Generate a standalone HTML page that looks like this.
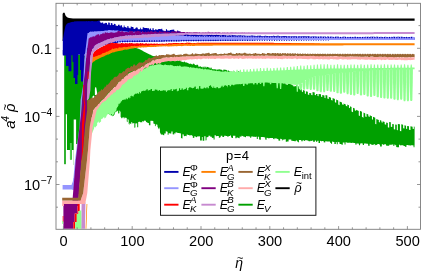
<!DOCTYPE html>
<html><head><meta charset="utf-8"><title>plot</title>
<style>
html,body{margin:0;padding:0;background:#ffffff;}
body{width:425px;height:273px;overflow:hidden;}
svg{display:block;will-change:transform;}
text{font-family:"Liberation Sans",sans-serif;fill:#000000;}
</style></head><body>
<svg width="425" height="273" viewBox="0 0 425 273">
<rect x="0" y="0" width="425" height="273" fill="#ffffff"/>
<g id="plot">
<polygon points="62.6,41 62.6,14 63.2,12.8 64.6,12.8 65.5,15.5 67,17.2 69,18 73,18.5 80,18.6 414.6,18.6 414.6,20.7 100,20.7 97,22.2 90,23 70,26 66,41" fill="#000000" />
<polygon points="64.2,55 65.7,55 65.7,55 67.2,55 67.2,55 68.7,55 68.7,55 70.2,55 70.2,55 71.7,55 71.7,55 73.2,55 73.2,55 74.7,55 74.7,55 76.2,55 76.2,55 77.7,55 77.7,55 79.2,55 79.2,55 80.7,55 80.7,55 82.2,55 82.2,55 83.7,55 83.7,55 85.2,56.5 85.2,56.5 86.7,58.38 86.7,58.38 88.2,60.2 88.2,60.2 89.7,61.7 89.7,61.7 91.2,62.65 91.2,62.65 92.7,60.02 92.7,60.02 94.2,57.4 94.2,57.4 95.7,55.65 95.7,55.65 97.2,54.9 97.2,54.9 98.7,54.15 98.7,54.15 100.2,53.4 100.2,53.4 101.7,52.65 101.7,52.65 103.2,51.9 103.2,51.9 104.7,51.15 104.7,51.15 106.2,50.88 106.2,50.88 107.7,50.73 107.7,50.73 109.2,50.58 109.2,50.58 110.7,50.43 110.7,50.43 112.2,50.28 112.2,50.28 113.7,50.13 113.7,50.13 115.2,49.98 115.2,49.98 116.7,49.83 116.7,49.83 118.2,49.68 118.2,49.68 119.7,49.53 119.7,49.53 121.2,49.32 121.2,49.32 122.7,49.09 122.7,49.09 124.2,48.87 124.2,48.87 125.7,48.65 125.7,48.65 127.2,48.49 127.2,48.49 128.7,48.35 128.7,48.35 130.2,48.21 130.2,48.21 131.7,48.07 131.7,48.07 133.2,47.98 133.2,47.98 134.7,47.94 134.7,47.94 136.2,47.97 136.2,47.97 137.7,48.54 137.7,48.54 139.2,49.1 139.2,49.1 140.7,49.79 140.7,49.79 142.2,50.62 142.2,50.62 143.7,51.45 143.7,51.45 145.2,52.26 145.2,52.26 146.7,53.03 146.7,53.03 148.2,53.79 148.2,53.79 149.7,54.42 149.7,54.42 151.2,55 151.2,55.28 152.32,55.71 152.32,55.73 153.77,56.17 153.77,56 155.11,56.29 155.11,56.1 155.95,56.29 155.95,56.39 156.77,56.57 156.77,56.82 157.62,57.01 157.62,55.96 158.84,56.43 158.84,57.43 159.75,57.85 159.75,56.48 161.19,57.14 161.19,58.35 162.57,58.99 162.57,59.19 164.36,60.02 164.36,59.91 166.03,60.68 166.03,60.77 166.96,60.99 166.96,59.98 168.06,60 168.06,60.54 169.03,60.55 169.03,60.86 170.48,60.88 170.48,61.06 171.83,61.08 171.83,61.03 172.67,61.04 172.67,60.84 174.16,60.87 174.16,60.62 175.26,60.64 175.26,61.02 176.51,61.04 176.51,60.42 178.12,60.44 178.12,60.7 179.15,60.71 179.15,59.99 180.48,60.14 180.48,61.23 182.02,61.67 182.02,61.75 183.82,62.26 183.82,61.41 185.03,61.75 185.03,62.29 185.97,62.55 185.97,62.22 186.79,62.46 186.79,62.64 188.37,63.09 188.37,63.43 190.06,63.91 190.06,63.53 191.56,63.97 191.56,64.19 192.94,64.62 192.94,63.5 194.6,64.01 194.6,64.77 195.87,65.17 195.87,65.09 196.71,65.35 196.71,64.51 198.17,64.96 198.17,66.44 199.8,66.84 199.8,66.28 200.98,66.48 200.98,66.85 201.79,66.98 201.79,67.26 202.74,67.42 202.74,66.54 203.58,66.69 203.58,67.51 204.5,67.66 204.5,66.56 205.68,66.76 205.68,67.67 206.55,67.81 206.55,66.87 207.9,67.1 207.9,67.16 209.53,67.44 209.53,68.37 210.6,68.55 210.6,67.56 211.75,67.76 211.75,68.95 213.53,69.25 213.53,69.21 214.49,69.38 214.49,69.12 215.52,69.29 215.52,69.53 216.91,69.72 216.91,69.57 217.69,69.66 217.69,69.44 218.86,69.57 218.86,69.32 220.63,69.52 220.63,69.67 221.94,69.83 221.94,70.38 223.43,70.55 223.43,69.62 225.14,69.82 225.14,69.77 226.83,69.96 226.83,70.73 228.02,70.86 228.02,70.49 228.91,70.59 228.91,71.17 229.75,71.27 229.75,71.24 230.75,71.42 230.75,71.45 231.88,71.67 231.88,71.65 232.66,71.81 232.66,71.66 233.55,71.84 233.55,70.82 234.36,70.98 234.36,72.15 235.77,72.43 235.77,72.3 236.82,72.51 236.82,72.65 237.98,72.88 237.98,71.32 239.64,71.65 239.64,72.9 240.9,73.16 240.9,73.47 241.77,73.64 241.77,73.57 242.91,73.8 242.91,73.85 244.55,74.18 244.55,72.78 245.35,72.94 245.35,74.35 246.68,74.61 246.68,74.64 248.03,74.91 248.03,73.38 249.36,73.65 249.36,74.45 251.04,74.84 251.04,75.38 252.09,75.65 252.09,74.92 253.04,75.16 253.04,75.14 254.38,75.47 254.38,76.33 255.5,76.62 255.5,75.13 257.12,75.53 257.12,76.08 258.79,76.5 258.79,76.67 260.42,77.08 260.42,77.53 261.44,77.78 261.44,78.16 262.59,78.45 262.59,78.35 263.39,78.55 263.39,77.94 264.44,78.2 264.44,78.64 266.22,79.08 266.22,77.8 267.97,78.24 267.97,79.62 269.75,80.06 269.75,80.18 270.76,80.42 270.76,80.43 271.74,80.67 271.74,79.45 273.17,79.79 273.17,80.74 274.82,81.14 274.82,80.48 276.28,80.83 276.28,81.17 277.15,81.37 277.15,81.08 278.88,81.5 278.88,82.12 280.44,82.49 280.44,81.85 281.4,82.09 281.4,82.06 282.53,82.33 282.53,83.1 284.32,83.53 284.32,82.32 285.52,82.6 285.52,84.2 287.05,84.55 287.05,84.56 287.96,84.77 287.96,83.02 289.68,83.42 289.68,83.32 290.62,83.53 290.62,84.28 292.42,84.77 292.42,85.15 293.56,85.63 293.56,86.4 294.48,86.79 294.48,85.68 296.27,86.44 296.27,85.08 297.59,85.64 297.59,85.99 298.82,86.51 298.82,88.55 300,89.05 300,88.27 301.83,89.15 301.83,91.62 302.97,92.17 302.97,89.9 304.81,90.78 304.81,93.54 305.89,93.9 305.89,91.2 307.85,91.79 307.85,94.61 309.2,95.02 309.2,92.93 311.24,93.35 311.24,95.02 312.55,95.21 312.55,92.11 314.73,92.44 314.73,95.03 315.99,95.22 315.99,93.88 317.5,94.1 317.5,96.01 318.6,96.18 318.6,93.88 321.04,94.35 321.04,96.82 322.24,97.12 322.24,95.01 324.46,95.57 324.46,97.86 325.52,98.13 325.52,95.02 327.35,95.48 327.35,98.54 328.81,99.04 328.81,96.76 331.04,97.7 331.04,99.91 332.59,100.56 332.59,97.94 334.88,98.91 334.88,102.3 336.19,102.85 336.19,99.5 338.28,100.39 338.28,104.58 339.57,105.14 339.57,101.5 341.97,102.55 341.97,104.26 343.54,104.98 343.54,103.39 345.77,104.53 345.77,105.77 347.27,106.54 347.27,104.5 348.93,105.35 348.93,107.77 349.97,108.3 349.97,106.24 351.57,107.04 351.57,111.47 353.04,112.16 353.04,107.8 354.74,108.59 354.74,110.28 356.13,110.93 356.13,109.64 358.78,110.98 358.78,115.49 359.91,116.08 359.91,110.81 361.93,111.87 361.93,116.8 363.53,117.64 363.53,112.62 365.24,113.48 365.24,116.54 366.55,117.05 366.55,113.81 368.3,114.5 368.3,116.37 369.73,116.93 369.73,115.25 371.95,116.15 371.95,119.27 372.96,119.71 372.96,116.71 375.28,117.72 375.28,123.89 376.31,124.35 376.31,118.91 378.84,120 378.84,122.06 379.9,122.44 379.9,120.07 381.45,120.63 381.45,122.33 382.62,122.74 382.62,121.25 384.66,121.98 384.66,124.13 386.16,124.65 386.16,122.51 387.85,122.93 387.85,127.34 389.19,127.68 389.19,121.89 390.81,122.29 390.81,126.7 392.22,127.05 392.22,124.06 393.82,124.32 393.82,129.29 395.2,129.51 395.2,124.41 396.8,124.67 396.8,130.12 397.84,130.28 397.84,124 399.93,124.33 399.93,130.99 401.27,131.34 401.27,124.34 403.11,124.84 403.11,128.2 404.43,128.55 404.43,125.24 406.07,125.67 406.07,128.8 407.1,128.95 407.1,126.05 409.01,126.34 409.01,129.73 410.46,129.95 410.46,126.36 412.61,126.68 412.61,128.8 413.82,128.98 413.82,126.61 414.6,126.72 414.6,145.54 414.48,145.53 414.48,147.27 413.54,147.24 413.54,145.4 412.5,145.36 412.5,145.32 410.95,145.26 410.95,145.48 409.58,145.43 409.58,145.32 407.93,145.26 407.93,145.11 406.46,145.06 406.46,146.81 404.9,146.75 404.9,146.05 403.48,146 403.48,145.3 402.45,145.26 402.45,145.33 400.93,145.27 400.93,145.39 400.05,145.36 400.05,144.82 399,144.78 399,147.26 397.3,147.2 397.3,147.16 396.18,147.12 396.18,145.36 395.37,145.33 395.37,144.65 394.33,144.61 394.33,145.97 393.34,145.94 393.34,144.58 391.75,144.52 391.75,144.78 390.64,144.74 390.64,144.69 389.23,144.64 389.23,145.87 387.59,145.81 387.59,145.67 385.98,145.61 385.98,144.36 384.23,144.29 384.23,144.77 383,144.73 383,144.31 381.82,144.27 381.82,146.45 380.05,146.38 380.05,144.58 379.02,144.54 379.02,144.04 377.26,143.97 377.26,144.91 375.53,144.85 375.53,145.29 374.75,145.26 374.75,144.03 373.64,143.99 373.64,145.07 372.58,145.03 372.58,144.69 370.81,144.62 370.81,143.88 369.67,143.84 369.67,145.72 368.12,145.66 368.12,143.76 366.38,143.7 366.38,143.58 365.56,143.55 365.56,143.54 363.99,143.46 363.99,145.08 362.78,145 362.78,143.39 361.07,143.28 361.07,143.56 360.09,143.5 360.09,145.35 358.92,145.28 358.92,143.64 358.09,143.59 358.09,143.51 356.45,143.41 356.45,144.66 355.3,144.59 355.3,143.01 353.52,142.9 353.52,142.85 351.74,142.74 351.74,142.97 350.67,142.91 350.67,142.65 349.72,142.59 349.72,142.82 348.55,142.75 348.55,142.82 347.08,142.73 347.08,142.43 345.52,142.34 345.52,144.55 344.55,144.49 344.55,142.5 342.8,142.39 342.8,144.72 341.26,144.62 341.26,144.03 339.54,143.92 339.54,142.3 338.7,142.25 338.7,141.93 337.77,141.87 337.77,144.28 336.77,144.22 336.77,142.14 335.84,142.08 335.84,144.03 334.37,143.94 334.37,142.04 333.36,141.98 333.36,141.67 332.06,141.59 332.06,143.83 330.97,143.76 330.97,142.87 329.96,142.81 329.96,141.51 328.33,141.41 328.33,141.5 326.54,141.4 326.54,141.28 325.24,141.2 325.24,142.44 323.63,142.35 323.63,141.1 322.14,141.01 322.14,141.32 321.01,141.26 321.01,140.88 319.99,140.82 319.99,142.97 318.52,142.89 318.52,140.86 317.3,140.79 317.3,141.73 316,141.66 316,140.58 314.9,140.52 314.9,141.7 313.12,141.63 313.12,140.56 312.1,140.52 312.1,140.9 310.4,140.83 310.4,141.31 308.62,141.24 308.62,140.73 307.53,140.69 307.53,140.22 306.12,140.17 306.12,140.26 304.94,140.21 304.94,140.9 303.61,140.85 303.61,140.07 302.72,140.04 302.72,141.19 301.28,141.13 301.28,140.09 300.36,140.06 300.36,140.08 298.91,140.03 298.91,142.21 297.89,142.17 297.89,141.45 297.07,141.42 297.07,140.52 295.81,140.47 295.81,141.29 294.36,141.23 294.36,141.04 292.6,140.97 292.6,140.81 291.28,140.75 291.28,139.56 290.38,139.52 290.38,139.61 288.59,139.54 288.59,141.45 286.95,141.38 286.95,141.77 285.77,141.73 285.77,139.29 284.38,139.2 284.38,139.75 282.66,139.58 282.66,140.38 281.85,140.3 281.85,138.95 280.16,138.78 280.16,140.78 278.39,140.61 278.39,139.09 277.2,138.97 277.2,138.61 276.13,138.51 276.13,138.47 274.46,138.3 274.46,139.25 273.15,139.12 273.15,138.11 271.37,137.93 271.37,138.07 270.52,137.98 270.52,138.08 269.35,137.96 269.35,138.39 268.14,138.27 268.14,137.99 266.58,137.83 266.58,139.63 265.21,139.49 265.21,137.43 264.18,137.32 264.18,137.19 263.04,137.08 263.04,137.08 262.06,136.98 262.06,137 260.82,136.88 260.82,139.7 259.09,139.57 259.09,136.82 257.8,136.76 257.8,138.97 256.8,138.92 256.8,136.66 255.85,136.61 255.85,136.93 254.49,136.87 254.49,136.7 253.02,136.63 253.02,136.57 251.23,136.49 251.23,137.82 250.14,137.77 250.14,136.56 248.87,136.5 248.87,136.26 247.12,136.17 247.12,136.15 246.05,136.09 246.05,137.19 244.48,137.11 244.48,136.51 242.94,136.44 242.94,135.95 241.41,135.87 241.41,136.64 239.65,136.55 239.65,138.14 238.22,138.07 238.22,137.54 236.52,137.45 236.52,138.24 235.35,138.19 235.35,135.65 234.04,135.64 234.04,135.73 233,135.74 233,138.07 231.92,138.08 231.92,137.53 231.04,137.53 231.04,135.6 229.97,135.61 229.97,136.06 228.82,136.07 228.82,136.52 227,136.54 227,136.01 225.83,136.02 225.83,135.84 224.11,135.86 224.11,137.04 222.37,137.05 222.37,135.71 220.72,135.73 220.72,137.24 219.93,137.24 219.93,137.67 218.83,137.69 218.83,136 217.9,136.01 217.9,135.94 216.65,135.95 216.65,136.35 215.87,136.36 215.87,135.33 214.58,135.36 214.58,139.4 213.56,139.46 213.56,137.78 211.86,137.88 211.86,136.67 210.23,136.76 210.23,135.67 208.45,135.76 208.45,136.94 207.53,136.99 207.53,137.31 206.53,137.36 206.53,140.34 205.53,140.39 205.53,136.15 204.28,136.22 204.28,140.7 202.65,140.79 202.65,136.95 201.85,136.99 201.85,140.5 200.05,140.6 200.05,136.32 198.34,136.41 198.34,136.31 197.08,136.38 197.08,137.28 195.76,137.05 195.76,136.44 194.28,136.16 194.28,138.1 192.8,137.81 192.8,135.82 191.96,135.66 191.96,135.37 190.59,135.11 190.59,135.48 189.03,135.19 189.03,135.06 188.1,134.89 188.1,134.65 186.65,134.38 186.65,136.13 185.08,135.82 185.08,136.27 183.8,136.02 183.8,134.42 182.5,134.16 182.5,138.39 180.95,138.08 180.95,133.39 179.42,133.08 179.42,133.2 178.56,133.03 178.56,133 177.01,132.69 177.01,132.46 175.55,132.16 175.55,133.44 174.24,133.18 174.24,134.59 172.63,134.27 172.63,131.57 171.34,131.42 171.34,133.61 169.91,133.56 169.91,133.2 168.55,133.15 168.55,134.77 167.66,134.73 167.66,131.83 166.74,131.79 166.74,131.25 165.73,131.21 165.73,133.5 164.24,133.44 164.24,135.15 162.85,135.1 162.85,134.47 161.23,134.41 161.23,135.11 159.93,132.17 159.93,129.41 159,126.88 159,129.39 157.46,126.47 157.46,124.72 155.75,124.16 155.75,126.17 154.93,125.9 154.93,124.01 153.39,123.51 153.39,121.18 151.59,120.59 151.59,121.04 150.4,120.87 150.4,125.15 148.88,125.23 148.88,122.95 147.32,123.03 147.32,122.06 145.93,122.13 145.93,120.81 144.83,120.87 144.83,120.61 144.01,120.65 144.01,121.5 143.14,121.54 143.14,121.04 142.35,121.07 142.35,122.15 141.36,122.2 141.36,122.19 140.09,122.36 140.09,121.72 139.31,121.85 139.31,121.74 138.2,121.93 138.2,127.19 137.17,127.36 137.17,123.14 135.38,123.43 135.38,127.61 134.33,127.79 134.33,122.99 133.38,123.15 133.38,123.23 132.3,123.41 132.3,122.53 131.22,121.97 131.22,124.35 129.54,123.02 129.54,124.74 128.67,124.06 128.67,119.8 127.62,118.98 127.62,122.17 126.77,121.5 126.77,118.26 125.93,117.61 125.93,118.16 124.73,117.05 124.73,118.79 123.22,116.64 123.22,118.55 122.08,116.94 122.08,118.82 120.59,116.7 120.59,111.98 119.4,110.3 119.4,113.16 118.1,113.57 118.1,110.28 116.47,112.05 116.47,111.09 114.72,112.98 114.72,114.18 113.74,115.24 113.74,115.72 112.2,116.16 112.2,115.63 110.7,114.94 110.7,114.94 109.2,114.25 109.2,114.25 107.7,113.55 107.7,113.55 106.2,112.86 106.2,112.86 104.7,112.17 104.7,112.17 103.2,111.48 103.2,111.48 101.7,110.78 101.7,110.78 100.2,110.09 100.2,110.09 98.7,111.08 98.7,111.08 97.2,112.33 97.2,112.33 95.7,113.58 95.7,113.58 94.2,114.83 94.2,114.83 92.7,116.08 92.7,116.08 91.2,117.33 91.2,117.33 89.7,118.58 89.7,118.58 88.2,119.83 88.2,119.83 86.7,126.5 86.7,126.5 85.2,134 85.2,134 83.7,143.75 83.7,143.75 82.2,162.5 82.2,162.5 80.7,165 80.7,165 79.2,165 79.2,165 77.7,165 77.7,165 76.2,165 76.2,165 74.7,165 74.7,165 73.2,165 73.2,165 71.7,165 71.7,165 70.2,165 70.2,165 68.7,165 68.7,165 67.2,165 67.2,165 65.7,165 65.7,165 64.2,165" fill="#00a000" />
<polygon points="65.8,114.3 67,114.3 67,166 65.8,166" fill="#ffffff" />
<polygon points="73.7,119.5 76.1,119.5 76.1,166 73.7,166" fill="#ffffff" />
<polygon points="79.4,143 83,143 83,166 79.4,166" fill="#ffffff" />
<polygon points="76.1,144 79.4,144 79.4,166 76.1,166" fill="#ffffff" />
<polygon points="64.2,164 65.8,164 65.8,166 64.2,166" fill="#ffffff" />
<polygon points="67,150 70,150 70,159.5 72,159.5 72,150 73.7,150 73.7,166 67,166" fill="#ffffff" />
<polygon points="69.9,143 71.8,143 71.8,159.5 69.9,159.5" fill="#55cc55" />
<polygon points="94.9,95 94.9,89 95.4,86.9 96.2,87.5 97.2,93 97.2,95" fill="#ffffff" />
<polygon points="92.5,99 92.5,96.5 93.6,95.4 94.4,96 94.4,99" fill="#ffffff" />
<polygon points="92,128.01 93.1,119.21 93.1,119.35 94.04,112.09 94.04,111.91 95.71,109.4 95.71,109.84 97.22,107.58 97.22,106.79 97.98,105.65 97.98,106.12 98.88,104.76 98.88,105.05 100.49,102.82 100.49,102.73 101.64,101.47 101.64,101.29 103.27,99.5 103.27,99.27 104.59,97.82 104.59,97.71 105.44,96.77 105.44,96.72 106.74,95.29 106.74,95.77 107.47,94.96 107.47,94.49 108.37,93.5 108.37,93.36 109.85,91.73 109.85,92.21 110.67,91.52 110.67,91.13 112,90.06 112,90.18 113.39,89.07 113.39,89.1 114.41,88.29 114.41,88.39 115.67,87.38 115.67,87.33 117.22,86.09 117.22,85.93 118.13,85.2 118.13,85.42 118.85,84.84 118.85,85.3 120.36,84.13 120.36,83.26 121.52,82.45 121.52,83.34 122.77,82.47 122.77,81.93 123.58,81.37 123.58,81.28 124.78,80.44 124.78,80.26 126,79.41 126,80.26 127.19,79.43 127.19,79.41 128.1,78.77 128.1,77.88 129.76,76.72 129.76,77.57 131.37,76.61 131.37,75.86 132.68,75.1 132.68,75.34 134.16,74.49 134.16,74.26 135.69,73.37 135.69,73.71 136.62,73.17 136.62,72.9 137.71,72.26 137.71,72.06 139.13,71.23 139.13,71.23 140.38,70.53 140.38,71.09 141.91,70.28 141.91,69.99 143.16,69.33 143.16,69.45 144.28,68.85 144.28,68.87 145.63,68.15 145.63,68.2 146.38,67.81 146.38,68.1 147.32,67.6 147.32,67.29 148.48,66.68 148.48,66.63 149.3,66.2 149.3,66.28 150.11,65.88 150.11,65.45 150.87,65.26 150.87,65.68 152.3,65.31 152.3,65.18 153.07,64.98 153.07,65.46 154.7,65.03 154.7,64.99 156.38,64.94 156.38,64.62 157.28,64.63 157.28,64.3 158.92,64.33 158.92,64.23 160.4,64.26 160.4,64.35 161.45,64.37 161.45,65.03 163.04,65.06 163.04,65.16 163.89,65.17 163.89,64.76 164.81,64.78 164.81,64.45 165.84,64.47 165.84,64.97 166.71,65 166.71,65.11 168.29,65.27 168.29,65.12 169.12,65.21 169.12,65.13 170.19,65.24 170.19,64.78 171.47,64.92 171.47,65.21 173.14,65.38 173.14,65.97 174.63,66.13 174.63,65.9 175.9,66.03 175.9,66.01 177.04,66.13 177.04,65.64 177.81,65.72 177.81,66.05 179.14,66.19 179.14,65.6 180.5,65.74 180.5,66.36 181.25,66.44 181.25,66.72 182.39,66.83 182.39,66.59 183.24,66.68 183.24,66.38 183.98,66.47 183.98,66.34 184.8,66.44 184.8,66.42 186.08,66.58 186.08,66.51 187.4,66.67 187.4,66.69 189.02,66.88 189.02,67.61 189.83,67.7 189.83,67.1 191.3,67.28 191.3,67.57 192.03,67.66 192.03,67.55 193.09,67.67 193.09,67.48 194.71,67.68 194.71,67.96 196.3,68.15 196.3,67.68 197.4,67.82 197.4,68.31 198.87,68.49 198.87,68.14 200.5,68.34 200.5,68.78 201.8,68.94 201.8,68.61 203.3,68.8 203.3,69.38 204.31,69.51 204.31,68.63 205.78,68.81 205.78,69.27 207.31,69.46 207.31,69.22 208.74,69.41 208.74,69.22 209.56,69.32 209.56,69.98 210.61,70.11 210.61,69.68 212.14,69.87 212.14,70.4 213.39,70.55 213.39,70.41 214.61,70.56 214.61,70.8 216.26,71.01 216.26,70.36 216.99,70.46 216.99,70.97 218.43,71.15 218.43,70.73 219.46,70.86 219.46,71.16 220.41,71.26 220.41,71.61 221.8,71.7 221.8,71.42 222.97,71.5 222.97,71.52 224.51,71.63 224.51,71.11 225.78,71.2 225.78,71.9 227.09,71.95 227.09,71.15 227.95,71.18 227.95,71.21 228,71.21 228,87.29 227.5,87.35 227.5,85.65 225.99,85.83 225.99,85.07 224.73,85.21 224.73,85.68 223.81,85.78 223.81,87.04 222.64,87.17 222.64,85.71 221.59,85.84 221.59,86.77 220.84,86.85 220.84,87.83 219.63,87.94 219.63,88.25 218.01,88.3 218.01,87.22 217.27,87.24 217.27,87.08 216.47,87.1 216.47,88.27 215.39,88.31 215.39,87.87 214.13,87.91 214.13,86.57 213.41,86.6 213.41,88.02 212.21,88.06 212.21,86.72 211.04,86.76 211.04,85.2 210.19,85.22 210.19,85.86 208.93,85.9 208.93,88.23 207.5,88.28 207.5,87.01 206.59,87.04 206.59,88.15 205.02,88.2 205.02,87.59 203.71,87.7 203.71,88.5 202.23,88.69 202.23,88.73 201.18,88.87 201.18,88.41 200.32,88.52 200.32,86.09 198.97,86.26 198.97,89.33 198.24,89.42 198.24,88.27 197.38,88.38 197.38,88.93 195.87,89.12 195.87,86.5 194.26,86.71 194.26,87.81 192.92,87.98 192.92,88.22 191.91,88.35 191.91,87.69 190.5,87.83 190.5,86.96 189.37,87.04 189.37,87.94 188.4,88.01 188.4,90.16 186.88,90.26 186.88,87.65 185.87,87.72 185.87,88.95 184.37,89.06 184.37,89.67 182.72,89.78 182.72,88.3 181.55,88.38 181.55,89.85 180.09,89.95 180.09,88.13 178.99,88.21 178.99,90.63 177.76,90.71 177.76,91.21 176.83,91.27 176.83,88.84 175.44,88.94 175.44,89.5 174.7,89.55 174.7,89.47 173.93,89.53 173.93,89.37 173.09,89.43 173.09,90.89 171.72,90.99 171.72,89 170.6,89.07 170.6,90.2 169.27,90.29 169.27,90.25 168.03,90.34 168.03,90.56 166.81,90.65 166.81,91.96 165.94,91.97 165.94,90.54 164.28,90.5 164.28,90.31 162.81,90.27 162.81,90.86 161.2,90.82 161.2,90.89 159.88,90.86 159.88,90.07 158.92,90.04 158.92,90.67 157.45,90.63 157.45,89.87 156.13,89.84 156.13,89.46 154.79,89.42 154.79,90.74 153.4,90.71 153.4,91.05 151.99,91.01 151.99,89.04 150.55,89.01 150.55,90.16 148.96,90.12 148.96,90.52 147.66,90.49 147.66,89.05 146.33,89.42 146.33,90.28 144.85,90.87 144.85,90.63 143.76,91.06 143.76,90.59 142.43,91.12 142.43,91.1 141,91.66 141,93.1 139.91,93.53 139.91,91.86 139.1,92.19 139.1,93.69 138.19,94.05 138.19,93.09 136.97,93.57 136.97,93.56 136.1,93.91 136.1,93.5 134.71,94.07 134.71,94.42 133.76,94.9 133.76,96.3 132.92,96.72 132.92,95.99 131.78,96.56 131.78,95.58 130.42,96.26 130.42,97.88 129.39,98.4 129.39,97.21 127.95,97.94 127.95,98.91 126.78,99.5 126.78,98.25 125.7,98.79 125.7,99.43 124.73,99.92 124.73,99.22 123.15,100.01 123.15,99.72 122.05,100.27 122.05,101.03 120.73,101.69 120.73,102.62 119.25,104.49 119.25,102.8 118.43,104.46 118.43,105.46 117.5,107.33 117.5,106.81 116.53,108.77 116.53,110.08 115.34,112.49 115.34,110.93 114.15,113.34 114.15,114.07 112.49,115.55 112.49,116.36 111.77,115.93 111.77,114.16 110.96,113.68 110.96,115.75 109.72,115.02 109.72,114.54 108.26,114.09 108.26,113.28 107.51,114.15 107.51,114.69 106.31,116.07 106.31,117.11 105.23,118.34 105.23,117.6 104.27,118.71 104.27,116.63 103.24,117.56 103.24,118.11 102.43,118.7 102.43,118.38 101.1,119.33 101.1,121.5 99.6,122.57 99.6,122.64 98.77,123.23 98.77,121.31 97.15,123.04 97.15,125.16 96.36,126.15 96.36,126.08 94.86,127.97 94.86,126.38 94.08,127.37 94.08,128.49 92.75,131.47 92.75,131.34 92,133.58" fill="#90ff90" />
<polygon points="225,71.6 226.5,71.61 226.5,71.61 228,71.66 228,71.66 229.5,71.7 229.5,71.7 231,71.74 231,71.74 232.5,71.79 232.5,71.79 234,71.83 234,71.83 235.5,71.87 235.5,71.87 237,71.91 237,71.91 238.5,71.96 238.5,71.96 240,72 240,72 241.5,71.94 241.5,71.94 243,71.88 243,71.88 244.5,71.82 244.5,71.82 246,71.76 246,71.76 247.5,71.7 247.5,71.7 249,71.64 249,71.64 250.5,71.58 250.5,71.58 252,71.52 252,71.52 253.5,71.46 253.5,71.46 255,71.4 255,71.4 256.5,71.34 256.5,71.34 258,71.28 258,71.28 259.5,71.22 259.5,71.22 261,71.16 261,71.16 262.5,71.1 262.5,71.1 264,71.04 264,71.04 265.5,70.98 265.5,70.98 267,70.92 267,70.92 268.5,70.86 268.5,70.86 270,70.8 270,70.8 271.5,70.74 271.5,70.74 273,70.68 273,70.68 274.5,70.62 274.5,70.62 276,70.56 276,70.56 277.5,70.5 277.5,70.5 279,70.44 279,70.44 280.5,70.38 280.5,70.38 282,70.31 282,70.31 283.5,70.24 283.5,70.24 285,70.18 285,70.18 286.5,70.11 286.5,70.11 288,70.04 288,70.04 289.5,69.97 289.5,69.97 291,69.91 291,69.91 292.5,69.84 292.5,69.84 294,69.77 294,69.77 295.5,69.7 295.5,69.7 297,69.64 297,69.64 298.5,69.57 298.5,69.57 300,69.5 300,69.5 301.5,69.44 301.5,69.44 303,69.38 303,69.38 304.5,69.32 304.5,69.32 306,69.26 306,69.26 307.5,69.2 307.5,69.2 309,69.14 309,69.14 310.5,69.08 310.5,69.08 312,69.02 312,69.02 313.5,68.96 313.5,68.96 315,68.9 315,68.9 316.5,68.84 316.5,68.84 318,68.78 318,68.78 319.5,68.72 319.5,68.72 321,68.69 321,68.69 322.5,68.67 322.5,68.67 324,68.65 324,68.65 325.5,68.64 325.5,68.64 327,68.62 327,68.62 328.5,68.6 328.5,68.6 330,68.58 330,68.58 331.5,68.57 331.5,68.57 333,68.55 333,68.55 334.5,68.53 334.5,68.53 336,68.51 336,68.51 337.5,68.5 337.5,68.5 339,68.48 339,68.48 340.5,68.46 340.5,68.46 342,68.44 342,68.44 343.5,68.43 343.5,68.43 345,68.41 345,68.41 346.5,68.39 346.5,68.39 348,68.37 348,68.37 349.5,68.36 349.5,68.36 351,68.34 351,68.34 352.5,68.32 352.5,68.32 354,68.3 354,68.3 355.5,68.29 355.5,68.29 357,68.27 357,68.27 358.5,68.25 358.5,68.25 360,68.23 360,68.23 361.5,68.22 361.5,68.22 363,68.2 363,68.2 364.5,68.18 364.5,68.18 366,68.17 366,68.17 367.5,68.15 367.5,68.15 369,68.13 369,68.13 370.5,68.11 370.5,68.11 372,68.1 372,68.1 373.5,68.08 373.5,68.08 375,68.06 375,68.06 376.5,68.04 376.5,68.04 378,68.03 378,68.03 379.5,68.01 379.5,68.01 381,67.99 381,67.99 382.5,67.97 382.5,67.97 384,67.96 384,67.96 385.5,67.94 385.5,67.94 387,67.92 387,67.92 388.5,67.9 388.5,67.9 390,67.89 390,67.89 391.5,67.87 391.5,67.87 393,67.85 393,67.85 394.5,67.83 394.5,67.83 396,67.82 396,67.82 397.5,67.8 397.5,67.8 399,67.78 399,67.78 400.5,67.76 400.5,67.76 402,67.75 402,67.75 403.5,67.73 403.5,67.73 405,67.71 405,67.71 406.5,67.69 406.5,67.69 408,67.68 408,67.68 409.5,67.66 409.5,67.66 411,67.64 411,67.64 412.5,67.62 412.5,67.62 414,67.61 414,67.61 414.6,67.6 414.6,69.3 414,69.31 414,69.31 412.5,69.34 412.5,69.34 411,69.37 411,69.37 409.5,69.39 409.5,69.39 408,69.42 408,69.42 406.5,69.45 406.5,69.45 405,69.47 405,69.47 403.5,69.5 403.5,69.5 402,69.53 402,69.53 400.5,69.56 400.5,69.56 399,69.58 399,69.58 397.5,69.61 397.5,69.61 396,69.64 396,69.64 394.5,69.66 394.5,69.66 393,69.69 393,69.69 391.5,69.72 391.5,69.72 390,69.75 390,69.75 388.5,69.77 388.5,69.77 387,69.8 387,69.8 385.5,69.83 385.5,69.83 384,69.85 384,69.85 382.5,69.88 382.5,69.88 381,69.91 381,69.91 379.5,69.94 379.5,69.94 378,69.96 378,69.96 376.5,69.99 376.5,69.99 375,70.08 375,70.08 373.5,70.21 373.5,70.21 372,70.33 372,70.33 370.5,70.46 370.5,70.46 369,70.58 369,70.58 367.5,70.71 367.5,70.71 366,70.83 366,70.83 364.5,70.96 364.5,70.96 363,71.08 363,71.08 361.5,71.21 361.5,71.21 360,71.33 360,71.33 358.5,71.46 358.5,71.46 357,71.58 357,71.58 355.5,71.71 355.5,71.71 354,71.83 354,71.83 352.5,71.96 352.5,71.96 351,72.08 351,72.08 349.5,72.21 349.5,72.21 348,72.33 348,72.33 346.5,72.46 346.5,72.46 345,72.58 345,72.58 343.5,72.71 343.5,72.71 342,72.83 342,72.83 340.5,72.96 340.5,72.96 339,73.14 339,73.14 337.5,73.35 337.5,73.35 336,73.56 336,73.56 334.5,73.77 334.5,73.77 333,73.98 333,73.98 331.5,74.19 331.5,74.19 330,74.4 330,74.4 328.5,74.61 328.5,74.61 327,74.82 327,74.82 325.5,75.03 325.5,75.03 324,75.24 324,75.24 322.5,75.45 322.5,75.45 321,75.66 321,75.66 319.5,75.87 319.5,75.87 318,76.08 318,76.08 316.5,76.29 316.5,76.29 315,76.5 315,76.5 313.5,77.08 313.5,77.08 312,77.67 312,77.67 310.5,78.25 310.5,78.25 309,78.83 309,78.83 307.5,79.42 307.5,79.42 306,80 306,80 304.5,81.2 304.5,81.2 303,82.4 303,82.4 301.5,83.6 301.5,83.6 300,84.2 300,84.2 298.5,84.5 298.5,84.5 297,84.8 297,84.8 295.5,84.93 295.5,84.93 294,84.73 294,84.73 292.5,84.52 292.5,84.52 291,84.32 291,84.32 289.5,84.11 289.5,84.11 288,83.91 288,83.91 286.5,83.7 286.5,83.7 285,83.5 285,83.5 283.5,83.43 283.5,83.43 282,83.35 282,83.35 280.5,83.28 280.5,83.28 279,83.2 279,83.2 277.5,83.13 277.5,83.13 276,83.05 276,83.05 274.5,82.98 274.5,82.98 273,82.91 273,82.91 271.5,82.83 271.5,82.83 270,82.76 270,82.76 268.5,82.68 268.5,82.68 267,82.61 267,82.61 265.5,82.53 265.5,82.53 264,82.55 264,82.55 262.5,82.64 262.5,82.64 261,82.73 261,82.73 259.5,82.82 259.5,82.82 258,82.91 258,82.91 256.5,83 256.5,83 255,83.09 255,83.09 253.5,83.18 253.5,83.18 252,83.27 252,83.27 250.5,83.36 250.5,83.36 249,83.46 249,83.46 247.5,83.55 247.5,83.55 246,83.64 246,83.64 244.5,83.73 244.5,83.73 243,83.82 243,83.82 241.5,83.91 241.5,83.91 240,84 240,84 238.5,84.13 238.5,84.13 237,84.26 237,84.26 235.5,84.39 235.5,84.39 234,84.51 234,84.51 232.5,84.64 232.5,84.64 231,84.77 231,84.77 229.5,84.9 229.5,84.9 228,85.03 228,85.03 226.5,85.16 226.5,85.16 225,85.2" fill="#90ff90" />
<polygon points="229.4,72.32 229.85,70.88 230.85,70.88 231.3,72.32" fill="#90ff90" />
<polygon points="229.4,84.23 231.3,84.23 230.95,86.15 229.75,86.15" fill="#90ff90" />
<polygon points="232.75,72.42 233.2,70.55 234.2,70.55 234.65,72.42" fill="#90ff90" />
<polygon points="232.75,83.94 234.65,83.94 234.3,85.36 233.1,85.36" fill="#90ff90" />
<polygon points="236.1,72.52 236.55,69.75 237.55,69.75 238,72.52" fill="#90ff90" />
<polygon points="239.45,72.58 239.9,69.81 240.9,69.81 241.35,72.58" fill="#90ff90" />
<polygon points="239.45,83.38 241.35,83.38 241,84.35 239.8,84.35" fill="#90ff90" />
<polygon points="242.8,72.45 243.25,69.24 244.25,69.24 244.7,72.45" fill="#90ff90" />
<polygon points="242.8,83.17 244.7,83.17 244.35,85.95 243.15,85.95" fill="#90ff90" />
<polygon points="246.15,72.32 246.6,69.39 247.6,69.39 248.05,72.32" fill="#90ff90" />
<polygon points="246.15,82.97 248.05,82.97 247.7,84.78 246.5,84.78" fill="#90ff90" />
<polygon points="249.5,72.18 249.95,69.09 250.95,69.09 251.4,72.18" fill="#90ff90" />
<polygon points="252.85,72.05 253.3,68.77 254.3,68.77 254.75,72.05" fill="#90ff90" />
<polygon points="252.85,82.57 254.75,82.57 254.4,84.57 253.2,84.57" fill="#90ff90" />
<polygon points="256.2,71.91 256.65,68.6 257.65,68.6 258.1,71.91" fill="#90ff90" />
<polygon points="256.2,82.36 258.1,82.36 257.75,84.57 256.55,84.57" fill="#90ff90" />
<polygon points="259.55,71.78 260,68.11 261,68.11 261.45,71.78" fill="#90ff90" />
<polygon points="259.55,82.16 261.45,82.16 261.1,84.11 259.9,84.11" fill="#90ff90" />
<polygon points="262.9,71.65 263.35,68.32 264.35,68.32 264.8,71.65" fill="#90ff90" />
<polygon points="262.9,81.96 264.8,81.96 264.45,86.16 263.25,86.16" fill="#90ff90" />
<polygon points="266.25,71.51 266.7,67.77 267.7,67.77 268.15,71.51" fill="#90ff90" />
<polygon points="269.6,71.38 270.05,68.18 271.05,68.18 271.5,71.38" fill="#90ff90" />
<polygon points="269.6,82.18 271.5,82.18 271.15,84.24 269.95,84.24" fill="#90ff90" />
<polygon points="272.95,71.24 273.4,68.01 274.4,68.01 274.85,71.24" fill="#90ff90" />
<polygon points="276.3,71.11 276.75,67.73 277.75,67.73 278.2,71.11" fill="#90ff90" />
<polygon points="276.3,82.52 278.2,82.52 277.85,88.15 276.65,88.15" fill="#90ff90" />
<polygon points="279.65,70.97 280.1,67.52 281.1,67.52 281.55,70.97" fill="#90ff90" />
<polygon points="279.65,82.68 281.55,82.68 281.2,89.11 280,89.11" fill="#90ff90" />
<polygon points="283,70.82 283.45,67.45 284.45,67.45 284.9,70.82" fill="#90ff90" />
<polygon points="286.35,70.67 286.8,66.89 287.8,66.89 288.25,70.67" fill="#90ff90" />
<polygon points="286.35,83.21 288.25,83.21 287.9,84.81 286.7,84.81" fill="#90ff90" />
<polygon points="289.7,70.52 290.15,66.68 291.15,66.68 291.6,70.52" fill="#90ff90" />
<polygon points="293.05,70.37 293.5,66.49 294.5,66.49 294.95,70.37" fill="#90ff90" />
<polygon points="296.4,70.22 296.85,65.94 297.85,65.94 298.3,70.22" fill="#90ff90" />
<polygon points="296.4,84.13 298.3,84.13 297.95,91.79 296.75,91.79" fill="#90ff90" />
<polygon points="299.75,70.07 300.2,65.62 301.2,65.62 301.65,70.07" fill="#90ff90" />
<polygon points="299.04,83.46 302.36,83.46 302.2,86.54 301.8,89.05 301.4,90.25 300,90.25 299.6,89.05 299.2,86.54" fill="#90ff90" />
<polygon points="303.1,69.94 303.55,65.69 304.55,65.69 305,69.94" fill="#90ff90" />
<polygon points="302.39,80.96 305.71,80.96 305.55,84.83 305.15,88.53 304.75,89.73 303.35,89.73 302.95,88.53 302.55,84.83" fill="#90ff90" />
<polygon points="306.45,69.8 306.9,65.18 307.9,65.18 308.35,69.8" fill="#90ff90" />
<polygon points="305.74,78.86 309.06,78.86 308.9,83.42 308.5,88.17 308.1,89.37 306.7,89.37 306.3,88.17 305.9,83.42" fill="#90ff90" />
<polygon points="309.8,69.67 310.25,65.15 311.25,65.15 311.7,69.67" fill="#90ff90" />
<polygon points="309.09,77.55 312.41,77.55 312.25,82.84 311.85,88.68 311.45,89.88 310.05,89.88 309.65,88.68 309.25,82.84" fill="#90ff90" />
<polygon points="313.15,69.54 313.6,64.69 314.6,64.69 315.05,69.54" fill="#90ff90" />
<polygon points="312.44,76.25 315.76,76.25 315.6,82.04 315.2,88.63 314.8,89.83 313.4,89.83 313,88.63 312.6,82.04" fill="#90ff90" />
<polygon points="316.5,69.4 316.95,64.43 317.95,64.43 318.4,69.4" fill="#90ff90" />
<polygon points="315.79,75.56 319.11,75.56 318.95,82.23 318.55,90.14 318.15,91.34 316.75,91.34 316.35,90.14 315.95,82.23" fill="#90ff90" />
<polygon points="319.85,69.29 320.3,64.37 321.3,64.37 321.75,69.29" fill="#90ff90" />
<polygon points="319.14,75.09 322.46,75.09 322.3,82.28 321.9,90.96 321.5,92.16 320.1,92.16 319.7,90.96 319.3,82.28" fill="#90ff90" />
<polygon points="323.2,69.25 323.65,64.35 324.65,64.35 325.1,69.25" fill="#90ff90" />
<polygon points="322.49,74.62 325.81,74.62 325.65,82.05 325.25,91.1 324.85,92.3 323.45,92.3 323.05,91.1 322.65,82.05" fill="#90ff90" />
<polygon points="326.55,69.21 327,64.37 328,64.37 328.45,69.21" fill="#90ff90" />
<polygon points="325.84,74.15 329.16,74.15 329,81.28 328.6,89.88 328.2,91.08 326.8,91.08 326.4,89.88 326,81.28" fill="#90ff90" />
<polygon points="329.9,69.17 330.35,64.72 331.35,64.72 331.8,69.17" fill="#90ff90" />
<polygon points="329.19,73.68 332.51,73.68 332.35,81.28 331.95,90.59 331.55,91.79 330.15,91.79 329.75,90.59 329.35,81.28" fill="#90ff90" />
<polygon points="333.25,69.13 333.7,64.73 334.7,64.73 335.15,69.13" fill="#90ff90" />
<polygon points="332.54,73.21 335.86,73.21 335.7,81.09 335.3,90.8 334.9,92 333.5,92 333.1,90.8 332.7,81.09" fill="#90ff90" />
<polygon points="336.6,69.1 337.05,64.31 338.05,64.31 338.5,69.1" fill="#90ff90" />
<polygon points="335.89,72.74 339.21,72.74 339.05,81.35 338.65,92.17 338.25,93.37 336.85,93.37 336.45,92.17 336.05,81.35" fill="#90ff90" />
<polygon points="339.95,69.06 340.4,64.71 341.4,64.71 341.85,69.06" fill="#90ff90" />
<polygon points="339.24,72.32 342.56,72.32 342.4,81.29 342,92.64 341.6,93.84 340.2,93.84 339.8,92.64 339.4,81.29" fill="#90ff90" />
<polygon points="343.3,69.02 343.75,64.71 344.75,64.71 345.2,69.02" fill="#90ff90" />
<polygon points="342.59,72.05 345.91,72.05 345.75,80.71 345.35,91.61 344.95,92.81 343.55,92.81 343.15,91.61 342.75,80.71" fill="#90ff90" />
<polygon points="346.65,68.98 347.1,64.65 348.1,64.65 348.55,68.98" fill="#90ff90" />
<polygon points="345.94,71.77 349.26,71.77 349.1,81.13 348.7,93.09 348.3,94.29 346.9,94.29 346.5,93.09 346.1,81.13" fill="#90ff90" />
<polygon points="350,68.94 350.45,64.54 351.45,64.54 351.9,68.94" fill="#90ff90" />
<polygon points="349.29,71.49 352.61,71.49 352.45,81.27 352.05,93.85 351.65,95.05 350.25,95.05 349.85,93.85 349.45,81.27" fill="#90ff90" />
<polygon points="353.35,68.9 353.8,64.42 354.8,64.42 355.25,68.9" fill="#90ff90" />
<polygon points="352.64,71.21 355.96,71.21 355.8,81.27 355.4,94.26 355,95.46 353.6,95.46 353.2,94.26 352.8,81.27" fill="#90ff90" />
<polygon points="356.7,68.86 357.15,64.69 358.15,64.69 358.6,68.86" fill="#90ff90" />
<polygon points="355.99,70.93 359.31,70.93 359.15,80.56 358.75,92.9 358.35,94.1 356.95,94.1 356.55,92.9 356.15,80.56" fill="#90ff90" />
<polygon points="360.05,68.82 360.5,64.27 361.5,64.27 361.95,68.82" fill="#90ff90" />
<polygon points="359.34,70.65 362.66,70.65 362.5,80.99 362.1,94.41 361.7,95.61 360.3,95.61 359.9,94.41 359.5,80.99" fill="#90ff90" />
<polygon points="363.4,68.78 363.85,64.74 364.85,64.74 365.3,68.78" fill="#90ff90" />
<polygon points="362.69,70.37 366.01,70.37 365.85,80.56 365.45,93.74 365.05,94.94 363.65,94.94 363.25,93.74 362.85,80.56" fill="#90ff90" />
<polygon points="366.75,68.75 367.2,64.44 368.2,64.44 368.65,68.75" fill="#90ff90" />
<polygon points="366.04,70.09 369.36,70.09 369.2,81 368.8,95.27 368.4,96.47 367,96.47 366.6,95.27 366.2,81" fill="#90ff90" />
<polygon points="370.1,68.71 370.55,64.35 371.55,64.35 372,68.71" fill="#90ff90" />
<polygon points="369.39,69.81 372.71,69.81 372.55,81.08 372.15,95.88 371.75,97.08 370.35,97.08 369.95,95.88 369.55,81.08" fill="#90ff90" />
<polygon points="373.45,68.67 373.9,64.53 374.9,64.53 375.35,68.67" fill="#90ff90" />
<polygon points="372.74,69.53 376.06,69.53 375.9,80.49 375.5,94.84 375.1,96.04 373.7,96.04 373.3,94.84 372.9,80.49" fill="#90ff90" />
<polygon points="376.8,68.63 377.25,64.46 378.25,64.46 378.7,68.63" fill="#90ff90" />
<polygon points="376.09,69.37 379.41,69.37 379.25,80.93 378.85,96.16 378.45,97.36 377.05,97.36 376.65,96.16 376.25,80.93" fill="#90ff90" />
<polygon points="380.15,68.59 380.6,64.5 381.6,64.5 382.05,68.59" fill="#90ff90" />
<polygon points="379.44,69.31 382.76,69.31 382.6,81.12 382.2,96.75 381.8,97.95 380.4,97.95 380,96.75 379.6,81.12" fill="#90ff90" />
<polygon points="383.5,68.55 383.95,64.32 384.95,64.32 385.4,68.55" fill="#90ff90" />
<polygon points="382.79,69.25 386.11,69.25 385.95,81.34 385.55,97.37 385.15,98.57 383.75,98.57 383.35,97.37 382.95,81.34" fill="#90ff90" />
<polygon points="386.85,68.51 387.3,64.45 388.3,64.45 388.75,68.51" fill="#90ff90" />
<polygon points="386.14,69.19 389.46,69.19 389.3,81.35 388.9,97.5 388.5,98.7 387.1,98.7 386.7,97.5 386.3,81.35" fill="#90ff90" />
<polygon points="390.2,68.47 390.65,64.6 391.65,64.6 392.1,68.47" fill="#90ff90" />
<polygon points="389.49,69.13 392.81,69.13 392.65,81.31 392.25,97.49 391.85,98.69 390.45,98.69 390.05,97.49 389.65,81.31" fill="#90ff90" />
<polygon points="393.55,68.43 394,64.45 395,64.45 395.45,68.43" fill="#90ff90" />
<polygon points="392.84,69.06 396.16,69.06 396,81.7 395.6,98.56 395.2,99.76 393.8,99.76 393.4,98.56 393,81.7" fill="#90ff90" />
<polygon points="396.9,68.39 397.35,64.78 398.35,64.78 398.8,68.39" fill="#90ff90" />
<polygon points="396.19,69 399.51,69 399.35,81.82 398.95,98.95 398.55,100.15 397.15,100.15 396.75,98.95 396.35,81.82" fill="#90ff90" />
<polygon points="400.25,68.36 400.7,64.55 401.7,64.55 402.15,68.36" fill="#90ff90" />
<polygon points="399.54,68.94 402.86,68.94 402.7,81.58 402.3,98.43 401.9,99.63 400.5,99.63 400.1,98.43 399.7,81.58" fill="#90ff90" />
<polygon points="403.6,68.32 404.05,64.25 405.05,64.25 405.5,68.32" fill="#90ff90" />
<polygon points="402.89,68.88 406.21,68.88 406.05,82.15 405.65,99.96 405.25,101.16 403.85,101.16 403.45,99.96 403.05,82.15" fill="#90ff90" />
<polygon points="406.95,68.28 407.4,64.63 408.4,64.63 408.85,68.28" fill="#90ff90" />
<polygon points="406.24,68.82 409.56,68.82 409.4,82.13 409,99.99 408.6,101.19 407.2,101.19 406.8,99.99 406.4,82.13" fill="#90ff90" />
<polygon points="410.3,68.24 410.75,64.4 411.75,64.4 412.2,68.24" fill="#90ff90" />
<polygon points="409.59,68.76 412.91,68.76 412.75,82.05 412.35,99.89 411.95,101.09 410.55,101.09 410.15,99.89 409.75,82.05" fill="#90ff90" />
<polygon points="62.8,40.03 64.46,30.42 64.46,30.5 65.47,25.98 65.47,25.89 66.56,24.19 66.56,24.09 68.14,22.9 68.14,22.94 68.86,22.76 68.86,22.9 70.14,22.58 70.14,22.56 70.9,22.37 70.9,22.21 72.45,21.87 72.45,21.99 73.99,21.78 73.99,21.6 75.59,21.37 75.59,21.41 76.84,21.23 76.84,21.24 78.28,21.21 78.28,21.28 79.58,21.27 79.58,21.35 80.5,21.34 80.5,21.15 81.98,21.13 81.98,21.18 83.48,21.16 83.48,21.36 84.75,21.35 84.75,21.26 85.97,21.25 85.97,21.13 86.87,21.12 86.87,21.23 88.27,21.22 88.27,21.1 89.37,21.09 89.37,21.15 90.14,21.15 90.14,21.27 90.96,21.26 90.96,21.13 91.83,21.12 91.83,21.03 93.05,21.02 93.05,21.16 94.72,21.14 94.72,21.23 95.98,21.22 95.98,21.22 97.11,21.21 97.11,21.05 98.62,21.04 98.62,20.28 99.37,20.28 99.37,21.25 100.17,21.35 100.17,22.36 101.73,23.21 101.73,22.31 103.32,22.75 103.32,23.69 104.43,23.94 104.43,23.11 105.39,23.33 105.39,22.69 107.03,23.05 107.03,24.54 108.18,24.8 108.18,22.39 109.85,22.77 109.85,25.01 110.82,25.19 110.82,22.96 112.41,23.23 112.41,24.79 113.88,25.04 113.88,23.74 115.55,24.02 115.55,25.4 116.99,25.65 116.99,25.86 118,26.03 118,24.73 118.82,24.87 118.82,24.64 119.66,24.78 119.66,26.1 120.61,26.28 120.61,25.03 121.34,25.18 121.34,25.24 122.1,25.39 122.1,27.13 123.71,27.45 123.71,25.39 124.57,25.57 124.57,26.95 126.18,27.25 126.18,27.76 127.33,27.87 127.33,26.1 128.51,26.21 128.51,27.7 129.44,27.79 129.44,28.19 130.69,28.31 130.69,26.45 131.67,26.55 131.67,27.01 132.65,27.11 132.65,27.06 133.53,27.15 133.53,28.87 135.12,29.02 135.12,28.21 135.89,28.29 135.89,27.29 136.82,27.38 136.82,27.58 137.78,27.68 137.78,29.13 139.45,29.29 139.45,29.22 140.27,29.3 140.27,27.73 141.04,27.8 141.04,29.14 142.7,29.3 142.7,27.21 143.75,27.31 143.75,27.78 145.27,27.93 145.27,28.01 146.41,28.12 146.41,28.02 147.68,28.15 147.68,28.19 149.14,28.33 149.14,29.4 149.93,29.48 149.93,28.43 151.13,28.52 151.13,30.09 152.43,30.19 152.43,28.25 153.71,28.34 153.71,30.04 155.14,30.15 155.14,29.14 155.91,29.2 155.91,29.61 157.44,29.72 157.44,29.67 158.17,29.73 158.17,28.97 159.73,29.08 159.73,29.03 161.25,29.14 161.25,28.72 162.33,28.8 162.33,30.13 163.54,30.22 163.54,31 164.38,31.06 164.38,30.78 165.93,30.9 165.93,29.21 167.02,29.28 167.02,30.41 168.58,30.52 168.58,30.63 169.79,30.72 169.79,29.91 170.53,29.96 170.53,30.03 171.42,30.09 171.42,29.69 172.93,29.8 172.93,29.6 174.32,29.7 174.32,31.01 175.61,31.21 175.61,32.11 177.01,32.46 177.01,30.52 178.42,30.87 178.42,31.28 179.61,31.58 179.61,31.21 180.45,31.42 180.45,32.15 181.74,32.47 181.74,32.48 183.01,32.8 183.01,32.93 184.52,33.31 184.52,33.4 185.64,33.67 185.64,33.82 186.74,34.08 186.74,33.82 187.79,34.07 187.79,34.35 188.93,34.62 188.93,34.65 190.52,34.92 190.52,34.98 191.29,34.99 191.29,34.67 192.91,34.69 192.91,34.76 194.24,34.78 194.24,34.76 195.02,34.77 195.02,35.05 195.76,35.06 195.76,34.86 197.23,34.88 197.23,35.03 198.73,35.06 198.73,34.68 199.48,34.69 199.48,34.86 200.85,34.88 200.85,34.71 202.46,34.73 202.46,35.15 203.68,35.17 203.68,34.98 204.67,35 204.67,35.18 205.51,35.2 205.51,34.9 206.72,34.92 206.72,34.71 207.96,34.73 207.96,34.9 208.8,34.91 208.8,34.72 209.8,34.74 209.8,35.05 211.04,35.07 211.04,34.82 212.31,34.84 212.31,35.05 213.71,35.07 213.71,34.93 215.02,34.94 215.02,35.06 215.97,35.08 215.97,34.78 217.06,34.79 217.06,34.93 218.12,34.94 218.12,34.97 219.37,34.99 219.37,35.28 221.04,35.31 221.04,35.37 221.91,35.38 221.91,35.09 223.06,35.1 223.06,34.94 224.2,34.95 224.2,35.33 225.13,35.35 225.13,35.11 226,35.13 226,35.43 227.37,35.45 227.37,35.38 228.88,35.41 228.88,35.25 230.31,35.28 230.31,35.54 231.79,35.57 231.79,35.02 232.63,35.04 232.63,35.33 234.08,35.36 234.08,35.31 235.73,35.34 235.73,35.45 237.2,35.48 237.2,35.39 238.29,35.41 238.29,35.37 239.7,35.39 239.7,35.35 240.95,35.37 240.95,35.48 242.43,35.5 242.43,35.39 243.57,35.41 243.57,35.57 244.43,35.59 244.43,35.43 245.24,35.45 245.24,35.83 246.77,35.86 246.77,35.83 247.68,35.84 247.68,35.64 248.41,35.65 248.41,35.77 249.61,35.79 249.61,35.64 250.85,35.66 250.85,35.59 252.06,35.61 252.06,35.58 253.13,35.6 253.13,35.71 254.76,35.74 254.76,35.66 255.57,35.68 255.57,35.96 256.83,35.98 256.83,35.72 258.48,35.75 258.48,35.69 259.8,35.71 259.8,35.61 261.03,35.63 261.03,36.03 262.05,36.04 262.05,36.09 263.26,36.11 263.26,36.16 264.65,36.19 264.65,35.69 266.22,35.71 266.22,35.92 267.22,35.94 267.22,36.01 268.12,36.02 268.12,36.24 269.42,36.26 269.42,35.91 270.75,35.93 270.75,36.1 272.22,36.12 272.22,36.21 272.95,36.22 272.95,35.83 274.23,35.85 274.23,35.89 275.43,35.91 275.43,36.35 276.77,36.37 276.77,35.85 278.04,35.86 278.04,35.86 278.91,35.87 278.91,36.12 279.73,36.13 279.73,36.3 281.24,36.32 281.24,36.3 282.02,36.31 282.02,36.06 283.05,36.08 283.05,35.92 283.93,35.94 283.93,36.09 285.52,36.11 285.52,35.93 286.67,35.95 286.67,36.49 288.24,36.52 288.24,36.09 289.39,36.11 289.39,36.47 290.15,36.48 290.15,36.46 291.17,36.47 291.17,36.56 292.18,36.57 292.18,36.14 293.38,36.16 293.38,36.15 294.47,36.17 294.47,36.32 295.49,36.34 295.49,36.15 296.97,36.17 296.97,36.65 298.03,36.67 298.03,36.15 299.03,36.17 299.03,36.34 300.27,36.36 300.27,36.61 301.05,36.62 301.05,36.24 302.11,36.26 302.11,36.17 303.1,36.18 303.1,36.25 304.46,36.27 304.46,36.34 305.85,36.36 305.85,36.47 307.37,36.49 307.37,36.32 308.9,36.34 308.9,36.47 309.96,36.49 309.96,36.83 311.6,36.85 311.6,36.56 312.8,36.57 312.8,36.46 313.65,36.47 313.65,36.53 315.23,36.56 315.23,36.46 316.19,36.48 316.19,36.66 317.74,36.68 317.74,36.84 318.99,36.85 318.99,36.73 320.07,36.75 320.07,36.46 321.09,36.47 321.09,36.62 321.98,36.63 321.98,36.77 323.34,36.79 323.34,36.63 324.41,36.65 324.41,36.61 325.19,36.62 325.19,36.65 326.03,36.66 326.03,36.96 327.14,36.98 327.14,36.59 328.71,36.61 328.71,36.94 329.69,36.96 329.69,36.8 331.05,36.82 331.05,36.72 332.4,36.74 332.4,36.97 333.93,36.99 333.93,37.16 334.83,37.17 334.83,36.65 336.25,36.67 336.25,36.76 337.01,36.78 337.01,36.68 338.02,36.69 338.02,36.78 339.04,36.79 339.04,37.12 340.57,37.13 340.57,37.11 341.53,37.11 341.53,37.2 342.59,37.2 342.59,36.73 344.05,36.73 344.05,36.73 345.59,36.74 345.59,37.18 346.55,37.18 346.55,37.16 347.47,37.16 347.47,36.95 348.27,36.95 348.27,36.88 349.71,36.88 349.71,36.97 350.51,36.97 350.51,37.16 352.13,37.16 352.13,36.99 353.64,36.99 353.64,36.98 354.42,36.98 354.42,36.8 355.63,36.8 355.63,37.14 357.08,37.14 357.08,37.05 358.57,37.05 358.57,37.05 360.22,37.05 360.22,36.94 361.18,36.94 361.18,36.91 362.3,36.92 362.3,37.13 363.15,37.13 363.15,37.04 364.1,37.04 364.1,36.94 365.24,36.94 365.24,36.82 366.25,36.82 366.25,37.22 367.51,37.23 367.51,36.84 368.76,36.84 368.76,37.02 370.12,37.02 370.12,36.81 371.57,36.81 371.57,36.87 372.57,36.87 372.57,36.86 373.35,36.86 373.35,36.81 374.74,36.81 374.74,36.96 375.78,36.97 375.78,36.75 376.66,36.76 376.66,36.8 378.33,36.8 378.33,37.09 379.74,37.09 379.74,37.01 380.56,37.01 380.56,36.76 381.46,36.76 381.46,37.13 383.07,37.13 383.07,36.91 384.69,36.91 384.69,36.78 385.64,36.78 385.64,36.94 387.1,36.94 387.1,37.27 388,37.27 388,37.24 389.61,37.24 389.61,36.96 391.13,36.96 391.13,36.96 392.03,36.96 392.03,36.99 393.1,36.99 393.1,36.8 394.62,36.8 394.62,37.27 395.88,37.27 395.88,37.34 397.28,37.34 397.28,36.87 398.47,36.87 398.47,36.83 399.48,36.83 399.48,37.05 400.86,37.05 400.86,36.81 402.51,36.81 402.51,37.22 403.66,37.22 403.66,37.3 404.38,37.3 404.38,36.96 405.85,36.96 405.85,37.04 407.21,37.04 407.21,37.19 408.25,37.19 408.25,36.89 409.77,36.89 409.77,37.13 410.77,37.13 410.77,36.85 411.83,36.85 411.83,37.38 412.86,37.38 412.86,37.38 414.45,37.38 414.45,37.29 414.6,37.29 414.6,39.8 413.8,39.8 413.8,39.8 412.3,39.8 412.3,39.8 410.8,39.8 410.8,39.8 409.3,39.8 409.3,39.8 407.8,39.8 407.8,39.8 406.3,39.8 406.3,39.8 404.8,39.8 404.8,39.8 403.3,39.8 403.3,39.8 401.8,39.8 401.8,39.8 400.3,39.8 400.3,39.8 398.8,39.8 398.8,39.8 397.3,39.8 397.3,39.8 395.8,39.8 395.8,39.8 394.3,39.8 394.3,39.8 392.8,39.8 392.8,39.8 391.3,39.8 391.3,39.8 389.8,39.8 389.8,39.8 388.3,39.8 388.3,39.8 386.8,39.8 386.8,39.8 385.3,39.8 385.3,39.8 383.8,39.8 383.8,39.8 382.3,39.8 382.3,39.8 380.8,39.8 380.8,39.8 379.3,39.8 379.3,39.8 377.8,39.8 377.8,39.8 376.3,39.8 376.3,39.8 374.8,39.8 374.8,39.8 373.3,39.8 373.3,39.8 371.8,39.8 371.8,39.8 370.3,39.8 370.3,39.8 368.8,39.8 368.8,39.8 367.3,39.8 367.3,39.8 365.8,39.8 365.8,39.8 364.3,39.8 364.3,39.8 362.8,39.8 362.8,39.8 361.3,39.8 361.3,39.8 359.8,39.8 359.8,39.8 358.3,39.8 358.3,39.8 356.8,39.8 356.8,39.8 355.3,39.8 355.3,39.8 353.8,39.8 353.8,39.8 352.3,39.8 352.3,39.8 350.8,39.8 350.8,39.8 349.3,39.8 349.3,39.8 347.8,39.8 347.8,39.8 346.3,39.8 346.3,39.8 344.8,39.8 344.8,39.8 343.3,39.8 343.3,39.8 341.8,39.8 341.8,39.8 340.3,39.8 340.3,39.8 338.8,39.8 338.8,39.8 337.3,39.81 337.3,39.81 335.8,39.81 335.8,39.81 334.3,39.82 334.3,39.82 332.8,39.82 332.8,39.82 331.3,39.82 331.3,39.82 329.8,39.83 329.8,39.83 328.3,39.83 328.3,39.83 326.8,39.84 326.8,39.84 325.3,39.84 325.3,39.84 323.8,39.84 323.8,39.84 322.3,39.85 322.3,39.85 320.8,39.85 320.8,39.85 319.3,39.86 319.3,39.86 317.8,39.86 317.8,39.86 316.3,39.86 316.3,39.86 314.8,39.87 314.8,39.87 313.3,39.87 313.3,39.87 311.8,39.88 311.8,39.88 310.3,39.88 310.3,39.88 308.8,39.88 308.8,39.88 307.3,39.89 307.3,39.89 305.8,39.89 305.8,39.89 304.3,39.9 304.3,39.9 302.8,39.9 302.8,39.9 301.3,39.9 301.3,39.9 299.8,39.91 299.8,39.91 298.3,39.91 298.3,39.91 296.8,39.92 296.8,39.92 295.3,39.92 295.3,39.92 293.8,39.92 293.8,39.92 292.3,39.93 292.3,39.93 290.8,39.93 290.8,39.93 289.3,39.94 289.3,39.94 287.8,39.94 287.8,39.94 286.3,39.94 286.3,39.94 284.8,39.95 284.8,39.95 283.3,39.95 283.3,39.95 281.8,39.96 281.8,39.96 280.3,39.96 280.3,39.96 278.8,39.96 278.8,39.96 277.3,39.97 277.3,39.97 275.8,39.97 275.8,39.97 274.3,39.98 274.3,39.98 272.8,39.98 272.8,39.98 271.3,39.98 271.3,39.98 269.8,39.99 269.8,39.99 268.3,39.99 268.3,39.99 266.8,40 266.8,40 265.3,40 265.3,40 263.8,40.02 263.8,40.02 262.3,40.04 262.3,40.04 260.8,40.06 260.8,40.06 259.3,40.08 259.3,40.08 257.8,40.1 257.8,40.1 256.3,40.12 256.3,40.12 254.8,40.14 254.8,40.14 253.3,40.16 253.3,40.16 251.8,40.18 251.8,40.18 250.3,40.2 250.3,40.2 248.8,40.22 248.8,40.22 247.3,40.24 247.3,40.24 245.8,40.26 245.8,40.26 244.3,40.28 244.3,40.28 242.8,40.3 242.8,40.3 241.3,40.32 241.3,40.32 239.8,40.34 239.8,40.34 238.3,40.36 238.3,40.36 236.8,40.38 236.8,40.38 235.3,40.4 235.3,40.4 233.8,40.42 233.8,40.42 232.3,40.44 232.3,40.44 230.8,40.46 230.8,40.46 229.3,40.48 229.3,40.48 227.8,40.5 227.8,40.5 226.3,40.52 226.3,40.52 224.8,40.54 224.8,40.54 223.3,40.56 223.3,40.56 221.8,40.58 221.8,40.58 220.3,40.6 220.3,40.6 218.8,40.62 218.8,40.62 217.3,40.64 217.3,40.64 215.8,40.66 215.8,40.66 214.3,40.68 214.3,40.68 212.8,40.7 212.8,40.7 211.3,40.72 211.3,40.72 209.8,40.74 209.8,40.74 208.3,40.76 208.3,40.76 206.8,40.78 206.8,40.78 205.3,40.8 205.3,40.8 203.8,40.82 203.8,40.82 202.3,40.84 202.3,40.84 200.8,40.86 200.8,40.86 199.3,40.88 199.3,40.88 197.8,40.9 197.8,40.9 196.3,40.92 196.3,40.92 194.8,40.94 194.8,40.94 193.3,40.96 193.3,40.96 191.8,40.98 191.8,40.98 190.3,41 190.3,41 188.8,41.02 188.8,41.02 187.3,41.04 187.3,41.04 185.8,41.06 185.8,41.06 184.3,41.08 184.3,41.08 182.8,41.1 182.8,41.1 181.3,41.12 181.3,41.12 179.8,41.15 179.8,41.15 178.3,41.17 178.3,41.17 176.8,41.19 176.8,41.19 175.3,41.21 175.3,41.21 173.8,41.23 173.8,41.23 172.3,41.25 172.3,41.25 170.8,41.27 170.8,41.27 169.3,41.3 169.3,41.3 167.8,41.32 167.8,41.32 166.3,41.34 166.3,41.34 164.8,41.36 164.8,41.36 163.3,41.38 163.3,41.38 161.8,41.4 161.8,41.4 160.3,41.42 160.3,41.42 158.8,41.45 158.8,41.45 157.3,41.47 157.3,41.47 155.8,41.49 155.8,41.49 154.3,41.51 154.3,41.51 152.8,41.53 152.8,41.53 151.3,41.55 151.3,41.55 149.8,41.57 149.8,41.57 148.3,41.6 148.3,41.6 146.8,41.62 146.8,41.62 145.3,41.64 145.3,41.64 143.8,41.66 143.8,41.66 142.3,41.68 142.3,41.68 140.8,41.7 140.8,41.7 139.3,41.72 139.3,41.72 137.8,41.75 137.8,41.75 136.3,41.77 136.3,41.77 134.8,41.79 134.8,41.79 133.3,41.81 133.3,41.81 131.8,41.83 131.8,41.83 130.3,41.85 130.3,41.85 128.8,41.87 128.8,41.87 127.3,41.9 127.3,41.9 125.8,41.92 125.8,41.92 124.3,41.94 124.3,41.94 122.8,41.96 122.8,41.96 121.3,41.98 121.3,41.98 119.8,42.04 119.8,42.04 118.3,42.34 118.3,42.34 116.8,42.64 116.8,42.64 115.3,42.94 115.3,42.94 113.8,43.24 113.8,43.24 112.3,43.54 112.3,43.54 110.8,43.84 110.8,43.84 109.3,44.14 109.3,44.14 107.8,44.44 107.8,44.44 106.3,44.74 106.3,44.74 104.8,45.04 104.8,45.04 103.3,45.34 103.3,45.34 101.8,45.64 101.8,45.64 100.3,45.94 100.3,45.94 98.8,46.48 98.8,46.48 97.3,47.08 97.3,47.08 95.8,47.68 95.8,47.68 94.3,48.28 94.3,48.28 92.8,48.88 92.8,48.88 91.3,49.48 91.3,49.48 89.8,50.15 89.8,50.15 88.3,51.25 88.3,51.25 86.8,52.35 86.8,52.35 85.3,53.45 85.3,53.45 83.8,54.4 83.8,54.4 82.3,54.4 82.3,54.4 80.8,54.4 80.8,54.4 79.3,54.4 79.3,54.4 77.8,54.4 77.8,54.4 76.3,54.4 76.3,54.4 74.8,54.4 74.8,54.4 73.3,54.4 73.3,54.4 71.8,54.4 71.8,54.4 70.3,54.4 70.3,54.4 68.8,54.4 68.8,54.4 67.3,54.4 67.3,54.4 65.8,54.4 65.8,54.4 64.3,54.4 64.3,54.4 62.8,54.4" fill="#0000ad" />
<polygon points="62.8,50 62.8,55.6 66,55.6 66,66 68.5,66 68.5,71.3 71.4,71.3 71.4,55.2 72.5,55.2 72.5,62 73.5,62 73.5,78 75,78 75,84 77.5,84 77.5,75 78.2,75 78.2,54.5 80,54.5 80,70 81,70 81,81.4 83,81.4 84,78 84.6,56 84.6,50" fill="#0000ad" />
<polygon points="62.6,185 71.5,185 72.8,181.5 73.6,178 74.6,178 73.4,189.6 62.6,189.6" fill="#9595ff" />
<polygon points="87.6,33 87.48,34 87.36,35 87.23,36 87.11,37 86.99,38 86.87,39 86.74,40 86.62,41 86.5,42 86.38,43 86.26,44 86.13,45 86.01,46 85.89,47 85.77,48 85.64,49 85.52,50 85.4,51 85.28,52 85.16,53 85.03,54 84.91,55 84.79,56 84.67,57 84.54,58 84.42,59 84.3,60 84.25,61 84.2,62 84.15,63 84.1,64 84.05,65 84,66 83.95,67 83.9,68 83.85,69 83.8,70 83.75,71 83.7,72 83.65,73 83.6,74 83.55,75 83.5,76 83.45,77 83.4,78 83.35,79 83.3,80 83.25,81 83.2,82 83.15,83 83.1,84 83.05,85 83,86 82.83,87 82.66,88 82.49,89 82.31,90 82.14,91 81.97,92 81.8,93 81.63,94 81.46,95 81.29,96 81.11,97 80.94,98 80.77,99 80.6,100 80.56,101 80.52,102 80.48,103 80.45,104 80.41,105 80.37,106 80.33,107 80.29,108 80.25,109 80.22,110 80.18,111 80.14,112 80.1,113 80.06,114 80.02,115 79.98,116 79.95,117 79.91,118 79.87,119 79.83,120 79.79,121 79.75,122 79.72,123 79.68,124 79.64,125 79.6,126 79.47,127 79.33,128 79.2,129 79.07,130 78.93,131 78.8,132 78.67,133 78.53,134 78.4,135 78.27,136 78.13,137 78,138 77.87,139 77.73,140 77.6,141 77.47,142 77.33,143 77.2,144 77.07,145 76.93,146 76.8,147 76.67,148 76.53,149 76.4,150 76.26,151 76.12,152 75.98,153 75.84,154 75.7,155 75.56,156 75.42,157 75.28,158 75.14,159 75,160 74.91,161 74.83,162 74.74,163 74.66,164 74.57,165 74.49,166 74.4,167 74.31,168 74.23,169 74.14,170 74.06,171 73.97,172 73.89,173 73.8,174 73.71,175 73.63,176 73.54,177 73.46,178 73.37,179 73.29,180 73.2,181 73.1,182 73,183 72.9,184 72.8,185 72.7,186 72.6,187 72.5,188 72.4,189 72.3,190 73.6,190 73.78,189 73.96,188 74.13,187 74.31,186 74.49,185 74.67,184 74.84,183 75.02,182 75.2,181 75.28,180 75.35,179 75.43,178 75.5,177 75.58,176 75.66,175 75.73,174 75.81,173 75.89,172 75.96,171 76.04,170 76.11,169 76.19,168 76.27,167 76.34,166 76.42,165 76.5,164 76.57,163 76.65,162 76.72,161 76.8,160 76.92,159 77.04,158 77.16,157 77.28,156 77.4,155 77.52,154 77.64,153 77.76,152 77.88,151 78,150 78.12,149 78.25,148 78.38,147 78.5,146 78.62,145 78.75,144 78.88,143 79,142 79.12,141 79.25,140 79.38,139 79.5,138 79.62,137 79.75,136 79.88,135 80,134 80.12,133 80.25,132 80.38,131 80.5,130 80.62,129 80.75,128 80.88,127 81,126 81.04,125 81.08,124 81.12,123 81.15,122 81.19,121 81.23,120 81.27,119 81.31,118 81.35,117 81.38,116 81.42,115 81.46,114 81.5,113 81.54,112 81.58,111 81.62,110 81.65,109 81.69,108 81.73,107 81.77,106 81.81,105 81.85,104 81.88,103 81.92,102 81.96,101 82,100 82.18,99 82.36,98 82.54,97 82.71,96 82.89,95 83.07,94 83.25,93 83.43,92 83.61,91 83.79,90 83.96,89 84.14,88 84.32,87 84.5,86 84.56,85 84.62,84 84.67,83 84.73,82 84.79,81 84.85,80 84.9,79 84.96,78 85.02,77 85.08,76 85.13,75 85.19,74 85.25,73 85.31,72 85.37,71 85.42,70 85.48,69 85.54,68 85.6,67 85.65,66 85.71,65 85.77,64 85.83,63 85.88,62 85.94,61 86,60 86.11,59 86.22,58 86.33,57 86.44,56 86.56,55 86.67,54 86.78,53 86.89,52 87,51 87.11,50 87.22,49 87.33,48 87.44,47 87.56,46 87.67,45 87.78,44 87.89,43 88,42 88.11,41 88.22,40 88.33,39 88.44,38 88.56,37 88.67,36 88.78,35 88.89,34 89,33" fill="#9595ff" />
<polygon points="87.3,40.07 88.08,33.43 88.08,33.64 89.08,32.57 89.08,32.17 90.26,31.65 90.26,31.49 91.31,31.44 91.31,31.69 92.22,31.65 92.22,31.61 93.02,31.57 93.02,31.66 94.29,31.6 94.29,31.35 95.56,31.3 95.56,31.56 96.45,31.51 96.45,31.34 97.28,31.3 97.28,31.3 98.09,31.26 98.09,31.25 99.28,31.12 99.28,31.29 100.55,31.14 100.55,31.07 101.83,30.92 101.83,31.19 102.62,31.1 102.62,31.03 103.87,30.88 103.87,30.86 104.7,30.76 104.7,30.56 105.52,30.46 105.52,30.56 106.4,30.46 106.4,30.59 107.87,30.41 107.87,30.17 108.64,30.07 108.64,29.98 109.38,29.89 109.38,30.02 110.39,29.89 110.39,30.16 111.96,30.26 111.96,30.26 113.22,30.39 113.22,30.07 114.1,30.16 114.1,30.45 115.55,30.61 115.55,30.55 116.39,30.64 116.39,30.23 118.02,30.4 118.02,30.7 119.32,30.84 119.32,31.06 120.81,31.22 120.81,30.78 122.18,30.92 122.18,31.16 123.33,31.28 123.33,31 124.16,31.08 124.16,31.34 125.65,31.44 125.65,31.34 126.65,31.4 126.65,31.5 127.5,31.55 127.5,31.8 128.89,31.89 128.89,31.41 129.62,31.46 129.62,31.85 130.82,31.93 130.82,31.94 131.58,31.99 131.58,31.78 132.95,31.87 132.95,31.82 133.82,31.88 133.82,31.69 135.38,31.79 135.38,32.28 136.41,32.35 136.41,31.91 137.7,32 137.7,32.24 138.77,32.31 138.77,31.97 139.86,32.04 139.86,32.05 141.13,32.13 141.13,32.15 142.3,32.22 142.3,32.36 143.16,32.42 143.16,32.41 144.14,32.47 144.14,32.89 145.4,32.97 145.4,32.74 147.08,32.85 147.08,32.97 148.54,33.07 148.54,32.82 149.86,32.91 149.86,33.21 150.86,33.29 150.86,32.95 152.48,33.09 152.48,33.21 153.93,33.33 153.93,33.36 155.26,33.47 155.26,33.34 156.37,33.43 156.37,33.52 157.4,33.6 157.4,33.45 158.47,33.54 158.47,33.41 159.53,33.49 159.53,33.76 161.08,33.89 161.08,33.72 162.35,33.82 162.35,33.91 163.13,33.97 163.13,34.35 164.55,34.47 164.55,34.26 165.6,34.34 165.6,34.34 166.39,34.41 166.39,34.52 168.06,34.66 168.06,34.24 169.19,34.33 169.19,34.46 170.38,34.55 170.38,34.49 171.35,34.57 171.35,34.6 172.32,34.68 172.32,34.91 173.43,35 173.43,34.76 174.98,34.89 174.98,35.13 176.4,35.25 176.4,35.41 177.2,35.48 177.2,35.07 178.24,35.15 178.24,35.42 179.48,35.53 179.48,35.34 181.09,35.47 181.09,35.52 182.52,35.64 182.52,35.43 183.9,35.54 183.9,35.88 185.01,35.98 185.01,35.96 186.06,35.97 186.06,35.62 187.02,35.62 187.02,36.21 188.63,36.22 188.63,36.06 189.4,36.07 189.4,35.73 190.44,35.73 190.44,35.69 191.3,35.7 191.3,35.97 192.8,35.98 192.8,36.05 194.08,36.06 194.08,36.11 195.38,36.12 195.38,36.14 196.35,36.14 196.35,36.15 197.81,36.16 197.81,35.86 199.47,35.88 199.47,35.79 200.69,35.8 200.69,36.11 201.42,36.12 201.42,36.32 202.89,36.33 202.89,35.79 203.82,35.8 203.82,35.78 204.57,35.78 204.57,35.86 205.77,35.86 205.77,35.85 207.4,35.86 207.4,36.32 208.29,36.33 208.29,36.24 209.16,36.25 209.16,36.08 210.11,36.09 210.11,36.27 211.45,36.28 211.45,36.34 212.61,36.35 212.61,35.85 213.43,35.85 213.43,36.33 214.77,36.34 214.77,36.07 215.55,36.08 215.55,36.21 217.15,36.22 217.15,36 218.09,36.01 218.09,35.97 219.22,35.98 219.22,36.04 220.67,36.05 220.67,36.21 222.34,36.22 222.34,36.4 223.22,36.41 223.22,36.38 224.19,36.39 224.19,36.19 225.18,36.19 225.18,36.31 226.76,36.32 226.76,36.26 228.05,36.27 228.05,36.45 229.62,36.46 229.62,36.45 230.69,36.46 230.69,36.54 231.58,36.55 231.58,36.02 232.59,36.02 232.59,36.5 234.24,36.52 234.24,36.03 235.11,36.03 235.11,36.03 235.99,36.04 235.99,36.41 237.03,36.42 237.03,36.01 238.6,36.02 238.6,36.42 239.55,36.42 239.55,36.15 240.3,36.15 240.3,36.03 241.44,36.04 241.44,36.55 243.11,36.56 243.11,36.12 243.94,36.12 243.94,36.45 245.07,36.46 245.07,36.35 245.94,36.36 245.94,36.35 246.76,36.36 246.76,36.19 248.37,36.2 248.37,36.51 250.01,36.53 250.01,36.25 251,36.25 251,36.4 251.78,36.41 251.78,36.32 252.89,36.33 252.89,36.5 253.62,36.51 253.62,36.53 254.87,36.54 254.87,36.55 256.53,36.57 256.53,36.39 257.63,36.4 257.63,36.38 259.29,36.39 259.29,36.76 260.4,36.76 260.4,36.72 261.13,36.73 261.13,36.4 262.09,36.4 262.09,36.25 263.04,36.26 263.04,36.73 264.57,36.74 264.57,36.39 265.34,36.4 265.34,36.39 266.68,36.4 266.68,36.66 268.33,36.67 268.33,36.58 269.87,36.59 269.87,36.61 271.55,36.62 271.55,36.67 272.98,36.68 272.98,36.62 274.08,36.63 274.08,36.64 275.45,36.65 275.45,36.64 276.69,36.65 276.69,36.56 277.66,36.57 277.66,36.57 279.08,36.58 279.08,36.85 280.01,36.86 280.01,36.62 281.24,36.62 281.24,36.41 282.74,36.42 282.74,36.7 284.25,36.71 284.25,36.85 285.76,36.86 285.76,36.84 286.52,36.84 286.52,36.44 288.03,36.45 288.03,36.57 288.99,36.57 288.99,36.63 290.48,36.64 290.48,36.97 291.28,36.97 291.28,36.66 292.67,36.67 292.67,36.47 294.16,36.48 294.16,36.71 295.53,36.72 295.53,36.61 296.48,36.61 296.48,36.53 297.56,36.54 297.56,36.52 298.83,36.53 298.83,36.62 300.24,36.63 300.24,36.49 301.19,36.5 301.19,36.56 302.52,36.57 302.52,36.82 303.65,36.83 303.65,36.72 304.73,36.73 304.73,36.64 305.8,36.65 305.8,36.96 306.91,36.97 306.91,36.83 307.97,36.83 307.97,37.07 309.58,37.08 309.58,36.9 310.98,36.91 310.98,36.96 312.02,36.97 312.02,36.81 313.1,36.82 313.1,36.54 314.69,36.55 314.69,36.81 315.98,36.82 315.98,36.82 317.5,36.83 317.5,36.84 319.08,36.86 319.08,36.96 320.29,36.97 320.29,36.59 321.72,36.6 321.72,37.04 323.09,37.05 323.09,36.72 324.55,36.73 324.55,36.66 325.34,36.66 325.34,36.94 326.15,36.95 326.15,37.03 326.92,37.04 326.92,37.03 328.11,37.04 328.11,37.22 329.23,37.23 329.23,36.72 330.73,36.73 330.73,36.64 331.77,36.65 331.77,36.8 333.44,36.81 333.44,37.17 334.46,37.18 334.46,36.92 335.71,36.92 335.71,37.19 336.48,37.2 336.48,36.83 337.97,36.84 337.97,37.01 338.89,37.01 338.89,36.99 339.97,36.99 339.97,37.18 341.25,37.18 341.25,37.04 342.16,37.04 342.16,37.02 342.93,37.02 342.93,36.9 344.04,36.9 344.04,36.88 345.02,36.88 345.02,37.06 346.43,37.06 346.43,36.98 347.58,36.98 347.58,36.97 349.14,36.97 349.14,37.23 350.48,37.23 350.48,36.82 351.27,36.82 351.27,37.2 352.87,37.2 352.87,37.12 354.07,37.12 354.07,37.22 355.07,37.22 355.07,36.84 355.93,36.85 355.93,37.19 356.75,37.19 356.75,37.12 358.38,37.12 358.38,37.14 359.35,37.14 359.35,37.14 360.22,37.14 360.22,36.9 360.98,36.9 360.98,36.92 361.92,36.92 361.92,37.28 363.18,37.28 363.18,36.82 364.21,36.82 364.21,36.97 365.7,36.97 365.7,37.12 366.45,37.12 366.45,36.79 367.39,36.79 367.39,36.99 368.55,37 368.55,37.24 369.92,37.24 369.92,37.34 370.76,37.34 370.76,36.92 372.38,36.92 372.38,37.04 373.44,37.04 373.44,37.04 375.05,37.04 375.05,37.07 376.6,37.07 376.6,36.91 377.4,36.91 377.4,36.89 378.98,36.89 378.98,37.11 380.59,37.11 380.59,37.32 382.24,37.32 382.24,36.96 383.59,36.96 383.59,37.2 384.74,37.21 384.74,36.94 385.63,36.94 385.63,36.82 386.42,36.82 386.42,37.12 387.67,37.12 387.67,37.07 388.83,37.07 388.83,36.84 389.64,36.85 389.64,36.99 390.92,36.99 390.92,36.87 392.28,36.87 392.28,37.28 393.9,37.28 393.9,36.86 395.46,36.86 395.46,36.84 396.27,36.85 396.27,36.85 397.46,36.85 397.46,37.1 398.63,37.1 398.63,36.9 399.84,36.9 399.84,36.86 400.95,36.86 400.95,37.08 401.9,37.08 401.9,37.35 403.47,37.35 403.47,37.13 404.66,37.13 404.66,37.24 406.04,37.24 406.04,36.81 406.91,36.81 406.91,36.96 408.01,36.97 408.01,37.14 409.58,37.14 409.58,37.26 410.53,37.26 410.53,36.94 411.93,36.94 411.93,36.82 413.23,36.82 413.23,37.29 414.54,37.29 414.54,37.08 414.6,37.08 414.6,40 414.3,40 414.3,40 412.8,40 412.8,40 411.3,40 411.3,40 409.8,40 409.8,40 408.3,40 408.3,40 406.8,40 406.8,40 405.3,40 405.3,40 403.8,40 403.8,40 402.3,40 402.3,40 400.8,40 400.8,40 399.3,40 399.3,40 397.8,40 397.8,40 396.3,40 396.3,40 394.8,40 394.8,40 393.3,40 393.3,40 391.8,40 391.8,40 390.3,40 390.3,40 388.8,40 388.8,40 387.3,40 387.3,40 385.8,40 385.8,40 384.3,40 384.3,40 382.8,40 382.8,40 381.3,40 381.3,40 379.8,40 379.8,40 378.3,40 378.3,40 376.8,40 376.8,40 375.3,40 375.3,40 373.8,40 373.8,40 372.3,40 372.3,40 370.8,40 370.8,40 369.3,40 369.3,40 367.8,40 367.8,40 366.3,40 366.3,40 364.8,40 364.8,40 363.3,40 363.3,40 361.8,40 361.8,40 360.3,40 360.3,40 358.8,40 358.8,40 357.3,40 357.3,40 355.8,40 355.8,40 354.3,40 354.3,40 352.8,40 352.8,40 351.3,40 351.3,40 349.8,40 349.8,40 348.3,40 348.3,40 346.8,40 346.8,40 345.3,40 345.3,40 343.8,40 343.8,40 342.3,40 342.3,40 340.8,40 340.8,40 339.3,40 339.3,40 337.8,40 337.8,40 336.3,40 336.3,40 334.8,40.01 334.8,40.01 333.3,40.01 333.3,40.01 331.8,40.01 331.8,40.01 330.3,40.01 330.3,40.01 328.8,40.01 328.8,40.01 327.3,40.02 327.3,40.02 325.8,40.02 325.8,40.02 324.3,40.02 324.3,40.02 322.8,40.02 322.8,40.02 321.3,40.02 321.3,40.02 319.8,40.03 319.8,40.03 318.3,40.03 318.3,40.03 316.8,40.03 316.8,40.03 315.3,40.03 315.3,40.03 313.8,40.03 313.8,40.03 312.3,40.04 312.3,40.04 310.8,40.04 310.8,40.04 309.3,40.04 309.3,40.04 307.8,40.04 307.8,40.04 306.3,40.04 306.3,40.04 304.8,40.05 304.8,40.05 303.3,40.05 303.3,40.05 301.8,40.05 301.8,40.05 300.3,40.05 300.3,40.05 298.8,40.05 298.8,40.05 297.3,40.06 297.3,40.06 295.8,40.06 295.8,40.06 294.3,40.06 294.3,40.06 292.8,40.06 292.8,40.06 291.3,40.06 291.3,40.06 289.8,40.07 289.8,40.07 288.3,40.07 288.3,40.07 286.8,40.07 286.8,40.07 285.3,40.07 285.3,40.07 283.8,40.07 283.8,40.07 282.3,40.08 282.3,40.08 280.8,40.08 280.8,40.08 279.3,40.08 279.3,40.08 277.8,40.08 277.8,40.08 276.3,40.08 276.3,40.08 274.8,40.09 274.8,40.09 273.3,40.09 273.3,40.09 271.8,40.09 271.8,40.09 270.3,40.09 270.3,40.09 268.8,40.09 268.8,40.09 267.3,40.1 267.3,40.1 265.8,40.1 265.8,40.1 264.3,40.1 264.3,40.1 262.8,40.11 262.8,40.11 261.3,40.11 261.3,40.11 259.8,40.11 259.8,40.11 258.3,40.12 258.3,40.12 256.8,40.12 256.8,40.12 255.3,40.12 255.3,40.12 253.8,40.13 253.8,40.13 252.3,40.13 252.3,40.13 250.8,40.14 250.8,40.14 249.3,40.14 249.3,40.14 247.8,40.14 247.8,40.14 246.3,40.15 246.3,40.15 244.8,40.15 244.8,40.15 243.3,40.15 243.3,40.15 241.8,40.16 241.8,40.16 240.3,40.16 240.3,40.16 238.8,40.17 238.8,40.17 237.3,40.17 237.3,40.17 235.8,40.17 235.8,40.17 234.3,40.18 234.3,40.18 232.8,40.18 232.8,40.18 231.3,40.18 231.3,40.18 229.8,40.19 229.8,40.19 228.3,40.19 228.3,40.19 226.8,40.2 226.8,40.2 225.3,40.2 225.3,40.2 223.8,40.21 223.8,40.21 222.3,40.23 222.3,40.23 220.8,40.24 220.8,40.24 219.3,40.26 219.3,40.26 217.8,40.27 217.8,40.27 216.3,40.29 216.3,40.29 214.8,40.3 214.8,40.3 213.3,40.32 213.3,40.32 211.8,40.33 211.8,40.33 210.3,40.35 210.3,40.35 208.8,40.36 208.8,40.36 207.3,40.38 207.3,40.38 205.8,40.39 205.8,40.39 204.3,40.41 204.3,40.41 202.8,40.42 202.8,40.42 201.3,40.44 201.3,40.44 199.8,40.45 199.8,40.45 198.3,40.47 198.3,40.47 196.8,40.48 196.8,40.48 195.3,40.5 195.3,40.5 193.8,40.51 193.8,40.51 192.3,40.53 192.3,40.53 190.8,40.54 190.8,40.54 189.3,40.56 189.3,40.56 187.8,40.57 187.8,40.57 186.3,40.59 186.3,40.59 184.8,40.6 184.8,40.6 183.3,40.62 183.3,40.62 181.8,40.64 181.8,40.64 180.3,40.66 180.3,40.66 178.8,40.67 178.8,40.67 177.3,40.69 177.3,40.69 175.8,40.71 175.8,40.71 174.3,40.73 174.3,40.73 172.8,40.75 172.8,40.75 171.3,40.76 171.3,40.76 169.8,40.78 169.8,40.78 168.3,40.8 168.3,40.8 166.8,40.82 166.8,40.82 165.3,40.84 165.3,40.84 163.8,40.85 163.8,40.85 162.3,40.87 162.3,40.87 160.8,40.89 160.8,40.89 159.3,40.91 159.3,40.91 157.8,40.94 157.8,40.94 156.3,40.96 156.3,40.96 154.8,40.99 154.8,40.99 153.3,41.01 153.3,41.01 151.8,41.04 151.8,41.04 150.3,41.06 150.3,41.06 148.8,41.09 148.8,41.09 147.3,41.11 147.3,41.11 145.8,41.14 145.8,41.14 144.3,41.16 144.3,41.16 142.8,41.19 142.8,41.19 141.3,41.21 141.3,41.21 139.8,41.24 139.8,41.24 138.3,41.26 138.3,41.26 136.8,41.29 136.8,41.29 135.3,41.31 135.3,41.31 133.8,41.34 133.8,41.34 132.3,41.36 132.3,41.36 130.8,41.39 130.8,41.39 129.3,41.41 129.3,41.41 127.8,41.44 127.8,41.44 126.3,41.46 126.3,41.46 124.8,41.49 124.8,41.49 123.3,41.55 123.3,41.55 121.8,41.65 121.8,41.65 120.3,41.75 120.3,41.75 118.8,41.85 118.8,41.85 117.3,41.95 117.3,41.95 115.8,42.05 115.8,42.05 114.3,42.15 114.3,42.15 112.8,42.25 112.8,42.25 111.3,42.49 111.3,42.49 109.8,42.89 109.8,42.89 108.3,43.29 108.3,43.29 106.8,43.69 106.8,43.69 105.3,44.09 105.3,44.09 103.8,44.49 103.8,44.49 102.3,44.89 102.3,44.89 100.8,45.29 100.8,45.29 99.3,45.64 99.3,45.64 97.8,45.93 97.8,45.93 96.3,46.23 96.3,46.23 94.8,46.52 94.8,46.52 93.3,46.82 93.3,46.82 91.8,47.11 91.8,47.11 90.3,47.41 90.3,47.41 88.8,47.7 88.8,47.7 87.3,48" fill="#9595ff" />
<rect x="100" y="44.5" width="1.0" height="1.8" fill="#0000ad"/>
<rect x="102.45" y="43.85" width="1.0" height="1.79" fill="#0000ad"/>
<rect x="104.9" y="43.21" width="1.0" height="1.79" fill="#0000ad"/>
<rect x="107.35" y="42.56" width="1.0" height="1.78" fill="#0000ad"/>
<rect x="109.8" y="41.92" width="1.0" height="1.77" fill="#0000ad"/>
<rect x="112.25" y="41.32" width="1.0" height="1.76" fill="#0000ad"/>
<rect x="114.7" y="41.16" width="1.0" height="1.76" fill="#0000ad"/>
<rect x="117.15" y="41.01" width="1.0" height="1.75" fill="#0000ad"/>
<rect x="119.6" y="40.85" width="1.0" height="1.74" fill="#0000ad"/>
<rect x="122.05" y="40.7" width="1.0" height="1.73" fill="#0000ad"/>
<rect x="124.5" y="40.57" width="1.0" height="1.73" fill="#0000ad"/>
<rect x="126.95" y="40.53" width="1.0" height="1.72" fill="#0000ad"/>
<rect x="129.4" y="40.5" width="1.0" height="1.71" fill="#0000ad"/>
<rect x="131.85" y="40.46" width="1.0" height="1.7" fill="#0000ad"/>
<rect x="134.3" y="40.43" width="1.0" height="1.7" fill="#0000ad"/>
<rect x="136.75" y="40.4" width="1.0" height="1.69" fill="#0000ad"/>
<rect x="139.2" y="40.36" width="1.0" height="1.68" fill="#0000ad"/>
<rect x="141.65" y="40.33" width="1.0" height="1.68" fill="#0000ad"/>
<rect x="144.1" y="40.3" width="1.0" height="1.67" fill="#0000ad"/>
<rect x="146.55" y="40.26" width="1.0" height="1.66" fill="#0000ad"/>
<rect x="149" y="40.23" width="1.0" height="1.65" fill="#0000ad"/>
<rect x="151.45" y="40.2" width="1.0" height="1.65" fill="#0000ad"/>
<rect x="153.9" y="40.16" width="1.0" height="1.64" fill="#0000ad"/>
<rect x="156.35" y="40.13" width="1.0" height="1.63" fill="#0000ad"/>
<rect x="158.8" y="40.1" width="1.0" height="1.62" fill="#0000ad"/>
<rect x="161.25" y="40.07" width="1.0" height="1.62" fill="#0000ad"/>
<rect x="163.7" y="40.05" width="1.0" height="1.61" fill="#0000ad"/>
<rect x="166.15" y="40.02" width="1.0" height="1.6" fill="#0000ad"/>
<rect x="168.6" y="40" width="1.0" height="1.59" fill="#0000ad"/>
<rect x="171.05" y="39.98" width="1.0" height="1.59" fill="#0000ad"/>
<rect x="173.5" y="39.96" width="1.0" height="1.58" fill="#0000ad"/>
<rect x="175.95" y="39.94" width="1.0" height="1.57" fill="#0000ad"/>
<rect x="178.4" y="39.91" width="1.0" height="1.56" fill="#0000ad"/>
<rect x="180.85" y="39.89" width="1.0" height="1.56" fill="#0000ad"/>
<rect x="183.3" y="39.87" width="1.0" height="1.55" fill="#0000ad"/>
<rect x="185.75" y="39.85" width="1.0" height="1.54" fill="#0000ad"/>
<rect x="188.2" y="39.83" width="1.0" height="1.54" fill="#0000ad"/>
<rect x="190.65" y="39.82" width="1.0" height="1.53" fill="#0000ad"/>
<rect x="193.1" y="39.8" width="1.0" height="1.52" fill="#0000ad"/>
<rect x="195.55" y="39.78" width="1.0" height="1.51" fill="#0000ad"/>
<rect x="198" y="39.76" width="1.0" height="1.51" fill="#0000ad"/>
<rect x="200.45" y="39.75" width="1.0" height="1.5" fill="#0000ad"/>
<rect x="202.9" y="39.74" width="1.0" height="1.48" fill="#0000ad"/>
<rect x="205.35" y="39.73" width="1.0" height="1.47" fill="#0000ad"/>
<rect x="207.8" y="39.72" width="1.0" height="1.45" fill="#0000ad"/>
<rect x="210.25" y="39.71" width="1.0" height="1.44" fill="#0000ad"/>
<rect x="212.7" y="39.7" width="1.0" height="1.42" fill="#0000ad"/>
<rect x="215.15" y="39.69" width="1.0" height="1.41" fill="#0000ad"/>
<rect x="217.6" y="39.68" width="1.0" height="1.39" fill="#0000ad"/>
<rect x="220.05" y="39.67" width="1.0" height="1.38" fill="#0000ad"/>
<rect x="222.5" y="39.66" width="1.0" height="1.36" fill="#0000ad"/>
<rect x="224.95" y="39.65" width="1.0" height="1.35" fill="#0000ad"/>
<rect x="227.4" y="39.66" width="1.0" height="1.33" fill="#0000ad"/>
<rect x="229.85" y="39.67" width="1.0" height="1.32" fill="#0000ad"/>
<rect x="232.3" y="39.68" width="1.0" height="1.3" fill="#0000ad"/>
<rect x="234.75" y="39.69" width="1.0" height="1.29" fill="#0000ad"/>
<rect x="237.2" y="39.7" width="1.0" height="1.27" fill="#0000ad"/>
<rect x="239.65" y="39.71" width="1.0" height="1.26" fill="#0000ad"/>
<rect x="242.1" y="39.72" width="1.0" height="1.24" fill="#0000ad"/>
<rect x="244.55" y="39.73" width="1.0" height="1.23" fill="#0000ad"/>
<rect x="247" y="39.73" width="1.0" height="1.21" fill="#0000ad"/>
<rect x="249.45" y="39.74" width="1.0" height="1.2" fill="#0000ad"/>
<rect x="251.9" y="39.75" width="1.0" height="1.18" fill="#0000ad"/>
<rect x="254.35" y="39.76" width="1.0" height="1.17" fill="#0000ad"/>
<rect x="256.8" y="39.77" width="1.0" height="1.15" fill="#0000ad"/>
<rect x="259.25" y="39.78" width="1.0" height="1.14" fill="#0000ad"/>
<rect x="261.7" y="39.79" width="1.0" height="1.12" fill="#0000ad"/>
<rect x="264.15" y="39.8" width="1.0" height="1.11" fill="#0000ad"/>
<rect x="266.6" y="39.81" width="1.0" height="1.09" fill="#0000ad"/>
<rect x="269.05" y="39.83" width="1.0" height="1.06" fill="#0000ad"/>
<rect x="271.5" y="39.85" width="1.0" height="1.04" fill="#0000ad"/>
<rect x="273.95" y="39.87" width="1.0" height="1.02" fill="#0000ad"/>
<rect x="276.4" y="39.89" width="1.0" height="0.99" fill="#0000ad"/>
<rect x="278.85" y="39.91" width="1.0" height="0.97" fill="#0000ad"/>
<rect x="281.3" y="39.93" width="1.0" height="0.95" fill="#0000ad"/>
<rect x="283.75" y="39.95" width="1.0" height="0.93" fill="#0000ad"/>
<rect x="286.2" y="39.97" width="1.0" height="0.9" fill="#0000ad"/>
<rect x="288.65" y="39.99" width="1.0" height="0.88" fill="#0000ad"/>
<rect x="291.1" y="40.01" width="1.0" height="0.86" fill="#0000ad"/>
<rect x="293.55" y="40.03" width="1.0" height="0.84" fill="#0000ad"/>
<rect x="296" y="40.04" width="1.0" height="0.81" fill="#0000ad"/>
<rect x="298.45" y="40.06" width="1.0" height="0.79" fill="#0000ad"/>
<rect x="300.9" y="40.08" width="1.0" height="0.77" fill="#0000ad"/>
<rect x="303.35" y="40.1" width="1.0" height="0.75" fill="#0000ad"/>
<rect x="305.8" y="40.12" width="1.0" height="0.72" fill="#0000ad"/>
<rect x="308.25" y="40.14" width="1.0" height="0.7" fill="#0000ad"/>
<rect x="310.7" y="40.16" width="1.0" height="0.68" fill="#0000ad"/>
<rect x="313.15" y="40.18" width="1.0" height="0.66" fill="#0000ad"/>
<rect x="315.6" y="40.2" width="1.0" height="0.63" fill="#0000ad"/>
<rect x="318.05" y="40.22" width="1.0" height="0.61" fill="#0000ad"/>
<rect x="320.5" y="40.24" width="1.0" height="0.59" fill="#0000ad"/>
<rect x="322.95" y="40.26" width="1.0" height="0.57" fill="#0000ad"/>
<rect x="325.4" y="40.28" width="1.0" height="0.54" fill="#0000ad"/>
<rect x="327.85" y="40.3" width="1.0" height="0.52" fill="#0000ad"/>
<rect x="190.5" y="35.84" width="1.15" height="0.7" fill="#0000ad"/>
<rect x="192.95" y="35.86" width="1.15" height="0.72" fill="#0000ad"/>
<rect x="195.4" y="35.88" width="1.15" height="0.73" fill="#0000ad"/>
<rect x="197.85" y="35.9" width="1.15" height="0.74" fill="#0000ad"/>
<rect x="200.3" y="35.91" width="1.15" height="0.75" fill="#0000ad"/>
<rect x="202.75" y="35.93" width="1.15" height="0.77" fill="#0000ad"/>
<rect x="205.2" y="35.95" width="1.15" height="0.78" fill="#0000ad"/>
<rect x="207.65" y="35.97" width="1.15" height="0.79" fill="#0000ad"/>
<rect x="210.1" y="35.99" width="1.15" height="0.81" fill="#0000ad"/>
<rect x="212.55" y="36.01" width="1.15" height="0.82" fill="#0000ad"/>
<rect x="215" y="36.02" width="1.15" height="0.83" fill="#0000ad"/>
<rect x="217.45" y="36.04" width="1.15" height="0.85" fill="#0000ad"/>
<rect x="219.9" y="36.06" width="1.15" height="0.86" fill="#0000ad"/>
<rect x="222.35" y="36.08" width="1.15" height="0.87" fill="#0000ad"/>
<rect x="224.8" y="36.1" width="1.15" height="0.89" fill="#0000ad"/>
<rect x="227.25" y="36.12" width="1.15" height="0.9" fill="#0000ad"/>
<rect x="229.7" y="36.14" width="1.15" height="0.91" fill="#0000ad"/>
<rect x="232.15" y="36.15" width="1.15" height="0.92" fill="#0000ad"/>
<rect x="234.6" y="36.17" width="1.15" height="0.94" fill="#0000ad"/>
<rect x="237.05" y="36.19" width="1.15" height="0.95" fill="#0000ad"/>
<rect x="239.5" y="36.21" width="1.15" height="0.96" fill="#0000ad"/>
<rect x="241.95" y="36.23" width="1.15" height="0.98" fill="#0000ad"/>
<rect x="244.4" y="36.25" width="1.15" height="0.99" fill="#0000ad"/>
<rect x="246.85" y="36.26" width="1.15" height="1" fill="#0000ad"/>
<rect x="249.3" y="36.28" width="1.15" height="1.02" fill="#0000ad"/>
<rect x="251.75" y="36.3" width="1.15" height="1.03" fill="#0000ad"/>
<rect x="254.2" y="36.32" width="1.15" height="1.04" fill="#0000ad"/>
<rect x="256.65" y="36.34" width="1.15" height="1.06" fill="#0000ad"/>
<rect x="259.1" y="36.36" width="1.15" height="1.07" fill="#0000ad"/>
<rect x="261.55" y="36.37" width="1.15" height="1.08" fill="#0000ad"/>
<rect x="264" y="36.39" width="1.15" height="1.09" fill="#0000ad"/>
<rect x="266.45" y="36.41" width="1.15" height="1.1" fill="#0000ad"/>
<rect x="268.9" y="36.43" width="1.15" height="1.11" fill="#0000ad"/>
<rect x="271.35" y="36.44" width="1.15" height="1.12" fill="#0000ad"/>
<rect x="273.8" y="36.46" width="1.15" height="1.12" fill="#0000ad"/>
<rect x="276.25" y="36.47" width="1.15" height="1.13" fill="#0000ad"/>
<rect x="278.7" y="36.49" width="1.15" height="1.14" fill="#0000ad"/>
<rect x="281.15" y="36.51" width="1.15" height="1.14" fill="#0000ad"/>
<rect x="283.6" y="36.52" width="1.15" height="1.15" fill="#0000ad"/>
<rect x="286.05" y="36.54" width="1.15" height="1.16" fill="#0000ad"/>
<rect x="288.5" y="36.56" width="1.15" height="1.16" fill="#0000ad"/>
<rect x="290.95" y="36.57" width="1.15" height="1.17" fill="#0000ad"/>
<rect x="293.4" y="36.59" width="1.15" height="1.18" fill="#0000ad"/>
<rect x="295.85" y="36.61" width="1.15" height="1.18" fill="#0000ad"/>
<rect x="298.3" y="36.62" width="1.15" height="1.19" fill="#0000ad"/>
<rect x="300.75" y="36.64" width="1.15" height="1.2" fill="#0000ad"/>
<rect x="303.2" y="36.65" width="1.15" height="1.2" fill="#0000ad"/>
<rect x="305.65" y="36.67" width="1.15" height="1.21" fill="#0000ad"/>
<rect x="308.1" y="36.69" width="1.15" height="1.21" fill="#0000ad"/>
<rect x="310.55" y="36.7" width="1.15" height="1.22" fill="#0000ad"/>
<rect x="313" y="36.72" width="1.15" height="1.23" fill="#0000ad"/>
<rect x="315.45" y="36.74" width="1.15" height="1.23" fill="#0000ad"/>
<rect x="317.9" y="36.75" width="1.15" height="1.24" fill="#0000ad"/>
<rect x="320.35" y="36.77" width="1.15" height="1.25" fill="#0000ad"/>
<rect x="322.8" y="36.79" width="1.15" height="1.25" fill="#0000ad"/>
<rect x="325.25" y="36.8" width="1.15" height="1.26" fill="#0000ad"/>
<rect x="327.7" y="36.82" width="1.15" height="1.27" fill="#0000ad"/>
<rect x="330.15" y="36.83" width="1.15" height="1.27" fill="#0000ad"/>
<rect x="332.6" y="36.85" width="1.15" height="1.28" fill="#0000ad"/>
<rect x="335.05" y="36.87" width="1.15" height="1.29" fill="#0000ad"/>
<rect x="337.5" y="36.88" width="1.15" height="1.29" fill="#0000ad"/>
<rect x="339.95" y="36.9" width="1.15" height="1.3" fill="#0000ad"/>
<rect x="342.4" y="36.9" width="1.15" height="1.3" fill="#0000ad"/>
<rect x="344.85" y="36.91" width="1.15" height="1.3" fill="#0000ad"/>
<rect x="347.3" y="36.91" width="1.15" height="1.3" fill="#0000ad"/>
<rect x="349.75" y="36.91" width="1.15" height="1.3" fill="#0000ad"/>
<rect x="352.2" y="36.92" width="1.15" height="1.3" fill="#0000ad"/>
<rect x="354.65" y="36.92" width="1.15" height="1.3" fill="#0000ad"/>
<rect x="357.1" y="36.92" width="1.15" height="1.3" fill="#0000ad"/>
<rect x="359.55" y="36.93" width="1.15" height="1.3" fill="#0000ad"/>
<rect x="362" y="36.93" width="1.15" height="1.3" fill="#0000ad"/>
<rect x="364.45" y="36.93" width="1.15" height="1.3" fill="#0000ad"/>
<rect x="366.9" y="36.94" width="1.15" height="1.3" fill="#0000ad"/>
<rect x="369.35" y="36.94" width="1.15" height="1.3" fill="#0000ad"/>
<rect x="371.8" y="36.94" width="1.15" height="1.3" fill="#0000ad"/>
<rect x="374.25" y="36.95" width="1.15" height="1.3" fill="#0000ad"/>
<rect x="376.7" y="36.95" width="1.15" height="1.3" fill="#0000ad"/>
<rect x="379.15" y="36.95" width="1.15" height="1.3" fill="#0000ad"/>
<rect x="381.6" y="36.96" width="1.15" height="1.3" fill="#0000ad"/>
<rect x="384.05" y="36.96" width="1.15" height="1.3" fill="#0000ad"/>
<rect x="386.5" y="36.96" width="1.15" height="1.3" fill="#0000ad"/>
<rect x="388.95" y="36.97" width="1.15" height="1.3" fill="#0000ad"/>
<rect x="391.4" y="36.97" width="1.15" height="1.3" fill="#0000ad"/>
<rect x="393.85" y="36.97" width="1.15" height="1.3" fill="#0000ad"/>
<rect x="396.3" y="36.98" width="1.15" height="1.3" fill="#0000ad"/>
<rect x="398.75" y="36.98" width="1.15" height="1.3" fill="#0000ad"/>
<rect x="401.2" y="36.98" width="1.15" height="1.3" fill="#0000ad"/>
<rect x="403.65" y="36.99" width="1.15" height="1.3" fill="#0000ad"/>
<rect x="406.1" y="36.99" width="1.15" height="1.3" fill="#0000ad"/>
<rect x="408.55" y="36.99" width="1.15" height="1.3" fill="#0000ad"/>
<rect x="411" y="37" width="1.15" height="1.3" fill="#0000ad"/>
<polygon points="92.1,56.26 93.7,52.46 93.7,51.95 94.82,51 94.82,51.36 95.77,50.54 95.77,50.22 96.64,49.54 96.64,49.65 97.55,49.09 97.55,49.37 99.21,48.34 99.21,48.34 100.39,47.61 100.39,47.52 101.98,46.65 101.98,46.77 102.89,46.33 102.89,46.25 104.37,45.52 104.37,45.67 105.42,45.15 105.42,44.65 106.79,43.98 106.79,44.44 108.3,43.82 108.3,43.76 109.74,43.4 109.74,43.41 111.02,43.09 111.02,42.77 112.5,42.41 112.5,42.79 114.14,43.15 114.14,43.06 114.97,43.27 114.97,42.93 115.93,43.05 115.93,43.05 116.84,43.08 116.84,43.34 118.04,43.37 118.04,43.43 119.44,43.46 119.44,43.56 120.92,43.59 120.92,43.08 122.43,43.12 122.43,43.27 123.78,43.3 123.78,43.57 125.07,43.57 125.07,43.1 125.79,43.09 125.79,43.34 126.62,43.33 126.62,43.28 127.92,43.27 127.92,43.57 128.85,43.57 128.85,43.11 130.16,43.1 130.16,43.31 131.14,43.31 131.14,43.11 132.49,43.1 132.49,43.52 133.87,43.51 133.87,43.59 134.77,43.58 134.77,43.54 135.84,43.54 135.84,43.24 137.14,43.27 137.14,43.33 138.34,43.36 138.34,43.56 140.01,43.6 140.01,43.1 140.89,43.11 140.89,43.39 141.77,43.4 141.77,43.34 143.27,43.36 143.27,43.67 144.09,43.68 144.09,43.72 145.3,43.74 145.3,43.23 146.88,43.25 146.88,43.78 148.2,43.8 148.2,43.6 149.27,43.62 149.27,43.64 150.35,43.66 150.35,43.47 151.94,43.5 151.94,43.78 153.59,43.8 153.59,43.57 154.97,43.59 154.97,43.76 156.41,43.78 156.41,43.54 157.85,43.56 157.85,43.9 158.7,43.92 158.7,43.73 159.56,43.74 159.56,43.84 160.33,43.84 160.33,43.85 161.66,43.8 161.66,43.6 162.66,43.57 162.66,43.8 164.32,43.74 164.32,43.84 165.69,43.8 165.69,43.38 167.09,43.34 167.09,43.67 167.97,43.64 167.97,43.23 169.45,43.18 169.45,43.19 170.66,43.16 170.66,43.25 172.09,43.2 172.09,43.24 172.86,43.22 172.86,43.1 174.51,43.05 174.51,43.05 175.53,43.02 175.53,42.97 176.56,42.94 176.56,43.1 177.53,43.07 177.53,42.96 179.17,42.91 179.17,43.29 180.76,43.24 180.76,42.92 182.1,42.88 182.1,42.98 182.96,42.95 182.96,43.12 184.22,43.08 184.22,43.18 185.2,43.15 185.2,42.98 186.43,42.97 186.43,42.62 187.4,42.62 187.4,42.81 188.91,42.8 188.91,42.74 190.54,42.73 190.54,43.04 191.32,43.04 191.32,43.07 192.69,43.07 192.69,42.97 193.52,42.97 193.52,42.99 195.17,42.99 195.17,43.14 196.63,43.14 196.63,42.81 198.07,42.8 198.07,42.68 199.56,42.68 199.56,42.88 201.12,42.87 201.12,42.86 202.62,42.86 202.62,42.86 204.12,42.85 204.12,42.85 205.62,42.85 205.62,42.85 207.12,42.84 207.12,42.84 208.62,42.84 208.62,42.84 210.12,42.84 210.12,42.84 211.62,42.83 211.62,42.83 213.12,42.83 213.12,42.83 214.62,42.83 214.62,42.83 216.12,42.82 216.12,42.82 217.62,42.82 217.62,42.82 219.12,42.81 219.12,42.81 220.62,42.81 220.62,42.81 222.12,42.81 222.12,42.81 223.62,42.8 223.62,42.8 225.12,42.8 225.12,42.8 226.62,42.8 226.62,42.8 228.12,42.8 228.12,42.8 229.62,42.81 229.62,42.81 231.12,42.81 231.12,42.81 232.62,42.81 232.62,42.81 234.12,42.81 234.12,42.81 235.62,42.82 235.62,42.82 237.12,42.82 237.12,42.82 238.62,42.82 238.62,42.82 240.12,42.82 240.12,42.82 241.62,42.83 241.62,42.83 243.12,42.83 243.12,42.83 244.62,42.83 244.62,42.83 246.12,42.83 246.12,42.83 247.62,42.83 247.62,42.83 249.12,42.84 249.12,42.84 250.62,42.84 250.62,42.84 252.12,42.84 252.12,42.84 253.62,42.84 253.62,42.84 255.12,42.85 255.12,42.85 256.62,42.85 256.62,42.85 258.12,42.85 258.12,42.85 259.62,42.85 259.62,42.85 261.12,42.86 261.12,42.86 262.62,42.86 262.62,42.86 264.12,42.86 264.12,42.86 265.62,42.86 265.62,42.86 267.12,42.86 267.12,42.86 268.62,42.87 268.62,42.87 270.12,42.87 270.12,42.87 271.62,42.87 271.62,42.87 273.12,42.87 273.12,42.87 274.62,42.88 274.62,42.88 276.12,42.88 276.12,42.88 277.62,42.88 277.62,42.88 279.12,42.88 279.12,42.88 280.62,42.89 280.62,42.89 282.12,42.89 282.12,42.89 283.62,42.89 283.62,42.89 285.12,42.89 285.12,42.89 286.62,42.89 286.62,42.89 288.12,42.9 288.12,42.9 289.62,42.9 289.62,42.9 291.12,42.92 291.12,42.92 292.62,42.95 292.62,42.95 294.12,42.98 294.12,42.98 295.62,43.01 295.62,43.01 297.12,43.04 297.12,43.04 298.62,43.07 298.62,43.07 300.12,43.1 300.12,43.1 301.62,43.13 301.62,43.13 303.12,43.16 303.12,43.16 304.62,43.19 304.62,43.19 306.12,43.22 306.12,43.22 307.62,43.25 307.62,43.25 309.12,43.28 309.12,43.28 310.62,43.31 310.62,43.31 312.12,43.34 312.12,43.34 313.62,43.37 313.62,43.37 315.12,43.4 315.12,43.4 316.62,43.43 316.62,43.43 318.12,43.46 318.12,43.46 319.62,43.49 319.62,43.49 320,43.5 320,44.2 318.6,44.2 318.6,44.2 317.1,44.2 317.1,44.2 315.6,44.2 315.6,44.2 314.1,44.2 314.1,44.2 312.6,44.2 312.6,44.2 311.1,44.2 311.1,44.2 309.6,44.2 309.6,44.2 308.1,44.2 308.1,44.2 306.6,44.2 306.6,44.2 305.1,44.2 305.1,44.2 303.6,44.2 303.6,44.2 302.1,44.2 302.1,44.2 300.6,44.2 300.6,44.2 299.1,44.2 299.1,44.2 297.6,44.2 297.6,44.2 296.1,44.2 296.1,44.2 294.6,44.2 294.6,44.2 293.1,44.2 293.1,44.2 291.6,44.2 291.6,44.2 290.1,44.2 290.1,44.2 288.6,44.2 288.6,44.2 287.1,44.2 287.1,44.2 285.6,44.2 285.6,44.2 284.1,44.2 284.1,44.2 282.6,44.2 282.6,44.2 281.1,44.2 281.1,44.2 279.6,44.2 279.6,44.2 278.1,44.2 278.1,44.2 276.6,44.2 276.6,44.2 275.1,44.2 275.1,44.2 273.6,44.2 273.6,44.2 272.1,44.2 272.1,44.2 270.6,44.2 270.6,44.2 269.1,44.2 269.1,44.2 267.6,44.2 267.6,44.2 266.1,44.2 266.1,44.2 264.6,44.2 264.6,44.2 263.1,44.2 263.1,44.2 261.6,44.2 261.6,44.2 260.1,44.2 260.1,44.2 258.6,44.2 258.6,44.2 257.1,44.2 257.1,44.2 255.6,44.2 255.6,44.2 254.1,44.2 254.1,44.2 252.6,44.2 252.6,44.2 251.1,44.2 251.1,44.2 249.6,44.2 249.6,44.2 248.1,44.21 248.1,44.21 246.6,44.21 246.6,44.21 245.1,44.22 245.1,44.22 243.6,44.22 243.6,44.22 242.1,44.22 242.1,44.22 240.6,44.23 240.6,44.23 239.1,44.23 239.1,44.23 237.6,44.24 237.6,44.24 236.1,44.24 236.1,44.24 234.6,44.25 234.6,44.25 233.1,44.25 233.1,44.25 231.6,44.26 231.6,44.26 230.1,44.26 230.1,44.26 228.6,44.27 228.6,44.27 227.1,44.27 227.1,44.27 225.6,44.28 225.6,44.28 224.1,44.28 224.1,44.28 222.6,44.28 222.6,44.28 221.1,44.29 221.1,44.29 219.6,44.29 219.6,44.29 218.1,44.3 218.1,44.3 216.6,44.3 216.6,44.3 215.1,44.31 215.1,44.31 213.6,44.31 213.6,44.31 212.1,44.32 212.1,44.32 210.6,44.32 210.6,44.32 209.1,44.33 209.1,44.33 207.6,44.33 207.6,44.33 206.1,44.34 206.1,44.34 204.6,44.34 204.6,44.34 203.1,44.34 203.1,44.34 201.6,44.35 201.6,44.35 200.1,44.35 200.1,44.35 198.6,44.36 198.6,44.36 197.1,44.36 197.1,44.36 195.6,44.37 195.6,44.37 194.1,44.37 194.1,44.37 192.6,44.38 192.6,44.38 191.1,44.38 191.1,44.38 189.6,44.39 189.6,44.39 188.1,44.39 188.1,44.39 186.6,44.4 186.6,44.4 185.1,44.4 185.1,44.4 183.6,44.47 183.6,44.47 182.1,44.54 182.1,44.54 180.6,44.61 180.6,44.61 179.1,44.68 179.1,44.68 177.6,44.76 177.6,44.76 176.1,44.83 176.1,44.83 174.6,44.9 174.6,44.9 173.1,44.97 173.1,44.97 171.6,45.04 171.6,45.04 170.1,45.12 170.1,45.12 168.6,45.19 168.6,45.19 167.1,45.26 167.1,45.26 165.6,45.33 165.6,45.33 164.1,45.4 164.1,45.4 162.6,45.48 162.6,45.48 161.1,45.55 161.1,45.55 159.6,45.62 159.6,45.62 158.1,45.68 158.1,45.68 156.6,45.74 156.6,45.74 155.1,45.8 155.1,45.8 153.6,45.86 153.6,45.86 152.1,45.92 152.1,45.92 150.6,45.98 150.6,45.98 149.1,46.04 149.1,46.04 147.6,46.1 147.6,46.1 146.1,46.16 146.1,46.16 144.6,46.22 144.6,46.22 143.1,46.28 143.1,46.28 141.6,46.34 141.6,46.34 140.1,46.4 140.1,46.4 138.6,46.54 138.6,46.54 137.1,46.69 137.1,46.69 135.6,46.84 135.6,46.84 134.1,46.99 134.1,46.99 132.6,47.14 132.6,47.14 131.1,47.29 131.1,47.29 129.6,47.44 129.6,47.44 128.1,47.59 128.1,47.59 126.6,47.74 126.6,47.74 125.1,47.89 125.1,47.89 123.6,48.05 123.6,48.05 122.1,48.24 122.1,48.24 120.6,48.42 120.6,48.42 119.1,48.83 119.1,48.83 117.6,49.39 117.6,49.39 116.1,49.94 116.1,49.94 114.6,50.45 114.6,50.45 113.1,50.93 113.1,50.93 111.6,51.4 111.6,51.4 110.1,51.87 110.1,51.87 108.6,52.35 108.6,52.35 107.1,52.85 107.1,52.85 105.6,53.39 105.6,53.39 104.1,53.93 104.1,53.93 102.6,54.46 102.6,54.46 101.1,55 101.1,55 99.6,55.64 99.6,55.64 98.1,56.28 98.1,56.28 96.6,56.91 96.6,56.91 95.1,57.42 95.1,57.42 93.6,57.91 93.6,57.91 92.1,58.4" fill="#ff0000" />
<polygon points="91.6,58.21 92.96,56.83 92.96,57.05 94.01,56.71 94.01,56.91 95.21,56.52 95.21,56.45 96.48,56.02 96.48,56.2 97.47,55.8 97.47,55.71 98.99,55.09 98.99,55.27 100.44,54.69 100.44,54.63 102.02,54 102.02,53.45 103.36,52.93 103.36,53.31 104.76,52.77 104.76,52.76 105.74,52.38 105.74,52.07 107.25,51.48 107.25,51.85 108.19,51.41 108.19,51.16 109.84,50.17 109.84,50.55 111.24,49.73 111.24,49.56 112.27,49.07 112.27,48.62 113.12,48.52 113.12,49.11 114.27,48.98 114.27,48.42 115.03,48.33 115.03,48.52 115.96,48.35 115.96,48.25 117,48.03 117,48.52 118.48,48.2 118.48,47.55 119.98,47.23 119.98,47.61 121.45,47.42 121.45,47.52 122.57,47.38 122.57,47.2 123.99,47.02 123.99,46.88 125.2,46.76 125.2,47.22 126.75,47.07 126.75,47.21 128.4,47.05 128.4,46.37 129.18,46.29 129.18,46.75 130.34,46.63 130.34,46.22 131.5,46.1 131.5,46.11 132.6,46 132.6,46.19 134.03,46.05 134.03,45.85 134.94,45.76 134.94,46.17 135.91,46.07 135.91,46.27 137.57,46.18 137.57,46 139.17,45.92 139.17,45.35 139.95,45.31 139.95,45.81 141.5,45.75 141.5,45.38 142.47,45.34 142.47,45.46 143.8,45.41 143.8,45.45 144.56,45.42 144.56,45.5 146.15,45.45 146.15,45.21 146.96,45.18 146.96,45.85 148.43,45.8 148.43,45.39 150.03,45.33 150.03,45.04 151.53,44.98 151.53,45.06 152.8,45.02 152.8,45.58 153.76,45.55 153.76,45.6 155.16,45.55 155.16,45.08 156.3,45.04 156.3,44.84 157.8,44.78 157.8,45.15 158.53,45.12 158.53,45.32 159.61,45.28 159.61,44.65 161.09,44.57 161.09,44.6 162.66,44.51 162.66,45.16 163.69,45.1 163.69,44.56 164.88,44.49 164.88,44.63 165.83,44.58 165.83,44.37 166.65,44.33 166.65,44.7 167.56,44.64 167.56,44.53 168.89,44.45 168.89,44.14 169.68,44.1 169.68,44.6 170.85,44.53 170.85,44.51 172.26,44.43 172.26,44.03 173.64,43.95 173.64,43.89 175.23,43.8 175.23,43.93 176.18,43.88 176.18,44.35 177.28,44.29 177.28,43.66 178.61,43.59 178.61,44.2 179.42,44.15 179.42,43.7 180.17,43.66 180.17,44.01 181.79,43.92 181.79,44.12 183.4,44.02 183.4,43.3 184.37,43.25 184.37,44.01 185.82,43.98 185.82,43.84 187.22,43.84 187.22,43.28 188.1,43.28 188.1,43.92 189.57,43.92 189.57,43.63 190.3,43.63 190.3,43.68 191.8,43.67 191.8,43.24 193.09,43.24 193.09,43.41 193.87,43.41 193.87,43.77 194.97,43.77 194.97,43.82 195.71,43.82 195.71,43.69 196.87,43.68 196.87,43.25 197.79,43.25 197.79,43.44 199.45,43.44 199.45,43.84 200.26,43.83 200.26,43.55 201.76,43.55 201.76,43.55 203.26,43.54 203.26,43.54 204.76,43.54 204.76,43.54 206.26,43.53 206.26,43.53 207.76,43.53 207.76,43.53 209.26,43.53 209.26,43.53 210.76,43.52 210.76,43.52 212.26,43.52 212.26,43.52 213.76,43.51 213.76,43.51 215.26,43.51 215.26,43.51 216.76,43.5 216.76,43.5 218.26,43.5 218.26,43.5 219.76,43.49 219.76,43.49 221.26,43.49 221.26,43.49 222.76,43.48 222.76,43.48 224.26,43.48 224.26,43.48 225.76,43.47 225.76,43.47 227.26,43.47 227.26,43.47 228.76,43.47 228.76,43.47 230.26,43.46 230.26,43.46 231.76,43.46 231.76,43.46 233.26,43.45 233.26,43.45 234.76,43.45 234.76,43.45 236.26,43.44 236.26,43.44 237.76,43.44 237.76,43.44 239.26,43.43 239.26,43.43 240.76,43.43 240.76,43.43 242.26,43.42 242.26,43.42 243.76,43.42 243.76,43.42 245.26,43.41 245.26,43.41 246.76,43.41 246.76,43.41 248.26,43.41 248.26,43.41 249.76,43.4 249.76,43.4 251.26,43.4 251.26,43.4 252.76,43.4 252.76,43.4 254.26,43.4 254.26,43.4 255.76,43.4 255.76,43.4 257.26,43.4 257.26,43.4 258.76,43.39 258.76,43.39 260.26,43.39 260.26,43.39 261.76,43.39 261.76,43.39 263.26,43.39 263.26,43.39 264.76,43.39 264.76,43.39 266.26,43.39 266.26,43.39 267.76,43.39 267.76,43.39 269.26,43.39 269.26,43.39 270.76,43.39 270.76,43.39 272.26,43.39 272.26,43.39 273.76,43.39 273.76,43.39 275.26,43.38 275.26,43.38 276.76,43.38 276.76,43.38 278.26,43.38 278.26,43.38 279.76,43.38 279.76,43.38 281.26,43.38 281.26,43.38 282.76,43.38 282.76,43.38 284.26,43.38 284.26,43.38 285.76,43.38 285.76,43.38 287.26,43.38 287.26,43.38 288.76,43.38 288.76,43.38 290.26,43.38 290.26,43.38 291.76,43.37 291.76,43.37 293.26,43.37 293.26,43.37 294.76,43.37 294.76,43.37 296.26,43.37 296.26,43.37 297.76,43.37 297.76,43.37 299.26,43.37 299.26,43.37 300.76,43.37 300.76,43.37 302.26,43.37 302.26,43.37 303.76,43.37 303.76,43.37 305.26,43.37 305.26,43.37 306.76,43.37 306.76,43.37 308.26,43.36 308.26,43.36 309.76,43.36 309.76,43.36 311.26,43.36 311.26,43.36 312.76,43.36 312.76,43.36 314.26,43.36 314.26,43.36 315.76,43.36 315.76,43.36 317.26,43.36 317.26,43.36 318.76,43.36 318.76,43.36 320.26,43.36 320.26,43.36 321.76,43.36 321.76,43.36 323.26,43.36 323.26,43.36 324.76,43.35 324.76,43.35 326.26,43.35 326.26,43.35 327.76,43.35 327.76,43.35 329.26,43.35 329.26,43.35 330.76,43.35 330.76,43.35 332.26,43.35 332.26,43.35 333.76,43.35 333.76,43.35 335.26,43.35 335.26,43.35 336.76,43.35 336.76,43.35 338.26,43.35 338.26,43.35 339.76,43.35 339.76,43.35 341.26,43.34 341.26,43.34 342.76,43.34 342.76,43.34 344.26,43.34 344.26,43.34 345.76,43.34 345.76,43.34 347.26,43.34 347.26,43.34 348.76,43.34 348.76,43.34 350.26,43.34 350.26,43.34 351.76,43.34 351.76,43.34 353.26,43.34 353.26,43.34 354.76,43.34 354.76,43.34 356.26,43.34 356.26,43.34 357.76,43.33 357.76,43.33 359.26,43.33 359.26,43.33 360.76,43.33 360.76,43.33 362.26,43.33 362.26,43.33 363.76,43.33 363.76,43.33 365.26,43.33 365.26,43.33 366.76,43.33 366.76,43.33 368.26,43.33 368.26,43.33 369.76,43.33 369.76,43.33 371.26,43.33 371.26,43.33 372.76,43.33 372.76,43.33 374.26,43.32 374.26,43.32 375.76,43.32 375.76,43.32 377.26,43.32 377.26,43.32 378.76,43.32 378.76,43.32 380.26,43.32 380.26,43.32 381.76,43.32 381.76,43.32 383.26,43.32 383.26,43.32 384.76,43.32 384.76,43.32 386.26,43.32 386.26,43.32 387.76,43.32 387.76,43.32 389.26,43.32 389.26,43.32 390.76,43.31 390.76,43.31 392.26,43.31 392.26,43.31 393.76,43.31 393.76,43.31 395.26,43.31 395.26,43.31 396.76,43.31 396.76,43.31 398.26,43.31 398.26,43.31 399.76,43.31 399.76,43.31 401.26,43.31 401.26,43.31 402.76,43.31 402.76,43.31 404.26,43.31 404.26,43.31 405.76,43.31 405.76,43.31 407.26,43.3 407.26,43.3 408.76,43.3 408.76,43.3 410.26,43.3 410.26,43.3 411.76,43.3 411.76,43.3 413.26,43.3 413.26,43.3 414.6,43.3 414.6,45.3 414.55,45.3 414.55,45.3 413.05,45.3 413.05,45.3 411.55,45.3 411.55,45.3 410.05,45.3 410.05,45.3 408.55,45.31 408.55,45.31 407.05,45.31 407.05,45.31 405.55,45.31 405.55,45.31 404.05,45.31 404.05,45.31 402.55,45.31 402.55,45.31 401.05,45.31 401.05,45.31 399.55,45.32 399.55,45.32 398.05,45.32 398.05,45.32 396.55,45.32 396.55,45.32 395.05,45.32 395.05,45.32 393.55,45.32 393.55,45.32 392.05,45.32 392.05,45.32 390.55,45.33 390.55,45.33 389.05,45.33 389.05,45.33 387.55,45.33 387.55,45.33 386.05,45.33 386.05,45.33 384.55,45.33 384.55,45.33 383.05,45.33 383.05,45.33 381.55,45.33 381.55,45.33 380.05,45.34 380.05,45.34 378.55,45.34 378.55,45.34 377.05,45.34 377.05,45.34 375.55,45.34 375.55,45.34 374.05,45.34 374.05,45.34 372.55,45.34 372.55,45.34 371.05,45.35 371.05,45.35 369.55,45.35 369.55,45.35 368.05,45.35 368.05,45.35 366.55,45.35 366.55,45.35 365.05,45.35 365.05,45.35 363.55,45.35 363.55,45.35 362.05,45.36 362.05,45.36 360.55,45.36 360.55,45.36 359.05,45.36 359.05,45.36 357.55,45.36 357.55,45.36 356.05,45.36 356.05,45.36 354.55,45.36 354.55,45.36 353.05,45.36 353.05,45.36 351.55,45.37 351.55,45.37 350.05,45.37 350.05,45.37 348.55,45.37 348.55,45.37 347.05,45.37 347.05,45.37 345.55,45.37 345.55,45.37 344.05,45.37 344.05,45.37 342.55,45.38 342.55,45.38 341.05,45.38 341.05,45.38 339.55,45.38 339.55,45.38 338.05,45.38 338.05,45.38 336.55,45.38 336.55,45.38 335.05,45.38 335.05,45.38 333.55,45.39 333.55,45.39 332.05,45.39 332.05,45.39 330.55,45.39 330.55,45.39 329.05,45.39 329.05,45.39 327.55,45.39 327.55,45.39 326.05,45.39 326.05,45.39 324.55,45.39 324.55,45.39 323.05,45.4 323.05,45.4 321.55,45.4 321.55,45.4 320.05,45.4 320.05,45.4 318.55,45.4 318.55,45.4 317.05,45.4 317.05,45.4 315.55,45.4 315.55,45.4 314.05,45.41 314.05,45.41 312.55,45.41 312.55,45.41 311.05,45.41 311.05,45.41 309.55,45.41 309.55,45.41 308.05,45.41 308.05,45.41 306.55,45.41 306.55,45.41 305.05,45.42 305.05,45.42 303.55,45.42 303.55,45.42 302.05,45.42 302.05,45.42 300.55,45.42 300.55,45.42 299.05,45.42 299.05,45.42 297.55,45.42 297.55,45.42 296.05,45.43 296.05,45.43 294.55,45.43 294.55,45.43 293.05,45.43 293.05,45.43 291.55,45.43 291.55,45.43 290.05,45.43 290.05,45.43 288.55,45.43 288.55,45.43 287.05,45.43 287.05,45.43 285.55,45.44 285.55,45.44 284.05,45.44 284.05,45.44 282.55,45.44 282.55,45.44 281.05,45.44 281.05,45.44 279.55,45.44 279.55,45.44 278.05,45.44 278.05,45.44 276.55,45.45 276.55,45.45 275.05,45.45 275.05,45.45 273.55,45.45 273.55,45.45 272.05,45.45 272.05,45.45 270.55,45.45 270.55,45.45 269.05,45.45 269.05,45.45 267.55,45.46 267.55,45.46 266.05,45.46 266.05,45.46 264.55,45.46 264.55,45.46 263.05,45.46 263.05,45.46 261.55,45.46 261.55,45.46 260.05,45.46 260.05,45.46 258.55,45.46 258.55,45.46 257.05,45.47 257.05,45.47 255.55,45.47 255.55,45.47 254.05,45.47 254.05,45.47 252.55,45.47 252.55,45.47 251.05,45.47 251.05,45.47 249.55,45.47 249.55,45.47 248.05,45.48 248.05,45.48 246.55,45.48 246.55,45.48 245.05,45.48 245.05,45.48 243.55,45.48 243.55,45.48 242.05,45.48 242.05,45.48 240.55,45.48 240.55,45.48 239.05,45.49 239.05,45.49 237.55,45.49 237.55,45.49 236.05,45.49 236.05,45.49 234.55,45.49 234.55,45.49 233.05,45.49 233.05,45.49 231.55,45.49 231.55,45.49 230.05,45.49 230.05,45.49 228.55,45.5 228.55,45.5 227.05,45.5 227.05,45.5 225.55,45.5 225.55,45.5 224.05,45.51 224.05,45.51 222.55,45.52 222.55,45.52 221.05,45.54 221.05,45.54 219.55,45.55 219.55,45.55 218.05,45.57 218.05,45.57 216.55,45.58 216.55,45.58 215.05,45.6 215.05,45.6 213.55,45.61 213.55,45.61 212.05,45.63 212.05,45.63 210.55,45.64 210.55,45.64 209.05,45.66 209.05,45.66 207.55,45.67 207.55,45.67 206.05,45.69 206.05,45.69 204.55,45.7 204.55,45.7 203.05,45.72 203.05,45.72 201.55,45.73 201.55,45.73 200.05,45.75 200.05,45.79 198.54,45.81 198.54,45.63 197.79,45.64 197.79,45.84 196.68,45.85 196.68,45.71 195.75,45.72 195.75,45.78 194.83,45.78 194.83,45.94 193.52,45.95 193.52,46.01 191.89,46.03 191.89,45.84 190.94,45.85 190.94,46.02 189.57,46.03 189.57,45.82 188.29,45.83 188.29,45.97 187.43,45.98 187.43,45.85 186.51,45.86 186.51,45.72 185.21,45.73 185.21,45.79 183.63,45.83 183.63,45.89 182.2,45.93 182.2,46.16 181.34,46.18 181.34,46.06 180.14,46.1 180.14,45.93 178.71,45.97 178.71,46.06 177.49,46.1 177.49,46.17 176.6,46.2 176.6,46.13 175.76,46.15 175.76,46.1 174.85,46.13 174.85,46.11 174.06,46.13 174.06,46.3 172.45,46.34 172.45,46.16 171.52,46.18 171.52,46.42 170.57,46.45 170.57,46.31 169.75,46.34 169.75,46.47 168.19,46.51 168.19,46.4 167.26,46.42 167.26,46.23 165.64,46.27 165.64,46.43 164.86,46.45 164.86,46.31 163.91,46.34 163.91,46.36 163.08,46.38 163.08,46.35 161.92,46.38 161.92,46.39 161.17,46.41 161.17,46.46 159.81,46.5 159.81,46.43 158.64,46.48 158.64,46.72 157.55,46.77 157.55,46.6 156.62,46.64 156.62,46.86 155.62,46.9 155.62,46.92 154.8,46.95 154.8,46.84 153.84,46.89 153.84,46.99 152.42,47.06 152.42,46.89 151.58,46.92 151.58,47.12 150.79,47.16 150.79,46.9 149.45,46.96 149.45,47.03 148.63,47.06 148.63,46.97 147.28,47.03 147.28,47.21 146.41,47.25 146.41,47.37 145.68,47.41 145.68,47.16 144.19,47.22 144.19,47.45 142.67,47.52 142.67,47.19 141.62,47.24 141.62,47.6 140.2,47.66 140.2,47.47 139.09,47.57 139.09,47.51 138.2,47.6 138.2,47.79 136.82,47.93 136.82,48.01 135.99,48.09 135.99,47.76 135.26,47.88 135.26,47.85 134.25,48.02 134.25,48.27 132.9,48.5 132.9,48.45 131.25,48.73 131.25,48.6 129.87,48.83 129.87,48.73 128.91,48.89 128.91,49.18 127.53,49.41 127.53,49.39 126.64,49.54 126.64,49.66 125.67,49.82 125.67,49.43 124.67,49.59 124.67,49.67 123.02,50 123.02,50.2 121.91,50.45 121.91,50.55 120.57,50.85 120.57,50.68 118.92,51.05 118.92,51.05 117.6,51.34 117.6,51.25 116.78,51.43 116.78,51.51 115.2,51.87 115.2,51.97 114.17,52.27 114.17,52.33 113.23,52.61 113.23,52.25 112.27,52.53 112.27,52.63 110.59,53.31 110.59,53.54 108.98,54.23 108.98,54.16 107.83,54.65 107.83,54.42 106.78,54.86 106.78,54.95 105.38,55.53 105.38,55.59 104.49,55.96 104.49,56.14 102.95,56.78 102.95,56.7 101.54,57.29 101.54,57.35 100.06,58.07 100.06,58.02 98.72,58.71 98.72,58.66 97.56,59.25 97.56,59.22 96.17,59.96 96.17,59.79 95.45,60.27 95.45,60.53 94.15,61.38 94.15,61.14 93.13,61.92 93.13,62.01 91.6,63.55" fill="#ff8000" />
<polygon points="86.6,204 86.56,205 86.52,206 86.48,207 86.44,208 86.4,209 86.36,210 86.32,211 86.28,212 86.24,213 86.2,214 86.16,215 86.12,216 86.08,217 86.04,218 86,219 85.96,220 85.92,221 85.88,222 85.84,223 85.8,224 85.76,225 85.72,226 85.68,227 85.64,228 85.61,228.8 86.31,228.8 86.34,228 86.38,227 86.42,226 86.46,225 86.5,224 86.54,223 86.58,222 86.62,221 86.66,220 86.7,219 86.74,218 86.78,217 86.82,216 86.86,215 86.9,214 86.94,213 86.98,212 87.02,211 87.06,210 87.1,209 87.14,208 87.18,207 87.22,206 87.26,205 87.3,204" fill="#ff8000" />
<polygon points="63.4,204 77.5,204 77.5,213.5 74.7,213.5 74.7,222 73.3,222 73.3,228.8 63.4,228.8" fill="#800080" />
<polygon points="88.8,38.5 88.66,39.5 88.53,40.5 88.39,41.5 88.25,42.5 88.12,43.5 87.98,44.5 87.84,45.5 87.71,46.5 87.57,47.5 87.43,48.5 87.28,49.5 87.13,50.5 86.99,51.5 86.84,52.5 86.69,53.5 86.55,54.5 86.4,55.5 86.32,56.5 86.23,57.5 86.15,58.5 86.06,59.5 85.98,60.5 85.89,61.5 85.81,62.5 85.72,63.5 85.64,64.5 85.55,65.5 85.47,66.5 85.38,67.5 85.3,68.5 85.21,69.5 85.13,70.5 85.04,71.5 84.93,72.5 84.8,73.5 84.67,74.5 84.53,75.5 84.4,76.5 84.27,77.5 84.13,78.5 84,79.5 83.87,80.5 83.73,81.5 83.6,82.5 83.47,83.5 83.36,84.5 83.29,85.5 83.21,86.5 83.14,87.5 83.06,88.5 82.99,89.5 82.91,90.5 82.84,91.5 82.76,92.5 82.69,93.5 82.61,94.5 82.54,95.5 82.46,96.5 82.39,97.5 82.31,98.5 82.24,99.5 82.17,100.5 82.11,101.5 82.05,102.5 81.99,103.5 81.93,104.5 81.87,105.5 81.81,106.5 81.75,107.5 81.69,108.5 81.63,109.5 81.54,110.5 81.42,111.5 81.3,112.5 81.17,113.5 81.05,114.5 80.93,115.5 80.81,116.5 80.69,117.5 80.57,118.5 80.45,119.5 80.33,120.5 80.2,121.5 80.08,122.5 79.96,123.5 79.84,124.5 79.72,125.5 79.6,126.5 79.48,127.5 79.35,128.5 79.23,129.5 79.11,130.5 78.99,131.5 78.87,132.5 78.75,133.5 78.62,134.5 78.5,135.5 78.38,136.5 78.26,137.5 78.15,138.5 78.05,139.5 77.95,140.5 77.85,141.5 77.75,142.5 77.65,143.5 77.55,144.5 77.45,145.5 77.35,146.5 77.25,147.5 77.15,148.5 77.05,149.5 76.94,150.5 76.82,151.5 76.7,152.5 76.58,153.5 76.46,154.5 76.34,155.5 76.22,156.5 76.1,157.5 75.98,158.5 75.86,159.5 75.76,160.5 75.68,161.5 75.59,162.5 75.51,163.5 75.43,164.5 75.35,165.5 75.26,166.5 75.18,167.5 75.1,168.5 75.02,169.5 74.93,170.5 74.85,171.5 74.77,172.5 74.69,173.5 74.6,174.5 74.52,175.5 74.44,176.5 74.36,177.5 74.27,178.5 74.19,179.5 74.11,180.5 74.03,181.5 73.94,182.5 73.86,183.5 73.78,184.5 73.7,185.5 73.61,186.5 73.53,187.5 73.45,188.5 73.37,189.5 73.28,190.5 73.2,191.5 73.12,192.5 73.04,193.5 72.95,194.5 72.87,195.5 72.79,196.5 72.71,197.5 72.62,198.5 72.54,199.5 72.48,200.5 72.45,201.5 72.42,202.5 72.38,203.5 72.35,204.5 72.32,205.5 72.3,206 78.4,206 78.42,205.5 78.47,204.5 78.52,203.5 78.56,202.5 78.61,201.5 78.65,200.5 78.7,199.5 78.75,198.5 78.79,197.5 78.84,196.5 78.88,195.5 78.93,194.5 78.98,193.5 79.04,192.5 79.13,191.5 79.21,190.5 79.29,189.5 79.38,188.5 79.46,187.5 79.55,186.5 79.63,185.5 79.71,184.5 79.8,183.5 79.88,182.5 79.96,181.5 80.05,180.5 80.13,179.5 80.22,178.5 80.3,177.5 80.38,176.5 80.47,175.5 80.55,174.5 80.64,173.5 80.72,172.5 80.8,171.5 80.89,170.5 80.97,169.5 81.05,168.5 81.14,167.5 81.22,166.5 81.31,165.5 81.39,164.5 81.47,163.5 81.56,162.5 81.68,161.5 81.85,160.5 82.02,159.5 82.18,158.5 82.35,157.5 82.52,156.5 82.68,155.5 82.85,154.5 83.02,153.5 83.18,152.5 83.35,151.5 83.52,150.5 83.64,149.5 83.72,148.5 83.8,147.5 83.88,146.5 83.96,145.5 84.04,144.5 84.11,143.5 84.19,142.5 84.27,141.5 84.35,140.5 84.43,139.5 84.51,138.5 84.59,137.5 84.67,136.5 84.75,135.5 84.83,134.5 84.91,133.5 84.99,132.5 85.06,131.5 85.14,130.5 85.22,129.5 85.3,128.5 85.38,127.5 85.46,126.5 85.56,125.5 85.68,124.5 85.8,123.5 85.92,122.5 86.03,121.5 86.15,120.5 86.27,119.5 86.39,118.5 86.51,117.5 86.63,116.5 86.75,115.5 86.87,114.5 86.98,113.5 87.1,112.5 87.22,111.5 87.34,110.5 87.38,109.5 87.33,108.5 87.28,107.5 87.23,106.5 87.18,105.5 87.12,104.5 87.08,103.5 87.03,102.5 86.98,101.5 86.93,100.5 86.91,99.5 86.94,98.5 86.96,97.5 86.99,96.5 87.01,95.5 87.04,94.5 87.06,93.5 87.09,92.5 87.11,91.5 87.14,90.5 87.16,89.5 87.19,88.5 87.21,87.5 87.24,86.5 87.26,85.5 87.29,84.5 87.38,83.5 87.54,82.5 87.7,81.5 87.85,80.5 88.01,79.5 88.17,78.5 88.33,77.5 88.49,76.5 88.65,75.5 88.8,74.5 88.96,73.5 89.12,72.5 89.25,71.5 89.34,70.5 89.43,69.5 89.52,68.5 89.61,67.5 89.7,66.5 89.79,65.5 89.88,64.5 89.97,63.5 90.06,62.5 90.15,61.5 90.25,60.5 90.34,59.5 90.43,58.5 90.52,57.5 90.61,56.5 90.7,55.5 90.97,54.5 91.24,53.5 91.51,52.5 91.79,51.5 92.06,50.5 92.33,49.5 92.6,48.5 92.71,47.5 92.83,46.5 92.94,45.5 93,44.5 93,43.5 93,42.5 93,41.5 93,40.5 93,39.5 93,38.5" fill="#800080" />
<polygon points="88.8,38.61 89.61,38.29 89.61,37.71 90.78,37.23 90.78,37.07 91.47,36.79 91.47,37.57 92.18,37.28 92.18,36.65 93.49,36.13 93.49,36.52 94.22,36.29 94.22,36.66 95.15,36.37 95.15,35.67 96.44,35.27 96.44,34.87 97.79,34.45 97.79,34.39 99.13,33.9 99.13,35.61 99.96,35.27 99.96,34.48 101.25,33.96 101.25,34.18 102.53,33.66 102.53,32.93 103.54,32.68 103.54,33.68 104.67,33.55 104.67,32.45 105.99,32.3 105.99,32.98 106.65,32.9 106.65,32.33 107.39,32.25 107.39,32.73 108.18,32.64 108.18,33.03 109.33,32.89 109.33,32.77 110.43,32.64 110.43,32.29 111.66,32.18 111.66,32.49 112.81,32.41 112.81,32.65 113.55,32.6 113.55,32.91 114.34,32.85 114.34,32.86 115.1,32.8 115.1,32.39 116.42,32.29 116.42,32.35 117.31,32.28 117.31,31.29 118.01,31.27 118.01,31.12 118.83,31.1 118.83,30.99 119.75,30.97 119.75,31.87 120.82,31.83 120.82,31.58 121.7,31.56 121.7,30.8 122.44,30.78 122.44,31.41 123.58,31.38 123.58,32.22 124.95,32.21 124.95,31.97 126.07,31.98 126.07,32.09 127.44,32.1 127.44,32.2 128.28,32.2 128.28,32.3 129.36,32.31 129.36,30.76 130.43,30.76 130.43,31.23 131.46,31.23 131.46,31.05 132.12,31.06 132.12,31.16 133.27,31.17 133.27,32.53 134.08,32.53 134.08,32.44 134.7,32.44 134.7,31.36 136.08,31.37 136.08,31.52 137.09,31.52 137.09,30.87 138.08,30.88 138.08,30.94 138.74,30.95 138.74,31.26 139.84,31.26 139.84,31.4 141.08,31.41 141.08,32.47 142.07,32.47 142.07,31.08 143.12,31.08 143.12,32.1 144.27,32.1 144.27,32.26 145.06,32.26 145.06,31.16 145.73,31.17 145.73,32.25 146.9,32.25 146.9,32.02 147.68,32.03 147.68,31.18 148.73,31.18 148.73,31.98 149.8,31.98 149.8,31.61 150.59,31.61 150.59,30.9 151.62,30.91 151.62,31.38 152.8,31.38 152.8,31.97 153.91,31.97 153.91,31.43 155.23,31.43 155.23,31.16 156.36,31.16 156.36,32.37 157.14,32.37 157.14,32.31 158.32,32.32 158.32,32.19 159.16,32.19 159.16,31.06 159.81,31.06 159.81,31.17 160.45,31.18 160.45,31.74 161.79,31.75 161.79,31.83 162.55,31.84 162.55,32.21 163.57,32.23 163.57,31.13 164.59,31.14 164.59,31.82 165.25,31.82 165.25,31.35 166.05,31.36 166.05,32.24 166.91,32.25 166.91,31.77 168.12,31.79 168.12,32.09 169.46,32.11 169.46,32.14 170.15,32.15 170.15,32.77 170.97,32.78 170.97,31.85 172.3,31.86 172.3,31.15 173.39,31.16 173.39,31.82 174.59,31.83 174.59,31.22 175.26,31.22 175.26,31.57 176.63,31.58 176.63,31.26 177.85,31.27 177.85,32.04 178.5,32.04 178.5,31.4 179.77,31.41 179.77,31.71 180.98,31.72 180.98,32.29 181.68,32.3 181.68,32.16 182.37,32.17 182.37,32.01 183.69,32.02 183.69,31.91 185.05,31.92 185.05,32.19 186.03,32.2 186.03,32.34 186.73,32.34 186.73,31.97 187.41,31.98 187.41,32.06 188.21,32.06 188.21,32.29 189.61,32.31 189.61,32.24 190.46,32.25 190.46,32.05 191.34,32.05 191.34,32.15 192.59,32.15 192.59,32.17 193.2,32.17 193.2,32 194.52,32 194.52,31.97 195.8,31.97 195.8,32.02 196.69,32.02 196.69,31.95 197.6,31.95 197.6,32.19 198.92,32.2 198.92,31.96 200.23,31.96 200.23,32.41 201.57,32.41 201.57,32.31 202.75,32.31 202.75,32.05 203.55,32.05 203.55,32.15 204.83,32.15 204.83,32.03 205.69,32.03 205.69,32.35 206.97,32.36 206.97,32.27 207.68,32.28 207.68,31.86 208.82,31.86 208.82,32.1 210.12,32.11 210.12,32.3 210.99,32.3 210.99,32.04 212.29,32.04 212.29,32.03 213.09,32.03 213.09,31.97 213.71,31.98 213.71,32.28 214.36,32.29 214.36,32.08 215.12,32.08 215.12,32.03 216.36,32.03 216.36,32.13 217.47,32.13 217.47,32.03 218.79,32.03 218.79,31.91 220.09,31.91 220.09,32.16 221.16,32.16 221.16,32.38 222.14,32.38 222.14,32.07 223.28,32.07 223.28,32.27 224.17,32.27 224.17,31.88 224.87,31.88 224.87,32.29 225.94,32.29 225.94,32.17 226.88,32.18 226.88,32.08 228.14,32.08 228.14,32.34 228.92,32.35 228.92,32.46 229.69,32.46 229.69,32.29 230.64,32.29 230.64,32.05 231.98,32.05 231.98,31.98 232.85,31.98 232.85,32.27 233.88,32.27 233.88,32.47 234.6,32.47 234.6,31.98 235.65,31.99 235.65,32.33 236.98,32.33 236.98,32.43 238.27,32.43 238.27,32.18 239.04,32.18 239.04,32.45 240.36,32.46 240.36,32.22 241.36,32.22 241.36,32.37 242.08,32.37 242.08,32.04 243.02,32.04 243.02,32.2 243.84,32.2 243.84,31.89 244.81,31.89 244.81,32.34 245.69,32.34 245.69,32.2 246.48,32.2 246.48,32.44 247.22,32.44 247.22,32.33 247.98,32.33 247.98,32.32 249.18,32.32 249.18,32.45 250,32.46 250,32.17 250,32.17 250,32.32 249.63,32.32 249.63,32.41 248.91,32.42 248.91,32.39 247.99,32.4 247.99,32.36 247.18,32.36 247.18,32.39 246.03,32.39 246.03,32.34 245.11,32.35 245.11,32.38 243.79,32.39 243.79,32.36 242.84,32.37 242.84,32.48 241.83,32.49 241.83,32.5 241.15,32.5 241.15,32.43 240.5,32.43 240.5,32.49 239.38,32.5 239.38,32.54 238.75,32.54 238.75,32.41 237.58,32.42 237.58,32.56 236.74,32.57 236.74,32.42 235.39,32.43 235.39,32.5 234.45,32.51 234.45,32.53 233.58,32.54 233.58,32.43 232.84,32.43 232.84,32.54 231.84,32.54 231.84,32.51 230.7,32.52 230.7,32.47 229.83,32.48 229.83,32.51 229.16,32.52 229.16,32.49 228.36,32.49 228.36,32.6 227.43,32.6 227.43,32.46 226.39,32.47 226.39,32.54 225.33,32.55 225.33,32.57 224.09,32.57 224.09,32.59 223.36,32.6 223.36,32.51 222.04,32.51 222.04,32.56 220.86,32.57 220.86,32.53 219.77,32.53 219.77,32.7 218.4,32.71 218.4,32.64 217.68,32.65 217.68,32.57 217,32.57 217,32.72 216.34,32.72 216.34,32.66 214.97,32.67 214.97,32.6 213.66,32.61 213.66,32.6 212.98,32.6 212.98,32.71 212.22,32.72 212.22,32.55 211.15,32.56 211.15,32.74 210.54,32.74 210.54,32.68 209.17,32.69 209.17,32.66 208.57,32.66 208.57,32.72 207.17,32.73 207.17,32.77 206.04,32.78 206.04,32.76 205.03,32.77 205.03,32.64 204.42,32.65 204.42,32.62 203.63,32.62 203.63,32.8 202.54,32.81 202.54,32.69 201.25,32.7 201.25,32.73 199.89,32.74 199.89,32.71 198.54,32.72 198.54,32.76 197.71,32.76 197.71,32.67 197.08,32.68 197.08,32.72 196.18,32.72 196.18,32.85 195.46,32.86 195.46,32.86 194.57,32.87 194.57,32.85 193.5,32.85 193.5,32.83 192.6,32.84 192.6,32.74 191.63,32.74 191.63,32.72 190.7,32.72 190.7,32.81 189.98,32.81 189.98,32.89 188.72,32.92 188.72,32.83 187.52,32.87 187.52,32.91 186.19,32.95 186.19,32.83 184.91,32.87 184.91,32.96 183.69,33 183.69,33.08 182.37,33.12 182.37,32.97 181.56,33 181.56,33.11 180.22,33.15 180.22,32.69 179.22,32.72 179.22,32.75 177.97,32.78 177.97,32.72 176.62,32.77 176.62,33.01 175.45,33.05 175.45,33.2 174.82,33.22 174.82,33.73 174.15,33.75 174.15,33.25 172.9,33.29 172.9,33.01 171.79,33.05 171.79,32.9 170.76,32.93 170.76,33.96 169.61,34 169.61,32.99 168.92,33.01 168.92,33.4 168,33.43 168,33.9 166.79,33.93 166.79,33.87 165.85,33.89 165.85,34.12 164.51,34.16 164.51,33.41 163.39,33.44 163.39,33.26 162.39,33.29 162.39,33.15 161.21,33.18 161.21,33.37 160.26,33.4 160.26,34.14 159.44,34.18 159.44,33.26 158.77,33.3 158.77,34.3 157.7,34.36 157.7,34.33 156.49,34.4 156.49,33.49 155.14,33.58 155.14,33.5 154.32,33.55 154.32,34.03 153.6,34.08 153.6,34.22 152.39,34.3 152.39,33.95 151,34.03 151,34.64 149.76,34.71 149.76,34.81 148.86,34.87 148.86,34.16 147.52,34.24 147.52,35.01 146.59,35.07 146.59,34.79 145.46,34.86 145.46,34.49 144.85,34.52 144.85,34.64 143.61,34.72 143.61,34.11 142.7,34.16 142.7,34.37 141.66,34.43 141.66,35.32 140.3,35.4 140.3,34.78 139.22,34.84 139.22,35.43 138.16,35.49 138.16,35.38 137.53,35.42 137.53,35.29 136.89,35.33 136.89,35.4 136.16,35.44 136.16,34.77 135,34.84 135,35.82 134.21,35.87 134.21,34.98 133.27,35.04 133.27,35.91 131.89,35.99 131.89,35.62 131.15,35.67 131.15,35.06 130.04,35.13 130.04,35.78 129.34,35.82 129.34,35.04 127.96,35.13 127.96,35.77 126.66,35.85 126.66,35.25 125.38,35.33 125.38,36.11 124.43,36.17 124.43,36.38 123.09,36.58 123.09,36.13 121.76,36.38 121.76,36.58 120.95,36.73 120.95,35.94 120.23,36.07 120.23,36.97 119.48,37.11 119.48,36.17 118.75,36.3 118.75,37.26 117.93,37.42 117.93,37.08 117.04,37.24 117.04,37.06 116.23,37.21 116.23,37.69 115.32,37.86 115.32,37.32 114.21,37.6 114.21,38.31 113.33,38.53 113.33,38.49 112.33,38.74 112.33,38.24 111.71,38.4 111.71,38.78 111.02,38.96 111.02,38.21 109.98,38.47 109.98,39.39 108.84,39.67 108.84,39.25 107.56,39.61 107.56,39.34 106.2,39.93 106.2,40.38 105.15,40.83 105.15,40.3 104.23,40.7 104.23,41.45 103.35,41.83 103.35,41.6 102.74,41.86 102.74,41.68 102.02,41.99 102.02,41.77 101.14,42.15 101.14,42.19 100.22,42.64 100.22,43.29 99.56,43.62 99.56,42.66 98.49,43.19 98.49,43.22 97.13,43.89 97.13,44.23 96.18,44.7 96.18,44.69 95.17,45.35 95.17,45.15 94.51,45.96 94.51,45.85 93.66,46.87 93.66,47.35 92.94,48.23 92.94,47.73 91.72,48.49 91.72,48.65 90.61,49.09 90.61,49.24 89.47,49.69 89.47,50.09 88.8,50.36" fill="#800080" />
<polygon points="92.4,50 93.9,46.92 93.9,46.92 95.4,45.1 95.4,45.1 96.9,44.36 96.9,44.36 98.4,43.63 98.4,43.63 99.9,42.89 99.9,42.89 101.4,42.17 101.4,42.17 102.9,41.52 102.9,41.52 104.4,40.87 104.4,40.87 105.9,40.22 105.9,40.22 107.4,39.57 107.4,39.57 108.9,39.12 108.9,39.12 110.4,38.75 110.4,38.75 111.9,38.38 111.9,38.38 113.4,38 113.4,38 114.9,37.62 114.9,37.62 116.4,37.31 116.4,37.31 117.9,37.03 117.9,37.03 119.4,36.76 119.4,36.76 120.9,36.48 120.9,36.48 122.4,36.2 122.4,36.2 123.9,35.92 123.9,35.92 125.4,35.81 125.4,35.81 126.9,35.72 126.9,35.72 128.4,35.63 128.4,35.63 129.9,35.54 129.9,35.54 131.4,35.45 131.4,35.45 132.9,35.36 132.9,35.36 134.4,35.26 134.4,35.26 135.9,35.17 135.9,35.17 137.4,35.08 137.4,35.08 138.9,34.99 138.9,34.99 140.4,34.9 140.4,34.9 141.9,34.81 141.9,34.81 143.4,34.71 143.4,34.71 144.9,34.62 144.9,34.62 146.4,34.53 146.4,34.53 147.9,34.44 147.9,34.44 149.4,34.35 149.4,34.35 150.9,34.26 150.9,34.26 152.4,34.16 152.4,34.16 153.9,34.07 153.9,34.07 155.4,33.98 155.4,33.98 156.9,33.89 156.9,33.89 158.4,33.8 158.4,33.8 159.9,33.71 159.9,33.71 161.4,33.65 161.4,33.65 162.9,33.6 162.9,33.6 164.4,33.55 164.4,33.55 165.9,33.5 165.9,33.5 167.4,33.45 167.4,33.45 168.9,33.4 168.9,33.4 170.4,33.35 170.4,33.35 171.9,33.3 171.9,33.3 173.4,33.25 173.4,33.25 174.9,33.2 174.9,33.2 176.4,33.15 176.4,33.15 177.9,33.1 177.9,33.1 179.4,33.05 179.4,33.05 180.9,33 180.9,33 182.4,32.95 182.4,32.95 183.9,32.9 183.9,32.9 185.4,32.85 185.4,32.85 186.9,32.8 186.9,32.8 188.4,32.75 188.4,32.75 189.9,32.7 189.9,32.7 191.4,32.69 191.4,32.69 192.9,32.68 192.9,32.68 194.4,32.66 194.4,32.66 195.9,32.65 195.9,32.65 197.4,32.64 197.4,32.64 198.9,32.63 198.9,32.63 200.4,32.61 200.4,32.61 201.9,32.6 201.9,32.6 203.4,32.59 203.4,32.59 204.9,32.58 204.9,32.58 206.4,32.56 206.4,32.56 207.9,32.55 207.9,32.55 209.4,32.54 209.4,32.54 210.9,32.53 210.9,32.53 212.4,32.51 212.4,32.51 213.9,32.5 213.9,32.5 215.4,32.49 215.4,32.49 216.9,32.48 216.9,32.48 218.4,32.46 218.4,32.46 219.9,32.45 219.9,32.45 221.4,32.44 221.4,32.44 222.9,32.43 222.9,32.43 224.4,32.41 224.4,32.41 225.9,32.4 225.9,32.4 227.4,32.39 227.4,32.39 228.9,32.38 228.9,32.38 230.4,32.36 230.4,32.36 231.9,32.35 231.9,32.35 233.4,32.34 233.4,32.34 234.9,32.33 234.9,32.33 236.4,32.31 236.4,32.31 237.9,32.3 237.9,32.3 239.4,32.29 239.4,32.29 240.9,32.28 240.9,32.28 242.4,32.26 242.4,32.26 243.9,32.25 243.9,32.25 245.4,32.24 245.4,32.24 246.9,32.23 246.9,32.23 248.4,32.21 248.4,32.21 249.9,32.2 249.9,32.2 251.4,32.2 251.4,32.2 252.9,32.2 252.9,32.2 254.4,32.2 254.4,32.2 255.9,32.2 255.9,32.2 257.4,32.2 257.4,32.2 258.9,32.19 258.9,32.19 260.4,32.19 260.4,32.19 261.9,32.19 261.9,32.19 263.4,32.19 263.4,32.19 264.9,32.19 264.9,32.19 266.4,32.19 266.4,32.19 267.9,32.19 267.9,32.19 269.4,32.19 269.4,32.19 270.9,32.19 270.9,32.19 272.4,32.19 272.4,32.19 273.9,32.19 273.9,32.19 275.4,32.18 275.4,32.18 276.9,32.18 276.9,32.18 278.4,32.18 278.4,32.18 279.9,32.18 279.9,32.18 281.4,32.18 281.4,32.18 282.9,32.18 282.9,32.18 284.4,32.18 284.4,32.18 285.9,32.18 285.9,32.18 287.4,32.18 287.4,32.18 288.9,32.18 288.9,32.18 290.4,32.18 290.4,32.18 291.9,32.17 291.9,32.17 293.4,32.17 293.4,32.17 294.9,32.17 294.9,32.17 296.4,32.17 296.4,32.17 297.9,32.17 297.9,32.17 299.4,32.17 299.4,32.17 300.9,32.17 300.9,32.17 302.4,32.17 302.4,32.17 303.9,32.17 303.9,32.17 305.4,32.17 305.4,32.17 306.9,32.17 306.9,32.17 308.4,32.16 308.4,32.16 309.9,32.16 309.9,32.16 311.4,32.16 311.4,32.16 312.9,32.16 312.9,32.16 314.4,32.16 314.4,32.16 315.9,32.16 315.9,32.16 317.4,32.16 317.4,32.16 318.9,32.16 318.9,32.16 320.4,32.16 320.4,32.16 321.9,32.16 321.9,32.16 323.4,32.16 323.4,32.16 324.9,32.15 324.9,32.15 326.4,32.15 326.4,32.15 327.9,32.15 327.9,32.15 329.4,32.15 329.4,32.15 330.9,32.15 330.9,32.15 332.4,32.15 332.4,32.15 333.9,32.15 333.9,32.15 335.4,32.15 335.4,32.15 336.9,32.15 336.9,32.15 338.4,32.15 338.4,32.15 339.9,32.15 339.9,32.15 341.4,32.14 341.4,32.14 342.9,32.14 342.9,32.14 344.4,32.14 344.4,32.14 345.9,32.14 345.9,32.14 347.4,32.14 347.4,32.14 348.9,32.14 348.9,32.14 350.4,32.14 350.4,32.14 351.9,32.14 351.9,32.14 353.4,32.14 353.4,32.14 354.9,32.14 354.9,32.14 356.4,32.14 356.4,32.14 357.9,32.13 357.9,32.13 359.4,32.13 359.4,32.13 360.9,32.13 360.9,32.13 362.4,32.13 362.4,32.13 363.9,32.13 363.9,32.13 365.4,32.13 365.4,32.13 366.9,32.13 366.9,32.13 368.4,32.13 368.4,32.13 369.9,32.13 369.9,32.13 371.4,32.13 371.4,32.13 372.9,32.13 372.9,32.13 374.4,32.12 374.4,32.12 375.9,32.12 375.9,32.12 377.4,32.12 377.4,32.12 378.9,32.12 378.9,32.12 380.4,32.12 380.4,32.12 381.9,32.12 381.9,32.12 383.4,32.12 383.4,32.12 384.9,32.12 384.9,32.12 386.4,32.12 386.4,32.12 387.9,32.12 387.9,32.12 389.4,32.12 389.4,32.12 390.9,32.11 390.9,32.11 392.4,32.11 392.4,32.11 393.9,32.11 393.9,32.11 395.4,32.11 395.4,32.11 396.9,32.11 396.9,32.11 398.4,32.11 398.4,32.11 399.9,32.11 399.9,32.11 401.4,32.11 401.4,32.11 402.9,32.11 402.9,32.11 404.4,32.11 404.4,32.11 405.9,32.11 405.9,32.11 407.4,32.1 407.4,32.1 408.9,32.1 408.9,32.1 410.4,32.1 410.4,32.1 411.9,32.1 411.9,32.1 413.4,32.1 413.4,32.1 414.6,32.1 414.6,34.1 413.26,34.1 413.26,34.1 411.76,34.1 411.76,34.1 410.26,34.1 410.26,34.1 408.76,34.1 408.76,34.1 407.26,34.1 407.26,34.1 405.76,34.11 405.76,34.11 404.26,34.11 404.26,34.11 402.76,34.11 402.76,34.11 401.26,34.11 401.26,34.11 399.76,34.11 399.76,34.11 398.26,34.11 398.26,34.11 396.76,34.11 396.76,34.11 395.26,34.11 395.26,34.11 393.76,34.11 393.76,34.11 392.26,34.11 392.26,34.11 390.76,34.11 390.76,34.11 389.26,34.12 389.26,34.12 387.76,34.12 387.76,34.12 386.26,34.12 386.26,34.12 384.76,34.12 384.76,34.12 383.26,34.12 383.26,34.12 381.76,34.12 381.76,34.12 380.26,34.12 380.26,34.12 378.76,34.12 378.76,34.12 377.26,34.12 377.26,34.12 375.76,34.12 375.76,34.12 374.26,34.12 374.26,34.12 372.76,34.13 372.76,34.13 371.26,34.13 371.26,34.13 369.76,34.13 369.76,34.13 368.26,34.13 368.26,34.13 366.76,34.13 366.76,34.13 365.26,34.13 365.26,34.13 363.76,34.13 363.76,34.13 362.26,34.13 362.26,34.13 360.76,34.13 360.76,34.13 359.26,34.13 359.26,34.13 357.76,34.13 357.76,34.13 356.26,34.14 356.26,34.14 354.76,34.14 354.76,34.14 353.26,34.14 353.26,34.14 351.76,34.14 351.76,34.14 350.26,34.14 350.26,34.14 348.76,34.14 348.76,34.14 347.26,34.14 347.26,34.14 345.76,34.14 345.76,34.14 344.26,34.14 344.26,34.14 342.76,34.14 342.76,34.14 341.26,34.14 341.26,34.14 339.76,34.15 339.76,34.15 338.26,34.15 338.26,34.15 336.76,34.15 336.76,34.15 335.26,34.15 335.26,34.15 333.76,34.15 333.76,34.15 332.26,34.15 332.26,34.15 330.76,34.15 330.76,34.15 329.26,34.15 329.26,34.15 327.76,34.15 327.76,34.15 326.26,34.15 326.26,34.15 324.76,34.15 324.76,34.15 323.26,34.16 323.26,34.16 321.76,34.16 321.76,34.16 320.26,34.16 320.26,34.16 318.76,34.16 318.76,34.16 317.26,34.16 317.26,34.16 315.76,34.16 315.76,34.16 314.26,34.16 314.26,34.16 312.76,34.16 312.76,34.16 311.26,34.16 311.26,34.16 309.76,34.16 309.76,34.16 308.26,34.16 308.26,34.16 306.76,34.17 306.76,34.17 305.26,34.17 305.26,34.17 303.76,34.17 303.76,34.17 302.26,34.17 302.26,34.17 300.76,34.17 300.76,34.17 299.26,34.17 299.26,34.17 297.76,34.17 297.76,34.17 296.26,34.17 296.26,34.17 294.76,34.17 294.76,34.17 293.26,34.17 293.26,34.17 291.76,34.17 291.76,34.17 290.26,34.18 290.26,34.18 288.76,34.18 288.76,34.18 287.26,34.18 287.26,34.18 285.76,34.18 285.76,34.18 284.26,34.18 284.26,34.18 282.76,34.18 282.76,34.18 281.26,34.18 281.26,34.18 279.76,34.18 279.76,34.18 278.26,34.18 278.26,34.18 276.76,34.18 276.76,34.18 275.26,34.18 275.26,34.18 273.76,34.19 273.76,34.19 272.26,34.19 272.26,34.19 270.76,34.19 270.76,34.19 269.26,34.19 269.26,34.19 267.76,34.19 267.76,34.19 266.26,34.19 266.26,34.19 264.76,34.19 264.76,34.19 263.26,34.19 263.26,34.19 261.76,34.19 261.76,34.19 260.26,34.19 260.26,34.19 258.76,34.19 258.76,34.19 257.26,34.2 257.26,34.2 255.76,34.2 255.76,34.2 254.26,34.2 254.26,34.2 252.76,34.2 252.76,34.2 251.26,34.2 251.26,34.2 249.76,34.2 249.76,34.2 248.26,34.22 248.26,34.22 246.76,34.23 246.76,34.23 245.26,34.25 245.26,34.25 243.76,34.26 243.76,34.26 242.26,34.28 242.26,34.28 240.76,34.29 240.76,34.29 239.26,34.31 239.26,34.31 237.76,34.32 237.76,34.32 236.26,34.34 236.26,34.34 234.76,34.35 234.76,34.35 233.26,34.37 233.26,34.37 231.76,34.38 231.76,34.38 230.26,34.4 230.26,34.4 228.76,34.41 228.76,34.41 227.26,34.43 227.26,34.43 225.76,34.44 225.76,34.44 224.26,34.46 224.26,34.46 222.76,34.47 222.76,34.47 221.26,34.49 221.26,34.49 219.76,34.5 219.76,34.5 218.26,34.52 218.26,34.52 216.76,34.53 216.76,34.53 215.26,34.55 215.26,34.55 213.76,34.56 213.76,34.56 212.26,34.58 212.26,34.58 210.76,34.59 210.76,34.59 209.26,34.61 209.26,34.61 207.76,34.62 207.76,34.62 206.26,34.64 206.26,34.64 204.76,34.65 204.76,34.65 203.26,34.67 203.26,34.67 201.76,34.68 201.76,34.68 200.26,34.7 200.26,34.55 198.92,34.57 198.92,34.51 197.75,34.53 197.75,34.72 196.37,34.73 196.37,35.01 195.62,35.02 195.62,34.88 194.11,34.9 194.11,34.73 193.16,34.74 193.16,34.71 191.8,34.73 191.8,34.88 190.7,34.89 190.7,34.71 189.58,34.74 189.58,34.73 188.54,34.79 188.54,34.78 187.19,34.87 187.19,34.74 185.55,34.84 185.55,34.82 184.29,34.89 184.29,35.21 183.23,35.28 183.23,35.43 181.68,35.53 181.68,35.22 180.47,35.29 180.47,35.17 179.26,35.25 179.26,35.57 178.05,35.64 178.05,35.48 177.24,35.52 177.24,35.32 176.32,35.38 176.32,35.6 174.65,35.7 174.65,35.69 173.68,35.74 173.68,35.54 172.58,35.61 172.58,35.87 171.12,35.96 171.12,36.01 170.03,36.07 170.03,35.73 168.85,35.8 168.85,36.23 167.35,36.32 167.35,36.34 166.27,36.4 166.27,36.28 164.73,36.37 164.73,36.16 163.9,36.21 163.9,36.61 162.78,36.67 162.78,36.32 161.94,36.37 161.94,36.49 160.6,36.57 160.6,36.46 159.57,36.52 159.57,36.67 158.63,36.74 158.63,36.94 157.72,37 157.72,36.63 156.35,36.72 156.35,36.56 155.03,36.64 155.03,37.04 153.58,37.14 153.58,36.95 152.5,37.02 152.5,37.03 151.53,37.1 151.53,37.22 150.39,37.3 150.39,37.48 149.31,37.55 149.31,37.48 148.18,37.55 148.18,37.62 147.14,37.69 147.14,37.67 146.15,37.73 146.15,37.32 144.5,37.43 144.5,37.52 143.35,37.6 143.35,37.93 141.77,38.04 141.77,37.94 140.8,38.01 140.8,37.8 139.37,37.9 139.37,38.15 138.32,38.22 138.32,37.88 136.68,37.99 136.68,38.26 135.03,38.37 135.03,37.98 134.25,38.04 134.25,38.18 132.92,38.27 132.92,38.51 131.45,38.61 131.45,38.34 130.03,38.44 130.03,38.75 129.01,38.82 129.01,38.58 128.09,38.64 128.09,38.87 126.58,38.97 126.58,38.95 125.58,39.02 125.58,38.82 123.98,38.93 123.98,38.85 122.51,39.09 122.51,39.36 121.52,39.51 121.52,39.41 120.16,39.62 120.16,39.56 118.96,39.75 118.96,39.66 117.68,40.03 117.68,40.17 116.63,40.61 116.63,40.59 115.72,40.97 115.72,41.02 114.39,41.59 114.39,41.83 112.84,42.48 112.84,42.37 111.81,42.7 111.81,42.83 110.75,43.14 110.75,42.56 109.39,42.96 109.39,43.17 107.98,43.58 107.98,43.87 106.65,44.49 106.65,44.49 105.84,44.89 105.84,44.37 104.18,45.19 104.18,45.35 103.11,45.88 103.11,46.13 101.69,46.83 101.69,46.76 100.66,47.32 100.66,47.04 99.26,47.9 99.26,47.86 97.98,48.65 97.98,49.04 97.14,49.56 97.14,49.43 95.97,50.26 95.97,50.46 94.97,51.31 94.97,51.31 93.6,52.47 93.6,52.1 92.4,53.82" fill="#c78ad0" />
<polygon points="81.6,202.3 81.59,203.3 81.57,204.3 81.56,205.3 81.54,206.3 81.53,207.3 81.51,208.3 81.5,209.3 81.48,210.3 81.47,211.3 81.45,212.3 81.44,213.3 81.42,214.3 81.41,215.3 81.39,216.3 81.38,217.3 81.36,218.3 81.35,219.3 81.33,220.3 81.32,221.3 81.3,222.3 81.29,223.3 81.27,224.3 81.26,225.3 81.24,226.3 81.23,227.3 81.21,228.3 81.2,228.8 85,228.8 85.01,228.3 85.03,227.3 85.04,226.3 85.06,225.3 85.07,224.3 85.09,223.3 85.1,222.3 85.12,221.3 85.13,220.3 85.15,219.3 85.16,218.3 85.18,217.3 85.19,216.3 85.21,215.3 85.22,214.3 85.24,213.3 85.25,212.3 85.27,211.3 85.28,210.3 85.3,209.3 85.31,208.3 85.33,207.3 85.34,206.3 85.36,205.3 85.37,204.3 85.39,203.3 85.4,202.3" fill="#c78ad0" />
<polygon points="92.6,48.5 92.33,49.5 92.06,50.5 91.79,51.5 91.51,52.5 91.24,53.5 90.97,54.5 90.7,55.5 90.61,56.5 90.52,57.5 90.43,58.5 90.34,59.5 90.25,60.5 90.15,61.5 90.06,62.5 89.97,63.5 89.88,64.5 89.79,65.5 89.7,66.5 89.61,67.5 89.52,68.5 89.43,69.5 89.34,70.5 89.25,71.5 89.12,72.5 88.96,73.5 88.8,74.5 88.65,75.5 88.49,76.5 88.33,77.5 88.17,78.5 88.01,79.5 87.85,80.5 87.7,81.5 87.54,82.5 87.38,83.5 87.29,84.5 87.26,85.5 87.24,86.5 87.22,87.5 87.19,88.5 87.17,89.5 87.14,90.5 87.12,91.5 87.09,92.5 87.07,93.5 87.05,94.5 87.02,95.5 87,96.5 86.97,97.5 86.95,98.5 86.92,99.5 86.9,100.5 87.5,100.5 88.23,99.5 88.95,98.5 89.23,97.5 89.38,96.5 89.54,95.5 89.7,94.5 89.85,93.5 90.01,92.5 90.17,91.5 90.32,90.5 90.42,89.5 90.45,88.5 90.48,87.5 90.52,86.5 90.55,85.5 90.58,84.5 90.62,83.5 90.66,82.5 90.7,81.5 90.75,80.5 90.79,79.5 90.83,78.5 90.87,77.5 90.91,76.5 90.95,75.5 91,74.5 91.04,73.5 91.08,72.5 91.16,71.5 91.27,70.5 91.39,69.5 91.5,68.5 91.62,67.5 91.73,66.5 91.85,65.5 91.96,64.5 92.08,63.5 92.19,62.5 92.31,61.5 92.42,60.5 92.54,59.5 92.65,58.5 92.77,57.5 92.88,56.5 93,55.5 93.03,54.5 93.06,53.5 93.09,52.5 93.11,51.5 93.14,50.5 93.17,49.5 93.2,48.5" fill="#c78ad0" />
<polygon points="84.2,104.8 84.08,105.8 83.95,106.8 83.83,107.8 83.7,108.8 83.58,109.8 83.45,110.8 83.33,111.8 83.2,112.8 83.08,113.8 82.95,114.8 82.83,115.8 82.7,116.8 82.58,117.8 82.45,118.8 82.33,119.8 82.25,120.8 82.18,121.8 82.11,122.8 82.05,123.8 81.98,124.8 81.91,125.8 81.9,126.8 81.9,127.8 81.9,128.8 81.9,129.8 81.9,130.8 81.9,131.8 81.9,132.8 81.9,133.8 81.9,134.8 81.9,135.8 81.9,136.8 81.9,137.8 81.9,138.8 81.9,139.8 81.9,140.8 81.9,141.8 81.9,142.8 81.9,143.8 81.9,144.8 81.9,145.8 81.9,146.8 81.9,147.8 81.9,148.8 81.9,149.8 81.86,150.8 81.82,151.8 81.77,152.8 81.72,153.8 81.68,154.8 81.63,155.8 81.58,156.8 81.54,157.8 81.49,158.8 81.44,159.8 81.4,160.8 81.35,161.8 81.3,162.8 81.26,163.8 81.21,164.8 81.16,165.8 81.11,166.8 81.06,167.8 81.01,168.8 80.95,169.8 80.9,170.8 80.85,171.8 80.8,172.8 80.75,173.8 80.7,174.8 80.65,175.8 80.59,176.8 80.54,177.8 80.49,178.8 80.44,179.8 80.39,180.8 80.34,181.8 80.29,182.8 80.24,183.8 80.18,184.8 80.13,185.8 80.08,186.8 80.03,187.8 79.98,188.8 79.93,189.8 79.88,190.8 79.83,191.8 79.77,192.8 79.72,193.8 79.67,194.8 79.62,195.8 79.57,196.8 79.52,197.8 79.47,198.8 79.42,199.8 79.36,200.8 79.31,201.8 79.26,202.8 79.21,203.8 79.2,204 80.2,204 80.21,203.8 80.27,202.8 80.32,201.8 80.38,200.8 80.44,199.8 80.49,198.8 80.55,197.8 80.61,196.8 80.66,195.8 80.72,194.8 80.78,193.8 80.83,192.8 80.89,191.8 80.94,190.8 81,189.8 81.06,188.8 81.11,187.8 81.17,186.8 81.23,185.8 81.28,184.8 81.34,183.8 81.4,182.8 81.45,181.8 81.51,180.8 81.57,179.8 81.62,178.8 81.68,177.8 81.73,176.8 81.79,175.8 81.85,174.8 81.9,173.8 81.96,172.8 82.02,171.8 82.07,170.8 82.13,169.8 82.19,168.8 82.24,167.8 82.3,166.8 82.35,165.8 82.41,164.8 82.48,163.8 82.55,162.8 82.61,161.8 82.68,160.8 82.75,159.8 82.81,158.8 82.88,157.8 82.95,156.8 83.01,155.8 83.08,154.8 83.15,153.8 83.21,152.8 83.28,151.8 83.35,150.8 83.4,149.8 83.43,148.8 83.45,147.8 83.47,146.8 83.49,145.8 83.51,144.8 83.53,143.8 83.55,142.8 83.57,141.8 83.59,140.8 83.61,139.8 83.63,138.8 83.65,137.8 83.68,136.8 83.7,135.8 83.72,134.8 83.74,133.8 83.76,132.8 83.78,131.8 83.8,130.8 83.82,129.8 83.84,128.8 83.86,127.8 83.88,126.8 83.92,125.8 84.04,124.8 84.16,123.8 84.27,122.8 84.39,121.8 84.51,120.8 84.61,119.8 84.66,118.8 84.72,117.8 84.77,116.8 84.82,115.8 84.87,114.8 84.93,113.8 84.98,112.8 85.03,111.8 85.08,110.8 85.14,109.8 85.19,108.8 85.24,107.8 85.29,106.8 85.35,105.8 85.4,104.8" fill="#ff0000" />
<polygon points="87.7,71.4 87.67,72.4 87.65,73.4 87.62,74.4 87.59,75.4 87.57,76.4 87.54,77.4 87.52,78.4 87.5,79 88.4,79 88.42,78.4 88.46,77.4 88.5,76.4 88.54,75.4 88.58,74.4 88.62,73.4 88.66,72.4 88.7,71.4" fill="#ff0000" />
<polygon points="83.3,85 83.32,86 83.34,87 83.36,88 83.38,89 83.4,90 83.42,91 83.44,92 83.46,93 83.48,94 83.5,95 83.52,96 83.54,97 83.56,98 83.58,99 83.6,100 83.72,101 83.85,102 83.97,103 84.1,104 84.2,104.8 85.4,104.8 85.25,104 85.06,103 84.88,102 84.69,101 84.5,100 84.47,99 84.45,98 84.42,97 84.39,96 84.37,95 84.34,94 84.31,93 84.29,92 84.26,91 84.23,90 84.21,89 84.18,88 84.15,87 84.13,86 84.1,85" fill="#ff0000" />
<polygon points="77.5,204 79.7,204 79.7,211 78.5,211 78.5,214 76.8,214 76.8,222 75.2,222 75.2,228.8 73.3,228.8 73.3,222 74.7,222 74.7,213.5 77.5,213.5" fill="#ff0000" />
<polygon points="62.7,216 63.4,216 63.4,222 62.7,222" fill="#ff0000" />
<polygon points="79.7,210.6 81.3,210.6 81.3,228.8 75.2,228.8 75.2,222 76.8,222 76.8,214 78.5,214 78.5,211 79.7,211" fill="#90ff90" />
<polygon points="62.2,221 63.2,221 63.2,224 62.2,224" fill="#90ff90" />
<polygon points="62.2,200.6 62.9,200.6 63.61,200.6 64.31,200.6 65.02,200.6 65.72,200.6 66.42,200.6 67.13,200.6 67.83,200.6 68.53,200.6 69.24,200.6 69.94,200.6 70.65,200.6 71.35,200.6 72.05,200.6 72.76,200.6 73.46,200.6 74.17,200.6 74.87,200.6 75.57,200.6 76.28,200.6 76.98,200.6 77.68,200.6 78.39,200.6 79.09,200.6 79.8,200.6 80.5,200.6 80.75,199.91 80.99,199.22 81.24,198.53 81.48,197.84 81.73,197.15 81.97,196.45 82.22,195.76 82.46,195.07 82.71,194.38 82.95,193.69 83.2,193 83.28,192.3 83.36,191.59 83.45,190.89 83.53,190.18 83.61,189.48 83.69,188.77 83.77,188.07 83.85,187.36 83.94,186.66 84.02,185.95 84.1,185.25 84.18,184.55 84.26,183.84 84.35,183.14 84.43,182.43 84.51,181.73 84.59,181.02 84.67,180.32 84.75,179.61 84.84,178.91 84.92,178.2 85,177.5 85.08,176.8 85.16,176.09 85.25,175.39 85.33,174.68 85.41,173.98 85.49,173.27 85.57,172.57 85.65,171.86 85.74,171.16 85.82,170.45 85.9,169.75 85.98,169.05 86.06,168.34 86.15,167.64 86.23,166.93 86.31,166.23 86.39,165.52 86.47,164.82 86.55,164.11 86.64,163.41 86.72,162.7 86.8,162 86.87,161.29 86.94,160.59 87.01,159.88 87.08,159.18 87.15,158.47 87.22,157.76 87.29,157.06 87.36,156.35 87.44,155.65 87.51,154.94 87.58,154.24 87.65,153.53 87.72,152.82 87.79,152.12 87.86,151.41 87.93,150.71 88,150 88.06,149.29 88.11,148.59 88.17,147.88 88.22,147.18 88.28,146.47 88.34,145.76 88.39,145.06 88.45,144.35 88.5,143.65 88.56,142.94 88.61,142.24 88.67,141.53 88.73,140.82 88.78,140.12 88.84,139.41 88.89,138.71 88.95,138 89.01,137.29 89.06,136.59 89.12,135.88 89.17,135.18 89.23,134.47 89.29,133.76 89.34,133.06 89.4,132.35 89.45,131.65 89.51,130.94 89.56,130.24 89.62,129.53 89.68,128.82 89.73,128.12 89.79,127.41 89.84,126.71 89.9,126 90.03,125.3 90.17,124.61 90.3,123.91 90.44,123.22 90.57,122.52 90.71,121.83 90.84,121.13 90.98,120.43 91.11,119.74 91.25,119.04 91.38,118.35 91.52,117.65 91.65,116.96 91.79,116.26 91.92,115.57 92.06,114.87 92.19,114.17 92.33,113.48 92.46,112.78 92.6,112.09 92.73,111.39 92.87,110.7 93,110 93.47,109.41 93.94,108.83 94.41,108.24 94.89,107.66 95.36,107.07 95.83,106.49 96.3,105.9 96.82,105.37 97.34,104.83 97.87,104.3 98.39,103.77 98.91,103.23 99.43,102.7 99.96,102.17 100.48,101.63 101,101.1 101.53,100.58 102.07,100.06 102.6,99.53 103.13,99.01 103.67,98.49 104.2,97.97 104.73,97.44 105.27,96.92 105.8,96.4 106.28,95.86 106.76,95.32 107.24,94.78 107.72,94.24 108.2,93.7 108.68,93.16 109.16,92.62 109.64,92.08 110.12,91.54 110.6,91 111.2,90.3 111.8,89.6 112.4,88.9 112.93,88.36 113.47,87.81 114,87.27 114.53,86.72 115.07,86.18 115.6,85.63 116.13,85.09 116.67,84.54 117.2,84 117.65,83.38 118.1,82.75 118.55,82.12 119,81.5 119.56,81.02 120.13,80.55 120.69,80.07 121.26,79.59 121.82,79.12 122.39,78.64 122.95,78.16 123.52,77.69 124.08,77.21 124.65,76.74 125.21,76.26 125.78,75.78 126.34,75.31 126.91,74.83 127.47,74.35 128.04,73.88 128.6,73.4 129.23,73.08 129.87,72.77 130.5,72.45 131.13,72.13 131.77,71.82 132.4,71.5 133.03,71.18 133.67,70.87 134.3,70.55 134.93,70.23 135.57,69.92 136.2,69.6 136.83,69.28 137.47,68.97 138.1,68.65 138.73,68.33 139.37,68.02 140,67.7 140.62,67.33 141.24,66.96 141.86,66.59 142.48,66.21 143.1,65.84 143.71,65.47 144.33,65.1 144.95,64.73 145.57,64.36 146.19,63.99 146.81,63.61 147.43,63.24 148.05,62.87 148.67,62.5 149.29,62.13 149.9,61.76 150.52,61.39 151.14,61.01 151.76,60.64 152.38,60.27 153,59.9 153.71,59.76 154.41,59.63 155.12,59.49 155.82,59.36 156.53,59.22 157.24,59.09 157.94,58.95 158.65,58.82 159.35,58.68 160.06,58.55 160.76,58.41 161.47,58.28 162.18,58.14 162.88,58.01 163.59,57.87 164.29,57.74 165,57.6 165.71,57.56 166.43,57.52 167.14,57.48 167.86,57.44 168.57,57.4 169.29,57.36 170,57.32 170.71,57.28 171.43,57.24 172.14,57.2 172.86,57.16 173.57,57.12 174.29,57.08 175,57.04 175.71,57 176.43,56.96 177.14,56.92 177.86,56.88 178.57,56.84 179.29,56.8 180,56.76 180.71,56.72 181.43,56.68 182.14,56.64 182.86,56.6 183.57,56.56 184.29,56.52 185,56.48 185.71,56.44 186.43,56.4 187.14,56.36 187.86,56.32 188.57,56.28 189.29,56.24 190,56.2 190.71,56.18 191.43,56.17 192.14,56.15 192.86,56.13 193.57,56.12 194.29,56.1 195,56.08 195.71,56.07 196.43,56.05 197.14,56.03 197.86,56.02 198.57,56 199.29,55.98 200,55.97 200.71,55.95 201.43,55.93 202.14,55.92 202.86,55.9 203.57,55.88 204.29,55.87 205,55.85 205.71,55.83 206.43,55.82 207.14,55.8 207.86,55.78 208.57,55.77 209.29,55.75 210,55.73 210.71,55.72 211.43,55.7 212.14,55.68 212.86,55.67 213.57,55.65 214.29,55.63 215,55.62 215.71,55.6 216.43,55.58 217.14,55.57 217.86,55.55 218.57,55.53 219.29,55.52 220,55.5 220.7,55.5 221.41,55.51 222.11,55.51 222.81,55.51 223.52,55.52 224.22,55.52 224.92,55.52 225.62,55.52 226.33,55.53 227.03,55.53 227.73,55.53 228.44,55.54 229.14,55.54 229.84,55.54 230.55,55.55 231.25,55.55 231.95,55.55 232.66,55.56 233.36,55.56 234.06,55.56 234.77,55.57 235.47,55.57 236.17,55.57 236.88,55.58 237.58,55.58 238.28,55.58 238.98,55.58 239.69,55.59 240.39,55.59 241.09,55.59 241.8,55.6 242.5,55.6 243.2,55.6 243.91,55.61 244.61,55.61 245.31,55.61 246.02,55.62 246.72,55.62 247.42,55.62 248.12,55.62 248.83,55.63 249.53,55.63 250.23,55.63 250.94,55.64 251.64,55.64 252.34,55.64 253.05,55.65 253.75,55.65 254.45,55.65 255.16,55.66 255.86,55.66 256.56,55.66 257.27,55.67 257.97,55.67 258.67,55.67 259.38,55.67 260.08,55.68 260.78,55.68 261.48,55.68 262.19,55.69 262.89,55.69 263.59,55.69 264.3,55.7 265,55.7 265.7,55.7 266.41,55.71 267.11,55.71 267.81,55.71 268.52,55.72 269.22,55.72 269.92,55.72 270.62,55.73 271.33,55.73 272.03,55.73 272.73,55.73 273.44,55.74 274.14,55.74 274.84,55.74 275.55,55.75 276.25,55.75 276.95,55.75 277.66,55.76 278.36,55.76 279.06,55.76 279.77,55.77 280.47,55.77 281.17,55.77 281.88,55.77 282.58,55.78 283.28,55.78 283.98,55.78 284.69,55.79 285.39,55.79 286.09,55.79 286.8,55.8 287.5,55.8 288.2,55.8 288.91,55.81 289.61,55.81 290.31,55.81 291.02,55.82 291.72,55.82 292.42,55.82 293.12,55.82 293.83,55.83 294.53,55.83 295.23,55.83 295.94,55.84 296.64,55.84 297.34,55.84 298.05,55.85 298.75,55.85 299.45,55.85 300.16,55.86 300.86,55.86 301.56,55.86 302.27,55.87 302.97,55.87 303.67,55.87 304.38,55.88 305.08,55.88 305.78,55.88 306.48,55.88 307.19,55.89 307.89,55.89 308.59,55.89 309.3,55.9 310,55.9 310.7,55.91 311.41,55.92 312.11,55.93 312.82,55.94 313.52,55.95 314.23,55.96 314.93,55.97 315.63,55.98 316.34,55.99 317.04,56 317.75,56.01 318.45,56.02 319.15,56.03 319.86,56.04 320.56,56.05 321.27,56.06 321.97,56.07 322.68,56.08 323.38,56.09 324.08,56.1 324.79,56.11 325.49,56.12 326.2,56.13 326.9,56.14 327.61,56.15 328.31,56.16 329.01,56.17 329.72,56.18 330.42,56.19 331.13,56.2 331.83,56.21 332.54,56.22 333.24,56.23 333.94,56.24 334.65,56.25 335.35,56.25 336.06,56.26 336.76,56.27 337.46,56.28 338.17,56.29 338.87,56.3 339.58,56.31 340.28,56.32 340.99,56.33 341.69,56.34 342.39,56.35 343.1,56.36 343.8,56.37 344.51,56.38 345.21,56.39 345.92,56.4 346.62,56.41 347.32,56.42 348.03,56.43 348.73,56.44 349.44,56.45 350.14,56.46 350.85,56.47 351.55,56.48 352.25,56.49 352.96,56.5 353.66,56.51 354.37,56.52 355.07,56.53 355.77,56.54 356.48,56.55 357.18,56.56 357.89,56.57 358.59,56.58 359.3,56.59 360,56.6 360.7,56.61 361.4,56.62 362.11,56.63 362.81,56.64 363.51,56.65 364.21,56.66 364.91,56.67 365.61,56.68 366.32,56.69 367.02,56.71 367.72,56.72 368.42,56.73 369.12,56.74 369.82,56.75 370.53,56.76 371.23,56.77 371.93,56.78 372.63,56.79 373.33,56.8 374.04,56.81 374.74,56.82 375.44,56.83 376.14,56.84 376.84,56.85 377.54,56.86 378.25,56.87 378.95,56.88 379.65,56.89 380.35,56.91 381.05,56.92 381.75,56.93 382.46,56.94 383.16,56.95 383.86,56.96 384.56,56.97 385.26,56.98 385.96,56.99 386.67,57 387.37,57.01 388.07,57.02 388.77,57.03 389.47,57.04 390.18,57.05 390.88,57.06 391.58,57.07 392.28,57.08 392.98,57.09 393.68,57.11 394.39,57.12 395.09,57.13 395.79,57.14 396.49,57.15 397.19,57.16 397.89,57.17 398.6,57.18 399.3,57.19 400,57.2 400.73,57.2 401.46,57.2 402.19,57.2 402.92,57.2 403.65,57.2 404.38,57.2 405.11,57.2 405.84,57.2 406.57,57.2 407.3,57.2 408.03,57.2 408.76,57.2 409.49,57.2 410.22,57.2 410.95,57.2 411.68,57.2 412.41,57.2 413.14,57.2 413.87,57.2 414.6,57.2 414.6,59.72 413.87,59.72 413.14,59.72 412.41,60 411.68,59.94 410.95,59.94 410.22,60.32 409.49,60.06 408.76,60.06 408.03,60.06 407.3,60.24 406.57,60.24 405.84,60.14 405.11,60.14 404.38,60.14 403.65,60.25 402.92,59.72 402.19,60.34 401.46,60.34 400.73,59.79 400,59.79 399.3,59.78 398.59,59.86 397.89,59.9 397.19,59.9 396.48,59.89 395.78,60.04 395.08,60.04 394.38,59.75 393.67,59.75 392.97,59.74 392.27,60.11 391.56,60.1 390.86,59.84 390.16,60.06 389.45,60.05 388.75,60.05 388.05,59.53 387.34,59.56 386.64,59.62 385.94,60.06 385.23,60.06 384.53,59.92 383.83,59.81 383.12,59.8 382.42,59.79 381.72,60.14 381.02,60.14 380.31,59.56 379.61,59.56 378.91,59.76 378.2,59.75 377.5,59.55 376.8,59.54 376.09,59.9 375.39,59.9 374.69,59.94 373.98,59.93 373.28,60 372.58,59.99 371.88,59.87 371.17,59.86 370.47,59.85 369.77,59.63 369.06,59.62 368.36,59.61 367.66,59.84 366.95,59.83 366.25,59.82 365.55,59.73 364.84,59.72 364.14,59.48 363.44,59.6 362.73,59.59 362.03,59.26 361.33,59.25 360.62,59.78 359.92,59.77 359.22,59.62 358.52,59.61 357.81,59.68 357.11,59.29 356.41,59.28 355.7,59.27 355,59.34 354.3,59.33 353.59,59.32 352.89,59.23 352.19,59.23 351.48,59.22 350.78,59.49 350.08,59.48 349.38,59.47 348.67,59.52 347.97,59.61 347.27,59.68 346.56,59.32 345.86,59.2 345.16,59.19 344.45,59.21 343.75,59.43 343.05,59.42 342.34,59.42 341.64,59.32 340.94,59.01 340.23,59 339.53,59.26 338.83,59.25 338.12,59.63 337.42,59.51 336.72,59.5 336.02,59.49 335.31,59.24 334.61,59.19 333.91,59.18 333.2,59.57 332.5,59.04 331.8,59.04 331.09,59.1 330.39,59.09 329.69,59.55 328.98,59.54 328.28,59.54 327.58,59.53 326.88,59.34 326.17,59.33 325.47,59.19 324.77,59.15 324.06,59.14 323.36,59.42 322.66,59.42 321.95,58.9 321.25,58.89 320.55,59.36 319.84,59.35 319.14,59.17 318.44,59.16 317.73,59.07 317.03,59.06 316.33,59.05 315.62,59.34 314.92,59.33 314.22,59.28 313.52,59.27 312.81,59.18 312.11,58.84 311.41,58.69 310.7,58.68 310,58.68 309.3,59.34 308.59,59.34 307.89,59.31 307.19,59.31 306.48,58.9 305.78,58.9 305.08,58.98 304.38,58.98 303.67,58.98 302.97,58.89 302.27,58.89 301.56,58.74 300.86,58.74 300.16,58.73 299.45,58.87 298.75,58.86 298.05,58.86 297.34,59.25 296.64,59.25 295.94,58.6 295.23,58.6 294.53,58.59 293.83,58.69 293.12,58.77 292.42,59.05 291.72,59.05 291.02,58.82 290.31,58.82 289.61,58.79 288.91,58.79 288.2,58.58 287.5,59.09 286.8,59.09 286.09,58.61 285.39,58.61 284.69,58.69 283.98,58.69 283.28,58.68 282.58,59.19 281.88,59.19 281.17,58.91 280.47,58.9 279.77,58.66 279.06,58.65 278.36,58.98 277.66,58.97 276.95,58.55 276.25,58.54 275.55,58.7 274.84,58.69 274.14,58.69 273.44,58.51 272.73,58.83 272.03,58.82 271.33,58.85 270.62,58.84 269.92,58.84 269.22,58.44 268.52,58.43 267.81,58.43 267.11,58.54 266.41,58.54 265.7,58.88 265,58.87 264.3,58.81 263.59,58.8 262.89,58.69 262.19,58.99 261.48,58.59 260.78,58.59 260.08,58.59 259.38,58.75 258.67,58.76 257.97,58.58 257.27,58.58 256.56,58.66 255.86,58.66 255.16,58.65 254.45,58.44 253.75,58.72 253.05,58.78 252.34,58.78 251.64,58.43 250.94,58.38 250.23,58.38 249.53,58.38 248.83,58.4 248.12,58.39 247.42,58.87 246.72,58.58 246.02,58.37 245.31,58.79 244.61,58.78 243.91,58.78 243.2,58.92 242.5,58.91 241.8,58.7 241.09,58.56 240.39,58.35 239.69,58.35 238.98,58.88 238.28,58.88 237.58,58.55 236.88,58.54 236.17,58.49 235.47,58.49 234.77,58.77 234.06,58.76 233.36,58.76 232.66,58.33 231.95,58.32 231.25,58.82 230.55,58.82 229.84,58.66 229.14,58.78 228.44,58.78 227.73,58.47 227.03,58.46 226.33,58.46 225.62,58.52 224.92,58.51 224.22,58.85 223.52,58.85 222.81,58.84 222.11,58.81 221.41,58.81 220.7,58.8 220,58.42 219.29,58.44 218.57,58.46 217.86,58.55 217.14,58.57 216.43,58.61 215.71,58.89 215,58.91 214.29,58.93 213.57,58.77 212.86,58.79 212.14,58.81 211.43,58.87 210.71,58.89 210,58.43 209.29,58.45 208.57,59.15 207.86,58.55 207.14,58.57 206.43,58.73 205.71,58.74 205,58.75 204.29,58.6 203.57,58.62 202.86,58.84 202.14,58.86 201.43,59.15 200.71,59.17 200,59.19 199.29,58.72 198.57,58.74 197.86,59.2 197.14,59.22 196.43,59.24 195.71,58.9 195,58.92 194.29,59.33 193.57,59.35 192.86,59.37 192.14,59.51 191.43,59.52 190.71,59.26 190,59.28 189.29,59.48 188.57,59.56 187.86,59.65 187.14,59.47 186.43,60.06 185.71,60.15 185,60.23 184.29,60.27 183.57,60.35 182.86,59.86 182.14,60.59 181.43,60.68 180.71,60.73 180,60.82 179.29,60.87 178.57,60.66 177.86,60.47 177.14,60.53 176.43,60.58 175.71,61.13 175,61.18 174.29,61.24 173.57,60.86 172.86,60.91 172.14,60.97 171.43,61.31 170.71,61.37 170,61.42 169.29,61.06 168.57,61.12 167.86,61.17 167.14,61.34 166.43,61.39 165.71,61.45 165,61.64 164.29,61.81 163.59,61.98 162.88,62.08 162.18,62.18 161.47,62.35 160.76,63.34 160.06,63.51 159.35,63.68 158.65,63.13 157.94,63.03 157.24,64.38 156.53,64.55 155.82,63.07 155.12,63.24 154.41,63.41 153.71,65.06 153,65.23 152.25,64.34 151.5,64.69 150.75,65.04 150,64.9 149.38,65.26 148.75,66.7 148.12,67.06 147.5,68.18 146.88,68.55 146.25,67.26 145.62,67.62 145,68.23 144.38,68.29 143.75,69.08 143.12,69.44 142.5,70.77 141.88,71.13 141.25,72.13 140.62,70.57 140,70.93 139.39,72.54 138.78,72.94 138.17,73.99 137.56,74.4 136.95,74.13 136.35,74.54 135.74,75.43 135.13,75.84 134.52,75.57 133.91,75.77 133.3,76.18 132.71,77.83 132.12,77.99 131.54,78.47 130.95,78.94 130.36,78.54 129.78,79.02 129.19,78.88 128.6,79.35 128.06,79.68 127.52,80.14 126.99,81.24 126.45,81.7 125.91,82.17 125.38,82.47 124.84,82.94 124.3,83.82 123.76,84.28 123.22,83.97 122.69,84.5 122.15,84.97 121.61,85.43 121.08,87.31 120.54,87.77 120,88.24 119.41,88.71 118.83,89.22 118.24,89.73 117.65,90.18 117.06,89.61 116.47,90.12 115.89,91.53 115.3,92.04 114.78,92.19 114.26,92.67 113.73,92.49 113.21,92.97 112.69,94.81 112.17,94.06 111.64,94.54 111.12,94.94 110.6,95.42 110.07,95.9 109.53,97.15 109,97.63 108.47,97.29 107.93,97.97 107.4,98.44 106.87,99.58 106.33,100.06 105.8,100.83 105.27,101.31 104.73,101.09 104.2,101.57 103.67,101.95 103.13,102.42 102.6,102.31 102.07,102.79 101.53,103.27 101,104.49 100.53,105.1 100.07,105.72 99.6,106.33 99.13,106.94 98.67,107.56 98.2,108.17 97.73,108.78 97.27,109.39 96.8,110 96.63,110.7 96.45,111.39 96.28,112.09 96.1,112.78 95.93,113.48 95.76,114.17 95.58,114.87 95.41,115.57 95.23,116.26 95.06,116.96 94.89,117.65 94.71,118.35 94.54,119.04 94.37,119.74 94.19,120.43 94.02,121.13 93.84,121.83 93.67,122.52 93.5,123.22 93.32,123.91 93.15,124.61 92.97,125.3 92.8,126 92.73,126.71 92.66,127.41 92.59,128.12 92.52,128.82 92.45,129.53 92.38,130.24 92.31,130.94 92.24,131.65 92.16,132.35 92.09,133.06 92.02,133.76 91.95,134.47 91.88,135.18 91.81,135.88 91.74,136.59 91.67,137.29 91.6,138 91.53,138.71 91.46,139.41 91.39,140.12 91.32,140.82 91.25,141.53 91.18,142.24 91.11,142.94 91.04,143.65 90.96,144.35 90.89,145.06 90.82,145.76 90.75,146.47 90.68,147.18 90.61,147.88 90.54,148.59 90.47,149.29 90.4,150 90.36,150.71 90.33,151.41 90.29,152.12 90.26,152.82 90.22,153.53 90.19,154.24 90.15,154.94 90.12,155.65 90.08,156.35 90.05,157.06 90.01,157.76 89.98,158.47 89.94,159.18 89.91,159.88 89.87,160.59 89.84,161.29 89.8,162 89.74,162.7 89.69,163.41 89.63,164.11 89.57,164.82 89.52,165.52 89.46,166.23 89.4,166.93 89.35,167.64 89.29,168.34 89.23,169.05 89.17,169.75 89.12,170.45 89.06,171.16 89,171.86 88.95,172.57 88.89,173.27 88.83,173.98 88.78,174.68 88.72,175.39 88.66,176.09 88.61,176.8 88.55,177.5 88.49,178.2 88.44,178.91 88.38,179.61 88.32,180.32 88.27,181.02 88.21,181.73 88.15,182.43 88.1,183.14 88.04,183.84 87.98,184.55 87.92,185.25 87.87,185.95 87.81,186.66 87.75,187.36 87.7,188.07 87.64,188.77 87.58,189.48 87.53,190.18 87.47,190.89 87.41,191.59 87.36,192.3 87.3,193 87.17,193.7 87.04,194.4 86.91,195.1 86.78,195.8 86.65,196.5 86.52,197.2 86.39,197.9 86.26,198.6 86.13,199.3 86,200 85.84,200.78 85.68,201.56 85.52,202.34 85.36,203.12 85.2,203.9 84.49,203.9 83.79,203.9 83.08,203.9 82.37,203.9 81.67,203.9 80.96,203.9 80.25,203.9 79.55,203.9 78.84,203.9 78.13,203.9 77.43,203.9 76.72,203.9 76.01,203.9 75.31,203.9 74.6,203.9 73.89,203.9 73.19,203.9 72.48,203.9 71.77,203.9 71.07,203.9 70.36,203.9 69.65,203.9 68.95,203.9 68.24,203.9 67.53,203.9 66.83,203.9 66.12,203.9 65.41,203.9 64.71,203.9 64,203.9 64,204.95 64,206 63.1,206 62.2,206" fill="#ffaaaa" />
<polygon points="62.2,197.7 62.93,197.7 63.66,197.7 64.4,197.7 65.13,197.7 65.86,197.7 66.59,197.7 67.32,197.7 68.05,197.7 68.79,197.7 69.52,197.7 70.25,197.7 70.98,197.7 71.71,197.7 72.45,197.7 73.18,197.7 73.91,197.7 74.64,197.7 75.37,197.7 76.1,197.7 76.84,197.7 77.57,197.7 78.3,197.7 78.35,196.92 78.4,196.13 78.45,195.35 78.5,194.57 78.55,193.78 78.6,193 78.66,192.3 78.72,191.59 78.78,190.89 78.84,190.18 78.9,189.48 78.95,188.77 79.01,188.07 79.07,187.36 79.13,186.66 79.19,185.95 79.25,185.25 79.31,184.55 79.37,183.84 79.43,183.14 79.49,182.43 79.55,181.73 79.6,181.02 79.66,180.32 79.72,179.61 79.78,178.91 79.84,178.2 79.9,177.5 79.96,176.8 80.02,176.09 80.08,175.39 80.14,174.68 80.2,173.98 80.25,173.27 80.31,172.57 80.37,171.86 80.43,171.16 80.49,170.45 80.55,169.75 80.61,169.05 80.67,168.34 80.73,167.64 80.79,166.93 80.85,166.23 80.9,165.52 80.96,164.82 81.02,164.11 81.08,163.41 81.14,162.7 81.2,162 81.32,161.29 81.44,160.59 81.55,159.88 81.67,159.18 81.79,158.47 81.91,157.76 82.02,157.06 82.14,156.35 82.26,155.65 82.38,154.94 82.49,154.24 82.61,153.53 82.73,152.82 82.85,152.12 82.96,151.41 83.08,150.71 83.2,150 83.26,149.29 83.31,148.59 83.37,147.88 83.42,147.18 83.48,146.47 83.54,145.76 83.59,145.06 83.65,144.35 83.7,143.65 83.76,142.94 83.81,142.24 83.87,141.53 83.93,140.82 83.98,140.12 84.04,139.41 84.09,138.71 84.15,138 84.21,137.29 84.26,136.59 84.32,135.88 84.37,135.18 84.43,134.47 84.49,133.76 84.54,133.06 84.6,132.35 84.65,131.65 84.71,130.94 84.76,130.24 84.82,129.53 84.88,128.82 84.93,128.12 84.99,127.41 85.04,126.71 85.1,126 85.19,125.3 85.28,124.61 85.37,123.91 85.47,123.22 85.56,122.52 85.65,121.83 85.74,121.13 85.83,120.43 85.92,119.74 86.01,119.04 86.1,118.35 86.2,117.65 86.29,116.96 86.38,116.26 86.47,115.57 86.56,114.87 86.65,114.17 86.74,113.48 86.83,112.78 86.93,112.09 87.02,111.39 87.11,110.7 87.2,110 87.2,109.27 87.2,108.54 87.2,107.81 87.2,107.08 87.2,106.35 87.2,105.62 87.2,104.88 87.2,104.15 87.2,103.42 87.2,102.69 87.2,101.96 87.2,101.23 87.2,100.5 87.92,100.13 88.63,99.77 89.35,99.4 90.07,99.84 90.78,97.78 91.5,97.41 92.07,98.42 92.64,97.94 93.21,97.91 93.78,97.43 94.35,96.83 94.92,96.35 95.49,95.39 96.06,94.91 96.63,94.39 97.2,93.91 97.75,93.45 98.3,92.09 98.85,91.63 99.4,91.17 99.95,91.44 100.5,90.98 101.05,89.49 101.6,89.03 102.15,90.23 102.7,89.77 103.25,88.89 103.8,88.43 104.33,87.84 104.85,86.25 105.38,86.95 105.91,86.4 106.44,84.88 106.96,84.34 107.49,85.11 108.02,84.56 108.55,83.76 109.07,83.22 109.6,82.67 110.15,81.43 110.71,80.98 111.26,80.33 111.81,79.47 112.36,79.02 112.92,80.27 113.47,77.97 114.02,77.51 114.58,77.06 115.13,76.61 115.68,76.98 116.24,76.53 116.79,77.01 117.34,76.02 117.89,75.57 118.45,75.12 119,73.37 119.6,73.32 120.2,72.9 120.8,73.62 121.4,73.2 122,72.78 122.6,71.96 123.2,71.54 123.8,71.12 124.4,71.46 125,71.04 125.6,69.34 126.2,68.92 126.8,68.5 127.4,67.91 128,68 128.6,67.58 129.27,68.22 129.94,67.95 130.61,66.44 131.28,66.16 131.95,65.89 132.62,67.01 133.29,64.8 133.96,64.53 134.64,64.25 135.31,65.73 135.98,65.46 136.65,65.18 137.32,64.09 137.99,63.82 138.66,62.68 139.33,62.4 140,62.13 140.65,62.7 141.3,62.37 141.95,63.1 142.6,62.78 143.25,62.21 143.9,61.89 144.55,61.56 145.2,60.13 145.85,59.8 146.5,59.88 147.15,60.36 147.8,58.68 148.45,58.35 149.1,57.98 149.75,57.66 150.4,58.53 151.05,58.2 151.7,57.88 152.35,57.73 153,57.41 153.71,56.65 154.41,56.55 155.12,56.45 155.82,55.38 156.53,55.28 157.24,56.21 157.94,56.11 158.65,55.51 159.35,55.1 160.06,55.27 160.76,55.17 161.47,55.07 162.18,55.07 162.88,54.97 163.59,54.94 164.29,55.31 165,55.21 165.71,55.19 166.43,54.01 167.14,54.39 167.86,54.37 168.57,54.53 169.29,54.51 170,54.88 170.71,54.86 171.43,54.83 172.14,54.37 172.86,54.35 173.57,53.75 174.29,53.73 175,54.63 175.71,54.93 176.43,54.9 177.14,54.88 177.86,54.68 178.57,54.66 179.29,54.63 180,54.56 180.71,54.54 181.43,54.51 182.14,55.04 182.86,55.02 183.57,53.9 184.29,53.88 185,53.85 185.71,53.8 186.43,53.78 187.14,53.76 187.86,54.48 188.57,54.46 189.29,54.44 190,54.86 190.71,54.28 191.43,54.27 192.14,53.17 192.86,53.15 193.57,54.45 194.29,54.44 195,53.44 195.71,53.43 196.43,53.79 197.14,53.78 197.86,53.93 198.57,53.92 199.29,53.9 200,54.25 200.71,54.12 201.43,54.11 202.14,53.58 202.86,53.54 203.57,53.52 204.29,53.86 205,53.85 205.71,53.24 206.43,53.23 207.14,53.22 207.86,52.94 208.57,52.85 209.29,52.84 210,53.89 210.71,53.88 211.43,53.87 212.14,53.4 212.86,53.39 213.57,53.19 214.29,53.18 215,53.01 215.71,53 216.43,52.99 217.14,54.35 217.86,54.34 218.57,54.33 219.29,53.98 220,53.97 220.7,53.67 221.41,53.67 222.11,53.97 222.82,53.97 223.52,53.97 224.23,52.93 224.93,53.8 225.63,53.8 226.34,53.74 227.04,53.74 227.75,53.58 228.45,53 229.15,53 229.86,53 230.56,52.6 231.27,52.6 231.97,53.82 232.68,53.82 233.38,53.82 234.08,53.98 234.79,53.98 235.49,53.98 236.2,53.11 236.9,53.11 237.61,53.6 238.31,53.59 239.01,53.1 239.72,53.1 240.42,53.57 241.13,53.57 241.83,53.59 242.54,53.59 243.24,53.58 243.94,52.7 244.65,52.7 245.35,52.7 246.06,53.58 246.76,53.61 247.46,53.68 248.17,53.68 248.87,53.68 249.58,53.44 250.28,53.44 250.99,53.95 251.69,53.95 252.39,53.95 253.1,53.41 253.8,53.41 254.51,53.38 255.21,53.12 255.92,53.12 256.62,53.78 257.32,53.72 258.03,53.72 258.73,53.67 259.44,53.67 260.14,53.96 260.85,53.96 261.55,53.96 262.25,53.03 262.96,53.03 263.66,53.59 264.37,53.59 265.07,53.59 265.77,54.29 266.48,54.29 267.18,53.12 267.89,53.12 268.59,53.12 269.3,53.04 270,53.42 270.7,53.44 271.4,53.4 272.11,53.41 272.81,53.33 273.51,53.35 274.21,53.61 274.91,53.62 275.61,53.42 276.32,53.44 277.02,53.45 277.72,53.47 278.42,53.48 279.12,53.69 279.82,53.7 280.53,53.72 281.23,53.68 281.93,53.69 282.63,53.55 283.33,53.56 284.04,53.56 284.74,53.6 285.44,53.62 286.14,53.77 286.84,53.78 287.54,53.83 288.25,53.84 288.95,53.8 289.65,53.68 290.35,53.69 291.05,53.66 291.75,53.67 292.46,53.68 293.16,53.69 293.86,53.77 294.56,53.78 295.26,53.82 295.96,53.83 296.67,53.89 297.37,53.88 298.07,53.89 298.77,53.9 299.47,53.92 300.18,53.94 300.88,53.89 301.58,53.97 302.28,53.98 302.98,53.98 303.68,53.99 304.39,54 305.09,53.94 305.79,53.95 306.49,54.07 307.19,54.08 307.89,53.98 308.6,54.19 309.3,54.2 310,54.01 310.7,53.99 311.4,53.99 312.11,54.06 312.81,54.06 313.51,54.06 314.21,54.07 314.91,54.07 315.62,54.07 316.32,54.02 317.02,54.09 317.72,54.09 318.42,54.02 319.13,54.02 319.83,54.03 320.53,53.98 321.23,53.98 321.93,54.08 322.64,54.08 323.34,54.02 324.04,54.02 324.74,54.02 325.44,54.27 326.15,54.27 326.85,54.14 327.55,54.24 328.25,54.24 328.95,54.08 329.66,54.08 330.36,54.13 331.06,54.13 331.76,54.09 332.46,54.09 333.17,54.1 333.87,54.06 334.57,54.06 335.27,54.06 335.97,54.01 336.68,54.01 337.38,54.27 338.08,54.27 338.78,54.27 339.48,54.07 340.19,54.07 340.89,54.22 341.59,54.24 342.29,54.24 342.99,54.25 343.7,54.19 344.4,54.2 345.1,54.12 345.8,54.05 346.5,54.05 347.21,54.13 347.91,54.13 348.61,54.15 349.31,54.11 350.01,54.27 350.72,54.27 351.42,54.27 352.12,54.17 352.82,54.17 353.52,54.17 354.23,54.12 354.93,54.13 355.63,54.09 356.33,54.06 357.03,54.06 357.74,54.24 358.44,54.25 359.14,54.1 359.84,54.1 360.54,54.1 361.25,54.34 361.95,54.21 362.65,54.23 363.35,54.21 364.06,54.18 364.76,54.19 365.46,54.19 366.16,54.14 366.86,54.14 367.57,54.18 368.27,54.22 368.97,54.22 369.67,54.11 370.37,54.11 371.08,54.29 371.78,54.29 372.48,54.14 373.18,54.14 373.88,54.34 374.59,54.11 375.29,54.11 375.99,54.18 376.69,54.19 377.39,54.19 378.1,54.21 378.8,54.23 379.5,54.23 380.2,54.21 380.9,54.23 381.61,54.23 382.31,54.14 383.01,54.14 383.71,54.14 384.41,54.33 385.12,54.33 385.82,54.34 386.52,54.25 387.22,54.25 387.92,54.18 388.63,54.18 389.33,54.19 390.03,54.17 390.73,54.38 391.43,54.38 392.14,54.39 392.84,54.28 393.54,54.28 394.24,54.41 394.94,54.41 395.65,54.16 396.35,54.16 397.05,54.21 397.75,54.19 398.45,54.19 399.16,54.25 399.86,54.15 400.56,54.27 401.26,54.27 401.96,54.27 402.67,54.35 403.37,54.36 404.07,54.36 404.77,54.36 405.47,54.18 406.18,54.18 406.88,54.37 407.58,54.37 408.28,54.37 408.98,54.15 409.69,54.15 410.39,54.38 411.09,54.38 411.79,54.36 412.49,54.18 413.2,54.18 413.9,54.18 414.6,54.34 414.6,57.32 413.87,57.01 413.14,57.01 412.41,56.98 411.68,56.98 410.95,57.37 410.22,57.37 409.49,57.05 408.76,57.05 408.03,57.17 407.3,57.17 406.57,57.17 405.84,57.2 405.11,57.2 404.38,57.2 403.65,57.07 402.92,57.07 402.19,57.25 401.46,57.25 400.73,57.11 400,57.11 399.3,57.39 398.6,57.07 397.89,57.06 397.19,57.05 396.49,57.15 395.79,57.13 395.09,57.12 394.39,57.17 393.68,57.16 392.98,57.03 392.28,57.02 391.58,57.01 390.88,57.05 390.18,57.04 389.47,57.03 388.77,57.09 388.07,57.2 387.37,57.19 386.67,57.08 385.96,57.07 385.26,56.78 384.56,56.77 383.86,56.76 383.16,56.92 382.46,57.03 381.75,56.77 381.05,56.76 380.35,56.75 379.65,56.83 378.95,56.82 378.25,56.97 377.54,56.96 376.84,56.95 376.14,56.99 375.44,56.98 374.74,57.07 374.04,57.06 373.33,56.71 372.63,56.59 371.93,56.58 371.23,56.57 370.53,56.56 369.82,56.96 369.12,56.95 368.42,56.97 367.72,56.59 367.02,56.58 366.32,56.66 365.61,56.59 364.91,56.58 364.21,56.71 363.51,56.76 362.81,56.75 362.11,56.79 361.4,56.77 360.7,56.76 360,56.41 359.3,56.4 358.59,56.67 357.89,56.53 357.18,56.53 356.48,56.51 355.77,56.5 355.07,56.49 354.37,56.44 353.66,56.43 352.96,56.42 352.25,56.31 351.55,56.5 350.85,56.26 350.14,56.25 349.44,56.41 348.73,56.4 348.03,56.52 347.32,56.51 346.62,56.5 345.92,56.64 345.21,56.63 344.51,56.6 343.8,56.59 343.1,56.6 342.39,56.59 341.69,56.32 340.99,56.31 340.28,56.3 339.58,56.54 338.87,56.53 338.17,56.22 337.46,56.21 336.76,56.06 336.06,56.05 335.35,56.05 334.65,56.04 333.94,56.03 333.24,56.25 332.54,56.24 331.83,56.25 331.13,55.95 330.42,55.94 329.72,56.4 329.01,56.09 328.31,56.36 327.61,56.35 326.9,56.33 326.2,56.32 325.49,56.31 324.79,55.89 324.08,55.88 323.38,56.19 322.68,56.18 321.97,56.29 321.27,56.08 320.56,56.07 319.86,56.27 319.15,56.26 318.45,56.27 317.75,56.26 317.04,55.75 316.34,56.23 315.63,56.22 314.93,55.95 314.23,56 313.52,55.79 312.82,55.78 312.11,56.09 311.41,56.08 310.7,55.82 310,55.82 309.3,56.12 308.59,55.94 307.89,55.94 307.19,55.94 306.48,56.09 305.78,56.09 305.08,55.79 304.38,55.76 303.67,55.76 302.97,56.05 302.27,56.05 301.56,56.05 300.86,56.04 300.16,55.7 299.45,55.7 298.75,56.07 298.05,56.07 297.34,56.07 296.64,55.61 295.94,55.61 295.23,55.6 294.53,56.01 293.83,56.01 293.12,56 292.42,55.81 291.72,55.8 291.02,55.95 290.31,55.94 289.61,55.86 288.91,55.85 288.2,55.85 287.5,56.01 286.8,56.01 286.09,55.81 285.39,55.68 284.69,55.68 283.98,55.55 283.28,55.54 282.58,55.65 281.88,55.65 281.17,56 280.47,56 279.77,55.98 279.06,55.97 278.36,55.97 277.66,55.86 276.95,55.86 276.25,55.71 275.55,55.91 274.84,55.91 274.14,55.73 273.44,55.73 272.73,55.77 272.03,55.77 271.33,55.77 270.62,55.7 269.92,55.8 269.22,55.8 268.52,55.63 267.81,55.62 267.11,55.62 266.41,55.49 265.7,55.49 265,55.49 264.3,55.9 263.59,55.77 262.89,55.63 262.19,55.62 261.48,55.62 260.78,55.79 260.08,55.79 259.38,55.78 258.67,55.43 257.97,55.42 257.27,55.69 256.56,55.69 255.86,55.69 255.16,55.76 254.45,55.88 253.75,55.88 253.05,55.46 252.34,55.46 251.64,55.46 250.94,55.73 250.23,55.73 249.53,55.56 248.83,55.84 248.12,55.84 247.42,55.83 246.72,55.65 246.02,55.65 245.31,55.7 244.61,55.7 243.91,55.36 243.2,55.36 242.5,55.83 241.8,55.83 241.09,55.83 240.39,55.42 239.69,55.42 238.98,55.52 238.28,55.52 237.58,55.71 236.88,55.7 236.17,55.43 235.47,55.78 234.77,55.64 234.06,55.63 233.36,55.63 232.66,55.78 231.95,55.78 231.25,55.35 230.55,55.35 229.84,55.36 229.14,55.5 228.44,55.49 227.73,55.56 227.03,55.56 226.33,55.3 225.62,55.29 224.92,55.29 224.22,55.6 223.52,55.59 222.81,55.58 222.11,55.57 221.41,55.7 220.7,55.7 220,55.47 219.29,55.49 218.57,55.66 217.86,55.68 217.14,55.66 216.43,55.68 215.71,55.69 215,55.54 214.29,55.76 213.57,55.75 212.86,55.77 212.14,55.6 211.43,55.68 210.71,55.7 210,55.71 209.29,55.96 208.57,55.98 207.86,55.71 207.14,55.72 206.43,55.91 205.71,55.93 205,55.97 204.29,55.99 203.57,55.79 202.86,55.81 202.14,56.06 201.43,56.08 200.71,56.1 200,55.77 199.29,55.74 198.57,55.76 197.86,55.78 197.14,55.94 196.43,55.96 195.71,55.89 195,56.12 194.29,56.23 193.57,56.3 192.86,56.32 192.14,56.33 191.43,56.18 190.71,56.14 190,56.15 189.29,56.27 188.57,56.31 187.86,56.22 187.14,56.26 186.43,56.35 185.71,56.39 185,56.43 184.29,56.49 183.57,56.53 182.86,56.51 182.14,56.55 181.43,56.75 180.71,56.79 180,56.83 179.29,56.95 178.57,56.99 177.86,56.88 177.14,56.82 176.43,56.86 175.71,57.14 175,56.8 174.29,56.84 173.57,57.2 172.86,57.33 172.14,57.37 171.43,57.07 170.71,57.11 170,57.15 169.29,57.56 168.57,57.6 167.86,57.64 167.14,57.3 166.43,57.34 165.71,57.38 165,57.47 164.29,57.76 163.59,57.71 162.88,57.85 162.18,58.2 161.47,58.34 160.76,58.63 160.06,58.76 159.35,59.02 158.65,59.16 157.94,58.62 157.24,58.76 156.53,58.89 155.82,58.45 155.12,60.56 154.41,60.7 153.71,60.01 153,60.14 152.38,59.79 151.76,60.16 151.14,62.01 150.52,62.38 149.9,62.22 149.29,62.59 148.67,63.12 148.05,63.49 147.43,63.02 146.81,63.08 146.19,63.45 145.57,64.26 144.95,64.63 144.33,66.16 143.71,66.53 143.1,66.9 142.48,65.54 141.86,65.91 141.24,66.28 140.62,68.04 140,68.5 139.37,68.82 138.73,67.59 138.1,68.81 137.47,69.4 136.83,69.92 136.2,70.23 135.57,70.99 134.93,71.3 134.3,70.17 133.67,70.49 133.03,70.8 132.4,72.21 131.77,70.92 131.13,71.23 130.5,71.76 129.87,72.08 129.23,72.39 128.6,72.31 128.04,72.78 127.47,75.42 126.91,75.9 126.34,74.51 125.78,74.98 125.21,76.29 124.65,76.76 124.08,77.24 123.52,78.79 122.95,79.26 122.39,77.82 121.82,78.3 121.26,80.65 120.69,81.13 120.13,81.61 119.56,81.42 119,81.9 118.55,81.41 118.1,82.04 117.65,83.21 117.2,84.6 116.67,85.15 116.13,86.15 115.6,86.69 115.07,87.24 114.53,86.51 114,87.06 113.47,87.58 112.93,88.12 112.4,89.4 111.8,90.1 111.2,89.49 110.6,90.19 110.12,90.73 109.64,92.27 109.16,92.81 108.68,92.53 108.2,93.07 107.72,93.61 107.24,94.32 106.76,94.86 106.28,95.74 105.8,96.28 105.27,96.38 104.73,96.9 104.2,98.85 103.67,99.37 103.13,99.09 102.6,99.61 102.07,99.33 101.53,99.85 101,100.27 100.48,100.81 99.96,101.34 99.43,103.45 98.91,103.99 98.39,104.07 97.87,104.6 97.34,105.79 96.82,106.33 96.3,106.86 95.83,105.63 95.36,106.69 94.89,107.66 94.41,108.24 93.94,108.83 93.47,109.41 93,110 92.87,110.7 92.73,111.39 92.6,112.09 92.46,112.78 92.33,113.48 92.19,114.17 92.06,114.87 91.92,115.57 91.79,116.26 91.65,116.96 91.52,117.65 91.38,118.35 91.25,119.04 91.11,119.74 90.98,120.43 90.84,121.13 90.71,121.83 90.57,122.52 90.44,123.22 90.3,123.91 90.17,124.61 90.03,125.3 89.9,126 89.84,126.71 89.79,127.41 89.73,128.12 89.68,128.82 89.62,129.53 89.56,130.24 89.51,130.94 89.45,131.65 89.4,132.35 89.34,133.06 89.29,133.76 89.23,134.47 89.17,135.18 89.12,135.88 89.06,136.59 89.01,137.29 88.95,138 88.89,138.71 88.84,139.41 88.78,140.12 88.73,140.82 88.67,141.53 88.61,142.24 88.56,142.94 88.5,143.65 88.45,144.35 88.39,145.06 88.34,145.76 88.28,146.47 88.22,147.18 88.17,147.88 88.11,148.59 88.06,149.29 88,150 87.93,150.71 87.86,151.41 87.79,152.12 87.72,152.82 87.65,153.53 87.58,154.24 87.51,154.94 87.44,155.65 87.36,156.35 87.29,157.06 87.22,157.76 87.15,158.47 87.08,159.18 87.01,159.88 86.94,160.59 86.87,161.29 86.8,162 86.72,162.7 86.64,163.41 86.55,164.11 86.47,164.82 86.39,165.52 86.31,166.23 86.23,166.93 86.15,167.64 86.06,168.34 85.98,169.05 85.9,169.75 85.82,170.45 85.74,171.16 85.65,171.86 85.57,172.57 85.49,173.27 85.41,173.98 85.33,174.68 85.25,175.39 85.16,176.09 85.08,176.8 85,177.5 84.92,178.2 84.84,178.91 84.75,179.61 84.67,180.32 84.59,181.02 84.51,181.73 84.43,182.43 84.35,183.14 84.26,183.84 84.18,184.55 84.1,185.25 84.02,185.95 83.94,186.66 83.85,187.36 83.77,188.07 83.69,188.77 83.61,189.48 83.53,190.18 83.45,190.89 83.36,191.59 83.28,192.3 83.2,193 82.95,193.69 82.71,194.38 82.46,195.07 82.22,195.76 81.97,196.45 81.73,197.15 81.48,197.84 81.24,198.53 80.99,199.22 80.75,199.91 80.5,200.6 79.8,200.6 79.09,200.6 78.39,200.6 77.68,200.6 76.98,200.6 76.28,200.6 75.57,200.6 74.87,200.6 74.17,200.6 73.46,200.6 72.76,200.6 72.05,200.6 71.35,200.6 70.65,200.6 69.94,200.6 69.24,200.6 68.53,200.6 67.83,200.6 67.13,200.6 66.42,200.6 65.72,200.6 65.02,200.6 64.31,200.6 63.61,200.6 62.9,200.6 62.2,200.6" fill="#996633" />
<rect x="272" y="53.04" width="1.45" height="1.8" fill="#996633"/>
<rect x="274.5" y="53.08" width="1.45" height="1.8" fill="#996633"/>
<rect x="277" y="53.12" width="1.45" height="1.8" fill="#996633"/>
<rect x="279.5" y="53.17" width="1.45" height="1.8" fill="#996633"/>
<rect x="282" y="53.21" width="1.45" height="1.8" fill="#996633"/>
<rect x="284.5" y="53.25" width="1.45" height="1.8" fill="#996633"/>
<rect x="287" y="53.3" width="1.45" height="1.8" fill="#996633"/>
<rect x="289.5" y="53.34" width="1.45" height="1.8" fill="#996633"/>
<rect x="292" y="53.39" width="1.45" height="1.8" fill="#996633"/>
<rect x="294.5" y="53.43" width="1.45" height="1.8" fill="#996633"/>
<rect x="297" y="53.47" width="1.45" height="1.8" fill="#996633"/>
<rect x="299.5" y="53.52" width="1.45" height="1.8" fill="#996633"/>
<rect x="302" y="53.56" width="1.45" height="1.8" fill="#996633"/>
<rect x="304.5" y="53.6" width="1.45" height="1.8" fill="#996633"/>
<rect x="307" y="53.65" width="1.45" height="1.8" fill="#996633"/>
<rect x="309.5" y="53.69" width="1.45" height="1.8" fill="#996633"/>
<rect x="312" y="53.7" width="1.45" height="1.8" fill="#996633"/>
<rect x="314.5" y="53.71" width="1.45" height="1.8" fill="#996633"/>
<rect x="317" y="53.71" width="1.45" height="1.8" fill="#996633"/>
<rect x="319.5" y="53.72" width="1.45" height="1.8" fill="#996633"/>
<rect x="322" y="53.72" width="1.45" height="1.8" fill="#996633"/>
<rect x="324.5" y="53.73" width="1.45" height="1.8" fill="#996633"/>
<rect x="327" y="53.73" width="1.45" height="1.8" fill="#996633"/>
<rect x="329.5" y="53.74" width="1.45" height="1.8" fill="#996633"/>
<rect x="332" y="53.74" width="1.45" height="1.8" fill="#996633"/>
<rect x="334.5" y="53.75" width="1.45" height="1.8" fill="#996633"/>
<rect x="337" y="53.75" width="1.45" height="1.8" fill="#996633"/>
<rect x="339.5" y="53.76" width="1.45" height="1.8" fill="#996633"/>
<rect x="342" y="53.76" width="1.45" height="1.8" fill="#996633"/>
<rect x="344.5" y="53.77" width="1.45" height="1.8" fill="#996633"/>
<rect x="347" y="53.77" width="1.45" height="1.8" fill="#996633"/>
<rect x="349.5" y="53.78" width="1.45" height="1.8" fill="#996633"/>
<rect x="352" y="53.78" width="1.45" height="1.8" fill="#996633"/>
<rect x="354.5" y="53.79" width="1.45" height="1.8" fill="#996633"/>
<rect x="357" y="53.79" width="1.45" height="1.8" fill="#996633"/>
<rect x="359.5" y="53.79" width="1.45" height="1.8" fill="#996633"/>
<rect x="362" y="53.8" width="1.45" height="1.8" fill="#996633"/>
<rect x="364.5" y="53.8" width="1.45" height="1.8" fill="#996633"/>
<rect x="367" y="53.81" width="1.45" height="1.8" fill="#996633"/>
<rect x="369.5" y="53.81" width="1.45" height="1.8" fill="#996633"/>
<rect x="372" y="53.82" width="1.45" height="1.8" fill="#996633"/>
<rect x="374.5" y="53.82" width="1.45" height="1.8" fill="#996633"/>
<rect x="377" y="53.83" width="1.45" height="1.8" fill="#996633"/>
<rect x="379.5" y="53.83" width="1.45" height="1.8" fill="#996633"/>
<rect x="382" y="53.84" width="1.45" height="1.8" fill="#996633"/>
<rect x="384.5" y="53.84" width="1.45" height="1.8" fill="#996633"/>
<rect x="387" y="53.85" width="1.45" height="1.8" fill="#996633"/>
<rect x="389.5" y="53.85" width="1.45" height="1.8" fill="#996633"/>
<rect x="392" y="53.86" width="1.45" height="1.8" fill="#996633"/>
<rect x="394.5" y="53.86" width="1.45" height="1.8" fill="#996633"/>
<rect x="397" y="53.87" width="1.45" height="1.8" fill="#996633"/>
<rect x="399.5" y="53.87" width="1.45" height="1.8" fill="#996633"/>
<rect x="402" y="53.88" width="1.45" height="1.8" fill="#996633"/>
<rect x="404.5" y="53.88" width="1.45" height="1.8" fill="#996633"/>
<rect x="407" y="53.89" width="1.45" height="1.8" fill="#996633"/>
<rect x="409.5" y="53.89" width="1.45" height="1.8" fill="#996633"/>
<rect x="412" y="53.9" width="1.45" height="1.8" fill="#996633"/>
</g>
<g id="axes">
<rect x="56.0" y="3.3" width="364.5" height="226.0" fill="none" stroke="#7c7c7c" stroke-width="0.9"/>
<line x1="63.4" y1="229.3" x2="63.4" y2="226.1" stroke="#7c7c7c" stroke-width="0.8"/>
<line x1="63.4" y1="3.3" x2="63.4" y2="6.5" stroke="#7c7c7c" stroke-width="0.8"/>
<line x1="77.16" y1="229.3" x2="77.16" y2="227.3" stroke="#7c7c7c" stroke-width="0.8"/>
<line x1="77.16" y1="3.3" x2="77.16" y2="5.3" stroke="#7c7c7c" stroke-width="0.8"/>
<line x1="90.92" y1="229.3" x2="90.92" y2="227.3" stroke="#7c7c7c" stroke-width="0.8"/>
<line x1="90.92" y1="3.3" x2="90.92" y2="5.3" stroke="#7c7c7c" stroke-width="0.8"/>
<line x1="104.68" y1="229.3" x2="104.68" y2="227.3" stroke="#7c7c7c" stroke-width="0.8"/>
<line x1="104.68" y1="3.3" x2="104.68" y2="5.3" stroke="#7c7c7c" stroke-width="0.8"/>
<line x1="118.44" y1="229.3" x2="118.44" y2="227.3" stroke="#7c7c7c" stroke-width="0.8"/>
<line x1="118.44" y1="3.3" x2="118.44" y2="5.3" stroke="#7c7c7c" stroke-width="0.8"/>
<line x1="132.2" y1="229.3" x2="132.2" y2="226.1" stroke="#7c7c7c" stroke-width="0.8"/>
<line x1="132.2" y1="3.3" x2="132.2" y2="6.5" stroke="#7c7c7c" stroke-width="0.8"/>
<line x1="145.96" y1="229.3" x2="145.96" y2="227.3" stroke="#7c7c7c" stroke-width="0.8"/>
<line x1="145.96" y1="3.3" x2="145.96" y2="5.3" stroke="#7c7c7c" stroke-width="0.8"/>
<line x1="159.72" y1="229.3" x2="159.72" y2="227.3" stroke="#7c7c7c" stroke-width="0.8"/>
<line x1="159.72" y1="3.3" x2="159.72" y2="5.3" stroke="#7c7c7c" stroke-width="0.8"/>
<line x1="173.48" y1="229.3" x2="173.48" y2="227.3" stroke="#7c7c7c" stroke-width="0.8"/>
<line x1="173.48" y1="3.3" x2="173.48" y2="5.3" stroke="#7c7c7c" stroke-width="0.8"/>
<line x1="187.24" y1="229.3" x2="187.24" y2="227.3" stroke="#7c7c7c" stroke-width="0.8"/>
<line x1="187.24" y1="3.3" x2="187.24" y2="5.3" stroke="#7c7c7c" stroke-width="0.8"/>
<line x1="201" y1="229.3" x2="201" y2="226.1" stroke="#7c7c7c" stroke-width="0.8"/>
<line x1="201" y1="3.3" x2="201" y2="6.5" stroke="#7c7c7c" stroke-width="0.8"/>
<line x1="214.76" y1="229.3" x2="214.76" y2="227.3" stroke="#7c7c7c" stroke-width="0.8"/>
<line x1="214.76" y1="3.3" x2="214.76" y2="5.3" stroke="#7c7c7c" stroke-width="0.8"/>
<line x1="228.52" y1="229.3" x2="228.52" y2="227.3" stroke="#7c7c7c" stroke-width="0.8"/>
<line x1="228.52" y1="3.3" x2="228.52" y2="5.3" stroke="#7c7c7c" stroke-width="0.8"/>
<line x1="242.28" y1="229.3" x2="242.28" y2="227.3" stroke="#7c7c7c" stroke-width="0.8"/>
<line x1="242.28" y1="3.3" x2="242.28" y2="5.3" stroke="#7c7c7c" stroke-width="0.8"/>
<line x1="256.04" y1="229.3" x2="256.04" y2="227.3" stroke="#7c7c7c" stroke-width="0.8"/>
<line x1="256.04" y1="3.3" x2="256.04" y2="5.3" stroke="#7c7c7c" stroke-width="0.8"/>
<line x1="269.8" y1="229.3" x2="269.8" y2="226.1" stroke="#7c7c7c" stroke-width="0.8"/>
<line x1="269.8" y1="3.3" x2="269.8" y2="6.5" stroke="#7c7c7c" stroke-width="0.8"/>
<line x1="283.56" y1="229.3" x2="283.56" y2="227.3" stroke="#7c7c7c" stroke-width="0.8"/>
<line x1="283.56" y1="3.3" x2="283.56" y2="5.3" stroke="#7c7c7c" stroke-width="0.8"/>
<line x1="297.32" y1="229.3" x2="297.32" y2="227.3" stroke="#7c7c7c" stroke-width="0.8"/>
<line x1="297.32" y1="3.3" x2="297.32" y2="5.3" stroke="#7c7c7c" stroke-width="0.8"/>
<line x1="311.08" y1="229.3" x2="311.08" y2="227.3" stroke="#7c7c7c" stroke-width="0.8"/>
<line x1="311.08" y1="3.3" x2="311.08" y2="5.3" stroke="#7c7c7c" stroke-width="0.8"/>
<line x1="324.84" y1="229.3" x2="324.84" y2="227.3" stroke="#7c7c7c" stroke-width="0.8"/>
<line x1="324.84" y1="3.3" x2="324.84" y2="5.3" stroke="#7c7c7c" stroke-width="0.8"/>
<line x1="338.6" y1="229.3" x2="338.6" y2="226.1" stroke="#7c7c7c" stroke-width="0.8"/>
<line x1="338.6" y1="3.3" x2="338.6" y2="6.5" stroke="#7c7c7c" stroke-width="0.8"/>
<line x1="352.36" y1="229.3" x2="352.36" y2="227.3" stroke="#7c7c7c" stroke-width="0.8"/>
<line x1="352.36" y1="3.3" x2="352.36" y2="5.3" stroke="#7c7c7c" stroke-width="0.8"/>
<line x1="366.12" y1="229.3" x2="366.12" y2="227.3" stroke="#7c7c7c" stroke-width="0.8"/>
<line x1="366.12" y1="3.3" x2="366.12" y2="5.3" stroke="#7c7c7c" stroke-width="0.8"/>
<line x1="379.88" y1="229.3" x2="379.88" y2="227.3" stroke="#7c7c7c" stroke-width="0.8"/>
<line x1="379.88" y1="3.3" x2="379.88" y2="5.3" stroke="#7c7c7c" stroke-width="0.8"/>
<line x1="393.64" y1="229.3" x2="393.64" y2="227.3" stroke="#7c7c7c" stroke-width="0.8"/>
<line x1="393.64" y1="3.3" x2="393.64" y2="5.3" stroke="#7c7c7c" stroke-width="0.8"/>
<line x1="407.4" y1="229.3" x2="407.4" y2="226.1" stroke="#7c7c7c" stroke-width="0.8"/>
<line x1="407.4" y1="3.3" x2="407.4" y2="6.5" stroke="#7c7c7c" stroke-width="0.8"/>
<line x1="56" y1="207.2" x2="58" y2="207.2" stroke="#7c7c7c" stroke-width="0.8"/>
<line x1="420.5" y1="207.2" x2="418.5" y2="207.2" stroke="#7c7c7c" stroke-width="0.8"/>
<line x1="56" y1="184.5" x2="59.5" y2="184.5" stroke="#7c7c7c" stroke-width="0.8"/>
<line x1="420.5" y1="184.5" x2="417" y2="184.5" stroke="#7c7c7c" stroke-width="0.8"/>
<line x1="56" y1="161.8" x2="58" y2="161.8" stroke="#7c7c7c" stroke-width="0.8"/>
<line x1="420.5" y1="161.8" x2="418.5" y2="161.8" stroke="#7c7c7c" stroke-width="0.8"/>
<line x1="56" y1="139.1" x2="58" y2="139.1" stroke="#7c7c7c" stroke-width="0.8"/>
<line x1="420.5" y1="139.1" x2="418.5" y2="139.1" stroke="#7c7c7c" stroke-width="0.8"/>
<line x1="56" y1="116.4" x2="59.5" y2="116.4" stroke="#7c7c7c" stroke-width="0.8"/>
<line x1="420.5" y1="116.4" x2="417" y2="116.4" stroke="#7c7c7c" stroke-width="0.8"/>
<line x1="56" y1="93.7" x2="58" y2="93.7" stroke="#7c7c7c" stroke-width="0.8"/>
<line x1="420.5" y1="93.7" x2="418.5" y2="93.7" stroke="#7c7c7c" stroke-width="0.8"/>
<line x1="56" y1="71" x2="58" y2="71" stroke="#7c7c7c" stroke-width="0.8"/>
<line x1="420.5" y1="71" x2="418.5" y2="71" stroke="#7c7c7c" stroke-width="0.8"/>
<line x1="56" y1="48.3" x2="59.5" y2="48.3" stroke="#7c7c7c" stroke-width="0.8"/>
<line x1="420.5" y1="48.3" x2="417" y2="48.3" stroke="#7c7c7c" stroke-width="0.8"/>
<line x1="56" y1="25.6" x2="58" y2="25.6" stroke="#7c7c7c" stroke-width="0.8"/>
<line x1="420.5" y1="25.6" x2="418.5" y2="25.6" stroke="#7c7c7c" stroke-width="0.8"/>
</g>
<g id="labels">
<text x="63.6" y="246.0" text-anchor="middle" font-size="14.6">0</text>
<text x="132.4" y="246.0" text-anchor="middle" font-size="14.6">100</text>
<text x="201.2" y="246.0" text-anchor="middle" font-size="14.6">200</text>
<text x="270" y="246.0" text-anchor="middle" font-size="14.6">300</text>
<text x="338.8" y="246.0" text-anchor="middle" font-size="14.6">400</text>
<text x="407.6" y="246.0" text-anchor="middle" font-size="14.6">500</text>
<text x="52.0" y="53.8" text-anchor="end" font-size="14.6">0.1</text>
<text x="23.9" y="121.9" font-size="14.6">10<tspan font-size="10.4" dy="-5.6" dx="0.3">−4</tspan></text>
<text x="23.9" y="190" font-size="14.6">10<tspan font-size="10.4" dy="-5.6" dx="0.3">−7</tspan></text>
<text x="235.2" y="267.6" font-size="14" font-style="italic">η</text>
<text x="236.8" y="262.2" font-size="11" font-style="italic">~</text>
<g transform="translate(15.0,128.8) rotate(-90)"><text x="0" y="0" font-size="15" font-style="italic">a<tspan font-size="10.4" dy="-6.3" dx="-1.2">4</tspan><tspan dy="6.3" dx="3.9">ρ</tspan></text><text x="18.0" y="-5.6" font-size="11.5" font-style="italic">~</text></g>
</g>
<g id="legend">
<rect x="160.5" y="147.1" width="155.4" height="68.2" fill="#ffffff" stroke="#1a1a1a" stroke-width="1"/>
<text x="225.9" y="160.2" font-size="13" letter-spacing="0.55">p=4</text>
<line x1="164.2" y1="171.9" x2="178.5" y2="171.9" stroke="#0000ad" stroke-width="1.9"/>
<text x="182.6" y="176" font-size="12.4" font-style="italic">E</text>
<text x="189.9" y="179.6" font-size="9.7" font-style="italic">K</text>
<text x="190.1" y="171.2" font-size="9.8">Φ</text>
<line x1="164.2" y1="188.2" x2="178.5" y2="188.2" stroke="#9595ff" stroke-width="1.9"/>
<text x="182.6" y="192.3" font-size="12.4" font-style="italic">E</text>
<text x="189.9" y="195.9" font-size="9.7" font-style="italic">G</text>
<text x="190.1" y="187.5" font-size="9.8">Φ</text>
<line x1="164.2" y1="204.7" x2="178.5" y2="204.7" stroke="#ff0000" stroke-width="1.9"/>
<text x="182.6" y="208.8" font-size="12.4" font-style="italic">E</text>
<text x="189.9" y="212.4" font-size="9.7" font-style="italic">K</text>
<text x="190.1" y="203.4" font-size="9.8" font-style="italic">A</text>
<line x1="201.4" y1="171.9" x2="215.7" y2="171.9" stroke="#ff8000" stroke-width="1.9"/>
<text x="219.8" y="176" font-size="12.4" font-style="italic">E</text>
<text x="227.1" y="179.6" font-size="9.7" font-style="italic">G</text>
<text x="227.3" y="170.6" font-size="9.8" font-style="italic">A</text>
<line x1="201.4" y1="188.2" x2="215.7" y2="188.2" stroke="#800080" stroke-width="1.9"/>
<text x="219.8" y="192.3" font-size="12.4" font-style="italic">E</text>
<text x="227.1" y="195.9" font-size="9.7" font-style="italic">K</text>
<text x="227.3" y="186.9" font-size="9.8" font-style="italic">B</text>
<line x1="201.4" y1="204.7" x2="215.7" y2="204.7" stroke="#c78ad0" stroke-width="1.9"/>
<text x="219.8" y="208.8" font-size="12.4" font-style="italic">E</text>
<text x="227.1" y="212.4" font-size="9.7" font-style="italic">G</text>
<text x="227.3" y="203.4" font-size="9.8" font-style="italic">B</text>
<line x1="238.4" y1="171.9" x2="252.7" y2="171.9" stroke="#996633" stroke-width="1.9"/>
<text x="256.8" y="176" font-size="12.4" font-style="italic">E</text>
<text x="264.1" y="179.6" font-size="9.7" font-style="italic">K</text>
<text x="264.3" y="170.6" font-size="9.8" font-style="italic">X</text>
<line x1="238.4" y1="188.2" x2="252.7" y2="188.2" stroke="#ffaaaa" stroke-width="1.9"/>
<text x="256.8" y="192.3" font-size="12.4" font-style="italic">E</text>
<text x="264.1" y="195.9" font-size="9.7" font-style="italic">G</text>
<text x="264.3" y="186.9" font-size="9.8" font-style="italic">X</text>
<line x1="238.4" y1="204.7" x2="252.7" y2="204.7" stroke="#00a000" stroke-width="1.9"/>
<text x="256.8" y="208.8" font-size="12.4" font-style="italic">E</text>
<text x="264.1" y="212.4" font-size="9.7" font-style="italic">V</text>
<line x1="275.4" y1="171.9" x2="289.7" y2="171.9" stroke="#90ff90" stroke-width="1.9"/>
<text x="293.8" y="176" font-size="12.4" font-style="italic">E</text>
<text x="301.7" y="178.8" font-size="9.4">int</text>
<line x1="275.4" y1="188.2" x2="289.7" y2="188.2" stroke="#000000" stroke-width="1.9"/>
<text x="294.4" y="192.1" font-size="12.4" font-style="italic">ρ</text>
<text x="296" y="186.7" font-size="10" font-style="italic">~</text>
</g>
</svg>
</body></html>
